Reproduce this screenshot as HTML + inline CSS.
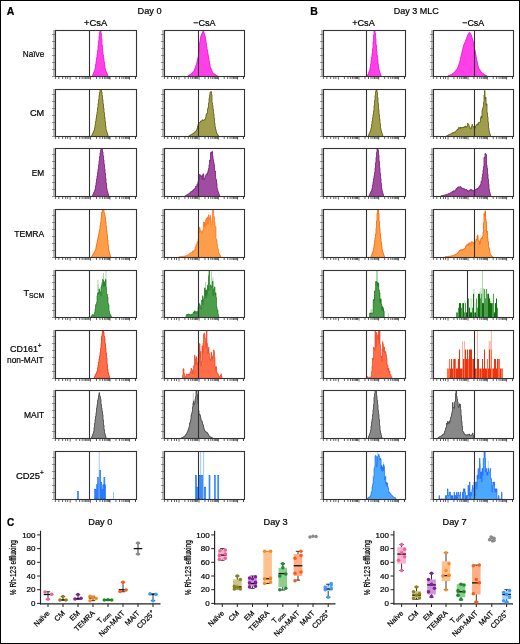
<!DOCTYPE html><html><head><meta charset="utf-8"><style>html,body{margin:0;padding:0;background:#fff;overflow:hidden;} svg{display:block;will-change:transform;} text{font-family:'Liberation Sans',sans-serif;stroke:#000;stroke-width:0.22px;}</style></head><body>
<svg width="520" height="644" viewBox="0 0 520 644">
<rect x="0" y="0" width="520" height="644" fill="#fff"/>
<rect x="53" y="30" width="2" height="46" fill="#b8b8b8"/>
<line x1="52" y1="76.5" x2="55" y2="76.5" stroke="#666" stroke-width="0.7"/>
<line x1="52" y1="69.5" x2="55" y2="69.5" stroke="#666" stroke-width="0.7"/>
<line x1="52" y1="62.5" x2="55" y2="62.5" stroke="#666" stroke-width="0.7"/>
<line x1="52" y1="55.5" x2="55" y2="55.5" stroke="#666" stroke-width="0.7"/>
<line x1="52" y1="48.5" x2="55" y2="48.5" stroke="#666" stroke-width="0.7"/>
<line x1="52" y1="41.5" x2="55" y2="41.5" stroke="#666" stroke-width="0.7"/>
<line x1="52" y1="34.5" x2="55" y2="34.5" stroke="#666" stroke-width="0.7"/>
<line x1="55.40" y1="76" x2="55.40" y2="79.0" stroke="#333" stroke-width="0.75"/>
<line x1="58.80" y1="76" x2="58.80" y2="79.0" stroke="#333" stroke-width="0.75"/>
<line x1="62.60" y1="76" x2="62.60" y2="79.0" stroke="#333" stroke-width="0.75"/>
<line x1="65.60" y1="76" x2="65.60" y2="79.0" stroke="#333" stroke-width="0.75"/>
<line x1="67.70" y1="76" x2="67.70" y2="79.0" stroke="#333" stroke-width="0.75"/>
<line x1="70.20" y1="76" x2="70.20" y2="79.6" stroke="#333" stroke-width="0.75"/>
<line x1="76.16" y1="76" x2="76.16" y2="79.0" stroke="#333" stroke-width="0.75"/>
<line x1="79.65" y1="76" x2="79.65" y2="79.0" stroke="#333" stroke-width="0.75"/>
<line x1="82.12" y1="76" x2="82.12" y2="79.0" stroke="#333" stroke-width="0.75"/>
<line x1="84.04" y1="76" x2="84.04" y2="79.0" stroke="#333" stroke-width="0.75"/>
<line x1="85.61" y1="76" x2="85.61" y2="79.0" stroke="#333" stroke-width="0.75"/>
<line x1="86.93" y1="76" x2="86.93" y2="79.0" stroke="#333" stroke-width="0.75"/>
<line x1="88.08" y1="76" x2="88.08" y2="79.0" stroke="#333" stroke-width="0.75"/>
<line x1="89.09" y1="76" x2="89.09" y2="79.0" stroke="#333" stroke-width="0.75"/>
<line x1="90.50" y1="76" x2="90.50" y2="79.6" stroke="#333" stroke-width="0.75"/>
<line x1="96.46" y1="76" x2="96.46" y2="79.0" stroke="#333" stroke-width="0.75"/>
<line x1="99.95" y1="76" x2="99.95" y2="79.0" stroke="#333" stroke-width="0.75"/>
<line x1="102.42" y1="76" x2="102.42" y2="79.0" stroke="#333" stroke-width="0.75"/>
<line x1="104.34" y1="76" x2="104.34" y2="79.0" stroke="#333" stroke-width="0.75"/>
<line x1="105.91" y1="76" x2="105.91" y2="79.0" stroke="#333" stroke-width="0.75"/>
<line x1="107.23" y1="76" x2="107.23" y2="79.0" stroke="#333" stroke-width="0.75"/>
<line x1="108.38" y1="76" x2="108.38" y2="79.0" stroke="#333" stroke-width="0.75"/>
<line x1="109.39" y1="76" x2="109.39" y2="79.0" stroke="#333" stroke-width="0.75"/>
<line x1="110.00" y1="76" x2="110.00" y2="79.6" stroke="#333" stroke-width="0.75"/>
<line x1="115.96" y1="76" x2="115.96" y2="79.0" stroke="#333" stroke-width="0.75"/>
<line x1="119.45" y1="76" x2="119.45" y2="79.0" stroke="#333" stroke-width="0.75"/>
<line x1="121.92" y1="76" x2="121.92" y2="79.0" stroke="#333" stroke-width="0.75"/>
<line x1="123.84" y1="76" x2="123.84" y2="79.0" stroke="#333" stroke-width="0.75"/>
<line x1="125.41" y1="76" x2="125.41" y2="79.0" stroke="#333" stroke-width="0.75"/>
<line x1="126.73" y1="76" x2="126.73" y2="79.0" stroke="#333" stroke-width="0.75"/>
<line x1="127.88" y1="76" x2="127.88" y2="79.0" stroke="#333" stroke-width="0.75"/>
<line x1="128.89" y1="76" x2="128.89" y2="79.0" stroke="#333" stroke-width="0.75"/>
<line x1="129.50" y1="76" x2="129.50" y2="79.6" stroke="#333" stroke-width="0.75"/>
<line x1="135.46" y1="76" x2="135.46" y2="79.0" stroke="#333" stroke-width="0.75"/>
<line x1="135.50" y1="76" x2="135.50" y2="79.0" stroke="#333" stroke-width="0.75"/>
<svg x="0" y="0" width="520" height="644"><defs><clipPath id="cp00"><rect x="55" y="30" width="82" height="47"/></clipPath></defs><g clip-path="url(#cp00)">
<path d="M92.5,77.0L92.5,75.2L93.0,75.2L93.0,74.0L93.5,74.0L93.5,72.7L94.0,72.7L94.0,71.5L94.5,71.5L94.5,70.3L95.0,70.3L95.0,68.0L95.5,68.0L95.5,64.6L96.0,64.6L96.0,61.2L96.5,61.2L96.5,57.7L97.0,57.7L97.0,54.3L97.5,54.3L97.5,50.4L98.0,50.4L98.0,45.6L98.5,45.6L98.5,40.7L99.0,40.7L99.0,35.9L99.5,35.9L99.5,32.4L100.0,32.4L100.0,30.5L101.0,30.5L101.0,33.7L101.5,33.7L101.5,39.0L102.0,39.0L102.0,45.2L102.5,45.2L102.5,51.3L103.0,51.3L103.0,55.0L103.5,55.0L103.5,58.4L104.0,58.4L104.0,61.8L104.5,61.8L104.5,65.3L105.0,65.3L105.0,68.7L105.5,68.7L105.5,70.6L106.0,70.6L106.0,71.8L106.5,71.8L106.5,73.0L107.0,73.0L107.0,74.2L107.5,74.2L107.5,75.4L108.0,75.4L108.0,77.0Z" fill="#ff40e8" stroke="#e818d8" stroke-width="0.8" stroke-linejoin="miter"/>
</g></svg>
<line x1="89.5" y1="30" x2="89.5" y2="77" stroke="#333" stroke-width="1.1"/>
<rect x="55.5" y="30.5" width="81" height="46" fill="none" stroke="#333" stroke-width="1.1"/>
<rect x="162" y="30" width="2" height="46" fill="#b8b8b8"/>
<line x1="161" y1="76.5" x2="164" y2="76.5" stroke="#666" stroke-width="0.7"/>
<line x1="161" y1="69.5" x2="164" y2="69.5" stroke="#666" stroke-width="0.7"/>
<line x1="161" y1="62.5" x2="164" y2="62.5" stroke="#666" stroke-width="0.7"/>
<line x1="161" y1="55.5" x2="164" y2="55.5" stroke="#666" stroke-width="0.7"/>
<line x1="161" y1="48.5" x2="164" y2="48.5" stroke="#666" stroke-width="0.7"/>
<line x1="161" y1="41.5" x2="164" y2="41.5" stroke="#666" stroke-width="0.7"/>
<line x1="161" y1="34.5" x2="164" y2="34.5" stroke="#666" stroke-width="0.7"/>
<line x1="164.40" y1="76" x2="164.40" y2="79.0" stroke="#333" stroke-width="0.75"/>
<line x1="167.75" y1="76" x2="167.75" y2="79.0" stroke="#333" stroke-width="0.75"/>
<line x1="171.51" y1="76" x2="171.51" y2="79.0" stroke="#333" stroke-width="0.75"/>
<line x1="174.47" y1="76" x2="174.47" y2="79.0" stroke="#333" stroke-width="0.75"/>
<line x1="176.54" y1="76" x2="176.54" y2="79.0" stroke="#333" stroke-width="0.75"/>
<line x1="179.01" y1="76" x2="179.01" y2="79.6" stroke="#333" stroke-width="0.75"/>
<line x1="184.90" y1="76" x2="184.90" y2="79.0" stroke="#333" stroke-width="0.75"/>
<line x1="188.34" y1="76" x2="188.34" y2="79.0" stroke="#333" stroke-width="0.75"/>
<line x1="190.79" y1="76" x2="190.79" y2="79.0" stroke="#333" stroke-width="0.75"/>
<line x1="192.68" y1="76" x2="192.68" y2="79.0" stroke="#333" stroke-width="0.75"/>
<line x1="194.23" y1="76" x2="194.23" y2="79.0" stroke="#333" stroke-width="0.75"/>
<line x1="195.54" y1="76" x2="195.54" y2="79.0" stroke="#333" stroke-width="0.75"/>
<line x1="196.67" y1="76" x2="196.67" y2="79.0" stroke="#333" stroke-width="0.75"/>
<line x1="197.67" y1="76" x2="197.67" y2="79.0" stroke="#333" stroke-width="0.75"/>
<line x1="199.06" y1="76" x2="199.06" y2="79.6" stroke="#333" stroke-width="0.75"/>
<line x1="204.95" y1="76" x2="204.95" y2="79.0" stroke="#333" stroke-width="0.75"/>
<line x1="208.39" y1="76" x2="208.39" y2="79.0" stroke="#333" stroke-width="0.75"/>
<line x1="210.84" y1="76" x2="210.84" y2="79.0" stroke="#333" stroke-width="0.75"/>
<line x1="212.73" y1="76" x2="212.73" y2="79.0" stroke="#333" stroke-width="0.75"/>
<line x1="214.28" y1="76" x2="214.28" y2="79.0" stroke="#333" stroke-width="0.75"/>
<line x1="215.59" y1="76" x2="215.59" y2="79.0" stroke="#333" stroke-width="0.75"/>
<line x1="216.72" y1="76" x2="216.72" y2="79.0" stroke="#333" stroke-width="0.75"/>
<line x1="217.72" y1="76" x2="217.72" y2="79.0" stroke="#333" stroke-width="0.75"/>
<line x1="218.32" y1="76" x2="218.32" y2="79.6" stroke="#333" stroke-width="0.75"/>
<line x1="224.21" y1="76" x2="224.21" y2="79.0" stroke="#333" stroke-width="0.75"/>
<line x1="227.65" y1="76" x2="227.65" y2="79.0" stroke="#333" stroke-width="0.75"/>
<line x1="230.09" y1="76" x2="230.09" y2="79.0" stroke="#333" stroke-width="0.75"/>
<line x1="231.99" y1="76" x2="231.99" y2="79.0" stroke="#333" stroke-width="0.75"/>
<line x1="233.54" y1="76" x2="233.54" y2="79.0" stroke="#333" stroke-width="0.75"/>
<line x1="234.85" y1="76" x2="234.85" y2="79.0" stroke="#333" stroke-width="0.75"/>
<line x1="235.98" y1="76" x2="235.98" y2="79.0" stroke="#333" stroke-width="0.75"/>
<line x1="236.98" y1="76" x2="236.98" y2="79.0" stroke="#333" stroke-width="0.75"/>
<line x1="237.58" y1="76" x2="237.58" y2="79.6" stroke="#333" stroke-width="0.75"/>
<line x1="243.47" y1="76" x2="243.47" y2="79.0" stroke="#333" stroke-width="0.75"/>
<line x1="243.51" y1="76" x2="243.51" y2="79.0" stroke="#333" stroke-width="0.75"/>
<svg x="0" y="0" width="520" height="644"><defs><clipPath id="cp01"><rect x="164" y="30" width="81" height="47"/></clipPath></defs><g clip-path="url(#cp01)">
<path d="M188.0,77.0L188.0,75.7L188.5,75.7L188.5,75.4L189.0,75.4L189.0,75.1L189.5,75.1L189.5,74.8L190.0,74.8L190.0,74.5L190.5,74.5L190.5,74.3L191.0,74.3L191.0,73.8L191.5,73.8L191.5,73.3L192.0,73.3L192.0,72.8L192.5,72.8L192.5,72.3L193.0,72.3L193.0,71.8L193.5,71.8L193.5,71.3L194.0,71.3L194.0,70.6L194.5,70.6L194.5,69.1L195.0,69.1L195.0,67.7L195.5,67.7L195.5,66.3L196.0,66.3L196.0,64.9L196.5,64.9L196.5,63.1L197.0,63.1L197.0,60.9L197.5,60.9L197.5,58.8L198.0,58.8L198.0,56.6L198.5,56.6L198.5,53.4L199.0,53.4L199.0,47.9L199.5,47.9L199.5,42.4L200.0,42.4L200.0,39.5L200.5,39.5L200.5,36.8L201.0,36.8L201.0,35.0L201.5,35.0L201.5,33.9L202.0,33.9L202.0,32.9L202.5,32.9L202.5,31.9L203.0,31.9L203.0,30.8L203.5,30.8L203.5,31.7L204.0,31.7L204.0,33.4L204.5,33.4L204.5,35.1L205.0,35.1L205.0,36.8L205.5,36.8L205.5,39.7L206.0,39.7L206.0,43.1L206.5,43.1L206.5,46.5L207.0,46.5L207.0,49.7L207.5,49.7L207.5,52.5L208.0,52.5L208.0,55.3L208.5,55.3L208.5,58.1L209.0,58.1L209.0,60.9L209.5,60.9L209.5,63.8L210.0,63.8L210.0,66.6L210.5,66.6L210.5,68.0L211.0,68.0L211.0,69.2L211.5,69.2L211.5,70.5L212.0,70.5L212.0,71.7L212.5,71.7L212.5,72.9L213.0,72.9L213.0,73.2L213.5,73.2L213.5,73.6L214.0,73.6L214.0,73.9L214.5,73.9L214.5,74.3L215.0,74.3L215.0,74.6L215.5,74.6L215.5,75.0L216.0,75.0L216.0,75.3L216.5,75.3L216.5,75.5L217.0,75.5L217.0,75.8L217.5,75.8L217.5,77.0Z" fill="#ff40e8" stroke="#e818d8" stroke-width="0.8" stroke-linejoin="miter"/>
</g></svg>
<line x1="198.5" y1="30" x2="198.5" y2="77" stroke="#333" stroke-width="1.1"/>
<rect x="164.5" y="30.5" width="80" height="46" fill="none" stroke="#333" stroke-width="1.1"/>
<rect x="321" y="30" width="2" height="46" fill="#b8b8b8"/>
<line x1="320" y1="76.5" x2="323" y2="76.5" stroke="#666" stroke-width="0.7"/>
<line x1="320" y1="69.5" x2="323" y2="69.5" stroke="#666" stroke-width="0.7"/>
<line x1="320" y1="62.5" x2="323" y2="62.5" stroke="#666" stroke-width="0.7"/>
<line x1="320" y1="55.5" x2="323" y2="55.5" stroke="#666" stroke-width="0.7"/>
<line x1="320" y1="48.5" x2="323" y2="48.5" stroke="#666" stroke-width="0.7"/>
<line x1="320" y1="41.5" x2="323" y2="41.5" stroke="#666" stroke-width="0.7"/>
<line x1="320" y1="34.5" x2="323" y2="34.5" stroke="#666" stroke-width="0.7"/>
<line x1="323.40" y1="76" x2="323.40" y2="79.0" stroke="#333" stroke-width="0.75"/>
<line x1="326.85" y1="76" x2="326.85" y2="79.0" stroke="#333" stroke-width="0.75"/>
<line x1="330.69" y1="76" x2="330.69" y2="79.0" stroke="#333" stroke-width="0.75"/>
<line x1="333.73" y1="76" x2="333.73" y2="79.0" stroke="#333" stroke-width="0.75"/>
<line x1="335.86" y1="76" x2="335.86" y2="79.0" stroke="#333" stroke-width="0.75"/>
<line x1="338.39" y1="76" x2="338.39" y2="79.6" stroke="#333" stroke-width="0.75"/>
<line x1="344.42" y1="76" x2="344.42" y2="79.0" stroke="#333" stroke-width="0.75"/>
<line x1="347.95" y1="76" x2="347.95" y2="79.0" stroke="#333" stroke-width="0.75"/>
<line x1="350.46" y1="76" x2="350.46" y2="79.0" stroke="#333" stroke-width="0.75"/>
<line x1="352.40" y1="76" x2="352.40" y2="79.0" stroke="#333" stroke-width="0.75"/>
<line x1="353.99" y1="76" x2="353.99" y2="79.0" stroke="#333" stroke-width="0.75"/>
<line x1="355.33" y1="76" x2="355.33" y2="79.0" stroke="#333" stroke-width="0.75"/>
<line x1="356.49" y1="76" x2="356.49" y2="79.0" stroke="#333" stroke-width="0.75"/>
<line x1="357.51" y1="76" x2="357.51" y2="79.0" stroke="#333" stroke-width="0.75"/>
<line x1="358.94" y1="76" x2="358.94" y2="79.6" stroke="#333" stroke-width="0.75"/>
<line x1="364.97" y1="76" x2="364.97" y2="79.0" stroke="#333" stroke-width="0.75"/>
<line x1="368.50" y1="76" x2="368.50" y2="79.0" stroke="#333" stroke-width="0.75"/>
<line x1="371.01" y1="76" x2="371.01" y2="79.0" stroke="#333" stroke-width="0.75"/>
<line x1="372.95" y1="76" x2="372.95" y2="79.0" stroke="#333" stroke-width="0.75"/>
<line x1="374.54" y1="76" x2="374.54" y2="79.0" stroke="#333" stroke-width="0.75"/>
<line x1="375.88" y1="76" x2="375.88" y2="79.0" stroke="#333" stroke-width="0.75"/>
<line x1="377.04" y1="76" x2="377.04" y2="79.0" stroke="#333" stroke-width="0.75"/>
<line x1="378.07" y1="76" x2="378.07" y2="79.0" stroke="#333" stroke-width="0.75"/>
<line x1="378.68" y1="76" x2="378.68" y2="79.6" stroke="#333" stroke-width="0.75"/>
<line x1="384.71" y1="76" x2="384.71" y2="79.0" stroke="#333" stroke-width="0.75"/>
<line x1="388.24" y1="76" x2="388.24" y2="79.0" stroke="#333" stroke-width="0.75"/>
<line x1="390.75" y1="76" x2="390.75" y2="79.0" stroke="#333" stroke-width="0.75"/>
<line x1="392.69" y1="76" x2="392.69" y2="79.0" stroke="#333" stroke-width="0.75"/>
<line x1="394.28" y1="76" x2="394.28" y2="79.0" stroke="#333" stroke-width="0.75"/>
<line x1="395.62" y1="76" x2="395.62" y2="79.0" stroke="#333" stroke-width="0.75"/>
<line x1="396.78" y1="76" x2="396.78" y2="79.0" stroke="#333" stroke-width="0.75"/>
<line x1="397.81" y1="76" x2="397.81" y2="79.0" stroke="#333" stroke-width="0.75"/>
<line x1="398.42" y1="76" x2="398.42" y2="79.6" stroke="#333" stroke-width="0.75"/>
<line x1="404.45" y1="76" x2="404.45" y2="79.0" stroke="#333" stroke-width="0.75"/>
<line x1="404.49" y1="76" x2="404.49" y2="79.0" stroke="#333" stroke-width="0.75"/>
<svg x="0" y="0" width="520" height="644"><defs><clipPath id="cp02"><rect x="323" y="30" width="83" height="47"/></clipPath></defs><g clip-path="url(#cp02)">
<path d="M367.5,77.0L367.5,74.9L368.0,74.9L368.0,73.7L368.5,73.7L368.5,72.5L369.0,72.5L369.0,71.3L369.5,71.3L369.5,70.1L370.0,70.1L370.0,67.3L370.5,67.3L370.5,63.9L371.0,63.9L371.0,60.5L371.5,60.5L371.5,57.0L372.0,57.0L372.0,53.6L372.5,53.6L372.5,48.5L373.0,48.5L373.0,41.8L373.5,41.8L373.5,35.1L374.0,35.1L374.0,30.8L374.5,30.8L374.5,30.5L375.0,30.5L375.0,33.1L375.5,33.1L375.5,38.5L376.0,38.5L376.0,44.9L376.5,44.9L376.5,51.2L377.0,51.2L377.0,55.6L377.5,55.6L377.5,59.8L378.0,59.8L378.0,63.9L378.5,63.9L378.5,68.1L379.0,68.1L379.0,70.6L379.5,70.6L379.5,72.1L380.0,72.1L380.0,73.5L380.5,73.5L380.5,75.0L381.0,75.0L381.0,77.0Z" fill="#ff40e8" stroke="#e818d8" stroke-width="0.8" stroke-linejoin="miter"/>
</g></svg>
<line x1="366.5" y1="30" x2="366.5" y2="77" stroke="#333" stroke-width="1.1"/>
<rect x="323.5" y="30.5" width="82" height="46" fill="none" stroke="#333" stroke-width="1.1"/>
<rect x="431" y="30" width="2" height="46" fill="#b8b8b8"/>
<line x1="430" y1="76.5" x2="433" y2="76.5" stroke="#666" stroke-width="0.7"/>
<line x1="430" y1="69.5" x2="433" y2="69.5" stroke="#666" stroke-width="0.7"/>
<line x1="430" y1="62.5" x2="433" y2="62.5" stroke="#666" stroke-width="0.7"/>
<line x1="430" y1="55.5" x2="433" y2="55.5" stroke="#666" stroke-width="0.7"/>
<line x1="430" y1="48.5" x2="433" y2="48.5" stroke="#666" stroke-width="0.7"/>
<line x1="430" y1="41.5" x2="433" y2="41.5" stroke="#666" stroke-width="0.7"/>
<line x1="430" y1="34.5" x2="433" y2="34.5" stroke="#666" stroke-width="0.7"/>
<line x1="433.40" y1="76" x2="433.40" y2="79.0" stroke="#333" stroke-width="0.75"/>
<line x1="436.75" y1="76" x2="436.75" y2="79.0" stroke="#333" stroke-width="0.75"/>
<line x1="440.51" y1="76" x2="440.51" y2="79.0" stroke="#333" stroke-width="0.75"/>
<line x1="443.47" y1="76" x2="443.47" y2="79.0" stroke="#333" stroke-width="0.75"/>
<line x1="445.54" y1="76" x2="445.54" y2="79.0" stroke="#333" stroke-width="0.75"/>
<line x1="448.01" y1="76" x2="448.01" y2="79.6" stroke="#333" stroke-width="0.75"/>
<line x1="453.90" y1="76" x2="453.90" y2="79.0" stroke="#333" stroke-width="0.75"/>
<line x1="457.34" y1="76" x2="457.34" y2="79.0" stroke="#333" stroke-width="0.75"/>
<line x1="459.79" y1="76" x2="459.79" y2="79.0" stroke="#333" stroke-width="0.75"/>
<line x1="461.68" y1="76" x2="461.68" y2="79.0" stroke="#333" stroke-width="0.75"/>
<line x1="463.23" y1="76" x2="463.23" y2="79.0" stroke="#333" stroke-width="0.75"/>
<line x1="464.54" y1="76" x2="464.54" y2="79.0" stroke="#333" stroke-width="0.75"/>
<line x1="465.67" y1="76" x2="465.67" y2="79.0" stroke="#333" stroke-width="0.75"/>
<line x1="466.67" y1="76" x2="466.67" y2="79.0" stroke="#333" stroke-width="0.75"/>
<line x1="468.06" y1="76" x2="468.06" y2="79.6" stroke="#333" stroke-width="0.75"/>
<line x1="473.95" y1="76" x2="473.95" y2="79.0" stroke="#333" stroke-width="0.75"/>
<line x1="477.39" y1="76" x2="477.39" y2="79.0" stroke="#333" stroke-width="0.75"/>
<line x1="479.84" y1="76" x2="479.84" y2="79.0" stroke="#333" stroke-width="0.75"/>
<line x1="481.73" y1="76" x2="481.73" y2="79.0" stroke="#333" stroke-width="0.75"/>
<line x1="483.28" y1="76" x2="483.28" y2="79.0" stroke="#333" stroke-width="0.75"/>
<line x1="484.59" y1="76" x2="484.59" y2="79.0" stroke="#333" stroke-width="0.75"/>
<line x1="485.72" y1="76" x2="485.72" y2="79.0" stroke="#333" stroke-width="0.75"/>
<line x1="486.72" y1="76" x2="486.72" y2="79.0" stroke="#333" stroke-width="0.75"/>
<line x1="487.32" y1="76" x2="487.32" y2="79.6" stroke="#333" stroke-width="0.75"/>
<line x1="493.21" y1="76" x2="493.21" y2="79.0" stroke="#333" stroke-width="0.75"/>
<line x1="496.65" y1="76" x2="496.65" y2="79.0" stroke="#333" stroke-width="0.75"/>
<line x1="499.09" y1="76" x2="499.09" y2="79.0" stroke="#333" stroke-width="0.75"/>
<line x1="500.99" y1="76" x2="500.99" y2="79.0" stroke="#333" stroke-width="0.75"/>
<line x1="502.54" y1="76" x2="502.54" y2="79.0" stroke="#333" stroke-width="0.75"/>
<line x1="503.85" y1="76" x2="503.85" y2="79.0" stroke="#333" stroke-width="0.75"/>
<line x1="504.98" y1="76" x2="504.98" y2="79.0" stroke="#333" stroke-width="0.75"/>
<line x1="505.98" y1="76" x2="505.98" y2="79.0" stroke="#333" stroke-width="0.75"/>
<line x1="506.58" y1="76" x2="506.58" y2="79.6" stroke="#333" stroke-width="0.75"/>
<line x1="512.47" y1="76" x2="512.47" y2="79.0" stroke="#333" stroke-width="0.75"/>
<line x1="512.51" y1="76" x2="512.51" y2="79.0" stroke="#333" stroke-width="0.75"/>
<svg x="0" y="0" width="520" height="644"><defs><clipPath id="cp03"><rect x="433" y="30" width="81" height="47"/></clipPath></defs><g clip-path="url(#cp03)">
<path d="M448.0,77.0L448.0,75.8L448.5,75.8L448.5,75.7L449.0,75.7L449.0,75.5L449.5,75.5L449.5,75.3L450.0,75.3L450.0,75.1L450.5,75.1L450.5,74.9L451.0,74.9L451.0,74.8L451.5,74.8L451.5,74.5L452.0,74.5L452.0,74.1L452.5,74.1L452.5,73.7L453.0,73.7L453.0,73.3L453.5,73.3L453.5,72.9L454.0,72.9L454.0,72.6L454.5,72.6L454.5,72.0L455.0,72.0L455.0,71.4L455.5,71.4L455.5,70.8L456.0,70.8L456.0,70.2L456.5,70.2L456.5,69.5L457.0,69.5L457.0,68.9L457.5,68.9L457.5,67.7L458.0,67.7L458.0,66.3L458.5,66.3L458.5,64.9L459.0,64.9L459.0,63.5L459.5,63.5L459.5,62.0L460.0,62.0L460.0,59.8L460.5,59.8L460.5,57.6L461.0,57.6L461.0,55.3L461.5,55.3L461.5,53.0L462.0,53.0L462.0,51.0L462.5,51.0L462.5,49.0L463.0,49.0L463.0,46.9L463.5,46.9L463.5,45.2L464.0,45.2L464.0,44.0L464.5,44.0L464.5,42.9L465.0,42.9L465.0,41.8L465.5,41.8L465.5,40.5L466.0,40.5L466.0,39.1L466.5,39.1L466.5,37.7L467.0,37.7L467.0,36.2L467.5,36.2L467.5,35.1L468.0,35.1L468.0,34.2L468.5,34.2L468.5,33.4L469.0,33.4L469.0,32.6L469.5,32.6L469.5,32.8L470.0,32.8L470.0,33.5L470.5,33.5L470.5,34.3L471.0,34.3L471.0,35.0L471.5,35.0L471.5,36.6L472.0,36.6L472.0,38.3L472.5,38.3L472.5,40.0L473.0,40.0L473.0,41.7L473.5,41.7L473.5,44.1L474.0,44.1L474.0,46.7L474.5,46.7L474.5,49.2L475.0,49.2L475.0,51.7L475.5,51.7L475.5,54.5L476.0,54.5L476.0,57.2L476.5,57.2L476.5,59.8L477.0,59.8L477.0,62.1L477.5,62.1L477.5,64.4L478.0,64.4L478.0,66.7L478.5,66.7L478.5,68.2L479.0,68.2L479.0,69.0L479.5,69.0L479.5,69.8L480.0,69.8L480.0,70.6L480.5,70.6L480.5,71.3L481.0,71.3L481.0,72.1L481.5,72.1L481.5,72.6L482.0,72.6L482.0,73.0L482.5,73.0L482.5,73.4L483.0,73.4L483.0,73.8L483.5,73.8L483.5,74.2L484.0,74.2L484.0,74.6L484.5,74.6L484.5,74.8L485.0,74.8L485.0,75.1L485.5,75.1L485.5,75.3L486.0,75.3L486.0,75.6L486.5,75.6L486.5,75.8L487.0,75.8L487.0,77.0Z" fill="#ff40e8" stroke="#e818d8" stroke-width="0.8" stroke-linejoin="miter"/>
</g></svg>
<line x1="474.5" y1="30" x2="474.5" y2="77" stroke="#333" stroke-width="1.1"/>
<rect x="433.5" y="30.5" width="80" height="46" fill="none" stroke="#333" stroke-width="1.1"/>
<rect x="53" y="89" width="2" height="47" fill="#b8b8b8"/>
<line x1="52" y1="136.5" x2="55" y2="136.5" stroke="#666" stroke-width="0.7"/>
<line x1="52" y1="129.5" x2="55" y2="129.5" stroke="#666" stroke-width="0.7"/>
<line x1="52" y1="122.5" x2="55" y2="122.5" stroke="#666" stroke-width="0.7"/>
<line x1="52" y1="115.5" x2="55" y2="115.5" stroke="#666" stroke-width="0.7"/>
<line x1="52" y1="108.5" x2="55" y2="108.5" stroke="#666" stroke-width="0.7"/>
<line x1="52" y1="101.5" x2="55" y2="101.5" stroke="#666" stroke-width="0.7"/>
<line x1="52" y1="94.5" x2="55" y2="94.5" stroke="#666" stroke-width="0.7"/>
<line x1="55.40" y1="136" x2="55.40" y2="139.0" stroke="#333" stroke-width="0.75"/>
<line x1="58.80" y1="136" x2="58.80" y2="139.0" stroke="#333" stroke-width="0.75"/>
<line x1="62.60" y1="136" x2="62.60" y2="139.0" stroke="#333" stroke-width="0.75"/>
<line x1="65.60" y1="136" x2="65.60" y2="139.0" stroke="#333" stroke-width="0.75"/>
<line x1="67.70" y1="136" x2="67.70" y2="139.0" stroke="#333" stroke-width="0.75"/>
<line x1="70.20" y1="136" x2="70.20" y2="139.6" stroke="#333" stroke-width="0.75"/>
<line x1="76.16" y1="136" x2="76.16" y2="139.0" stroke="#333" stroke-width="0.75"/>
<line x1="79.65" y1="136" x2="79.65" y2="139.0" stroke="#333" stroke-width="0.75"/>
<line x1="82.12" y1="136" x2="82.12" y2="139.0" stroke="#333" stroke-width="0.75"/>
<line x1="84.04" y1="136" x2="84.04" y2="139.0" stroke="#333" stroke-width="0.75"/>
<line x1="85.61" y1="136" x2="85.61" y2="139.0" stroke="#333" stroke-width="0.75"/>
<line x1="86.93" y1="136" x2="86.93" y2="139.0" stroke="#333" stroke-width="0.75"/>
<line x1="88.08" y1="136" x2="88.08" y2="139.0" stroke="#333" stroke-width="0.75"/>
<line x1="89.09" y1="136" x2="89.09" y2="139.0" stroke="#333" stroke-width="0.75"/>
<line x1="90.50" y1="136" x2="90.50" y2="139.6" stroke="#333" stroke-width="0.75"/>
<line x1="96.46" y1="136" x2="96.46" y2="139.0" stroke="#333" stroke-width="0.75"/>
<line x1="99.95" y1="136" x2="99.95" y2="139.0" stroke="#333" stroke-width="0.75"/>
<line x1="102.42" y1="136" x2="102.42" y2="139.0" stroke="#333" stroke-width="0.75"/>
<line x1="104.34" y1="136" x2="104.34" y2="139.0" stroke="#333" stroke-width="0.75"/>
<line x1="105.91" y1="136" x2="105.91" y2="139.0" stroke="#333" stroke-width="0.75"/>
<line x1="107.23" y1="136" x2="107.23" y2="139.0" stroke="#333" stroke-width="0.75"/>
<line x1="108.38" y1="136" x2="108.38" y2="139.0" stroke="#333" stroke-width="0.75"/>
<line x1="109.39" y1="136" x2="109.39" y2="139.0" stroke="#333" stroke-width="0.75"/>
<line x1="110.00" y1="136" x2="110.00" y2="139.6" stroke="#333" stroke-width="0.75"/>
<line x1="115.96" y1="136" x2="115.96" y2="139.0" stroke="#333" stroke-width="0.75"/>
<line x1="119.45" y1="136" x2="119.45" y2="139.0" stroke="#333" stroke-width="0.75"/>
<line x1="121.92" y1="136" x2="121.92" y2="139.0" stroke="#333" stroke-width="0.75"/>
<line x1="123.84" y1="136" x2="123.84" y2="139.0" stroke="#333" stroke-width="0.75"/>
<line x1="125.41" y1="136" x2="125.41" y2="139.0" stroke="#333" stroke-width="0.75"/>
<line x1="126.73" y1="136" x2="126.73" y2="139.0" stroke="#333" stroke-width="0.75"/>
<line x1="127.88" y1="136" x2="127.88" y2="139.0" stroke="#333" stroke-width="0.75"/>
<line x1="128.89" y1="136" x2="128.89" y2="139.0" stroke="#333" stroke-width="0.75"/>
<line x1="129.50" y1="136" x2="129.50" y2="139.6" stroke="#333" stroke-width="0.75"/>
<line x1="135.46" y1="136" x2="135.46" y2="139.0" stroke="#333" stroke-width="0.75"/>
<line x1="135.50" y1="136" x2="135.50" y2="139.0" stroke="#333" stroke-width="0.75"/>
<svg x="0" y="0" width="520" height="644"><defs><clipPath id="cp10"><rect x="55" y="89" width="82" height="48"/></clipPath></defs><g clip-path="url(#cp10)">
<path d="M91.5,137.0L91.5,135.7L92.0,135.7L92.0,134.5L92.5,134.5L92.5,133.4L93.0,133.4L93.0,132.3L93.5,132.3L93.5,131.2L94.0,131.2L94.0,130.0L94.5,130.0L94.5,127.7L95.0,127.7L95.0,124.5L95.5,124.5L95.5,121.3L96.0,121.3L96.0,118.1L96.5,118.1L96.5,114.9L97.0,114.9L97.0,111.7L97.5,111.7L97.5,107.7L98.0,107.7L98.0,103.6L98.5,103.6L98.5,99.4L99.0,99.4L99.0,95.3L99.5,95.3L99.5,92.3L100.0,92.3L100.0,89.6L100.5,89.6L100.5,89.5L101.5,89.5L101.5,92.0L102.0,92.0L102.0,95.2L102.5,95.2L102.5,99.6L103.0,99.6L103.0,103.9L103.5,103.9L103.5,108.3L104.0,108.3L104.0,112.7L104.5,112.7L104.5,117.1L105.0,117.1L105.0,121.6L105.5,121.6L105.5,126.0L106.0,126.0L106.0,129.9L106.5,129.9L106.5,131.5L107.0,131.5L107.0,133.0L107.5,133.0L107.5,134.6L108.0,134.6L108.0,137.0Z" fill="#a09e4c" stroke="#5e5c10" stroke-width="0.8" stroke-linejoin="miter"/>
</g></svg>
<line x1="89.5" y1="89" x2="89.5" y2="137" stroke="#333" stroke-width="1.1"/>
<rect x="55.5" y="89.5" width="81" height="47" fill="none" stroke="#333" stroke-width="1.1"/>
<rect x="162" y="89" width="2" height="47" fill="#b8b8b8"/>
<line x1="161" y1="136.5" x2="164" y2="136.5" stroke="#666" stroke-width="0.7"/>
<line x1="161" y1="129.5" x2="164" y2="129.5" stroke="#666" stroke-width="0.7"/>
<line x1="161" y1="122.5" x2="164" y2="122.5" stroke="#666" stroke-width="0.7"/>
<line x1="161" y1="115.5" x2="164" y2="115.5" stroke="#666" stroke-width="0.7"/>
<line x1="161" y1="108.5" x2="164" y2="108.5" stroke="#666" stroke-width="0.7"/>
<line x1="161" y1="101.5" x2="164" y2="101.5" stroke="#666" stroke-width="0.7"/>
<line x1="161" y1="94.5" x2="164" y2="94.5" stroke="#666" stroke-width="0.7"/>
<line x1="164.40" y1="136" x2="164.40" y2="139.0" stroke="#333" stroke-width="0.75"/>
<line x1="167.75" y1="136" x2="167.75" y2="139.0" stroke="#333" stroke-width="0.75"/>
<line x1="171.51" y1="136" x2="171.51" y2="139.0" stroke="#333" stroke-width="0.75"/>
<line x1="174.47" y1="136" x2="174.47" y2="139.0" stroke="#333" stroke-width="0.75"/>
<line x1="176.54" y1="136" x2="176.54" y2="139.0" stroke="#333" stroke-width="0.75"/>
<line x1="179.01" y1="136" x2="179.01" y2="139.6" stroke="#333" stroke-width="0.75"/>
<line x1="184.90" y1="136" x2="184.90" y2="139.0" stroke="#333" stroke-width="0.75"/>
<line x1="188.34" y1="136" x2="188.34" y2="139.0" stroke="#333" stroke-width="0.75"/>
<line x1="190.79" y1="136" x2="190.79" y2="139.0" stroke="#333" stroke-width="0.75"/>
<line x1="192.68" y1="136" x2="192.68" y2="139.0" stroke="#333" stroke-width="0.75"/>
<line x1="194.23" y1="136" x2="194.23" y2="139.0" stroke="#333" stroke-width="0.75"/>
<line x1="195.54" y1="136" x2="195.54" y2="139.0" stroke="#333" stroke-width="0.75"/>
<line x1="196.67" y1="136" x2="196.67" y2="139.0" stroke="#333" stroke-width="0.75"/>
<line x1="197.67" y1="136" x2="197.67" y2="139.0" stroke="#333" stroke-width="0.75"/>
<line x1="199.06" y1="136" x2="199.06" y2="139.6" stroke="#333" stroke-width="0.75"/>
<line x1="204.95" y1="136" x2="204.95" y2="139.0" stroke="#333" stroke-width="0.75"/>
<line x1="208.39" y1="136" x2="208.39" y2="139.0" stroke="#333" stroke-width="0.75"/>
<line x1="210.84" y1="136" x2="210.84" y2="139.0" stroke="#333" stroke-width="0.75"/>
<line x1="212.73" y1="136" x2="212.73" y2="139.0" stroke="#333" stroke-width="0.75"/>
<line x1="214.28" y1="136" x2="214.28" y2="139.0" stroke="#333" stroke-width="0.75"/>
<line x1="215.59" y1="136" x2="215.59" y2="139.0" stroke="#333" stroke-width="0.75"/>
<line x1="216.72" y1="136" x2="216.72" y2="139.0" stroke="#333" stroke-width="0.75"/>
<line x1="217.72" y1="136" x2="217.72" y2="139.0" stroke="#333" stroke-width="0.75"/>
<line x1="218.32" y1="136" x2="218.32" y2="139.6" stroke="#333" stroke-width="0.75"/>
<line x1="224.21" y1="136" x2="224.21" y2="139.0" stroke="#333" stroke-width="0.75"/>
<line x1="227.65" y1="136" x2="227.65" y2="139.0" stroke="#333" stroke-width="0.75"/>
<line x1="230.09" y1="136" x2="230.09" y2="139.0" stroke="#333" stroke-width="0.75"/>
<line x1="231.99" y1="136" x2="231.99" y2="139.0" stroke="#333" stroke-width="0.75"/>
<line x1="233.54" y1="136" x2="233.54" y2="139.0" stroke="#333" stroke-width="0.75"/>
<line x1="234.85" y1="136" x2="234.85" y2="139.0" stroke="#333" stroke-width="0.75"/>
<line x1="235.98" y1="136" x2="235.98" y2="139.0" stroke="#333" stroke-width="0.75"/>
<line x1="236.98" y1="136" x2="236.98" y2="139.0" stroke="#333" stroke-width="0.75"/>
<line x1="237.58" y1="136" x2="237.58" y2="139.6" stroke="#333" stroke-width="0.75"/>
<line x1="243.47" y1="136" x2="243.47" y2="139.0" stroke="#333" stroke-width="0.75"/>
<line x1="243.51" y1="136" x2="243.51" y2="139.0" stroke="#333" stroke-width="0.75"/>
<svg x="0" y="0" width="520" height="644"><defs><clipPath id="cp11"><rect x="164" y="89" width="81" height="48"/></clipPath></defs><g clip-path="url(#cp11)">
<path d="M189.0,137.0L189.0,135.7L189.5,135.7L189.5,135.4L190.0,135.4L190.0,135.1L190.5,135.1L190.5,134.9L191.0,134.9L191.0,134.7L191.5,134.7L191.5,134.3L192.0,134.3L192.0,134.0L192.5,134.0L192.5,133.7L193.0,133.7L193.0,133.5L193.5,133.5L193.5,133.1L194.0,133.1L194.0,132.6L194.5,132.6L194.5,132.1L195.0,132.1L195.0,131.8L195.5,131.8L195.5,131.2L196.0,131.2L196.0,130.7L196.5,130.7L196.5,129.9L197.0,129.9L197.0,128.1L197.5,128.1L197.5,126.0L198.0,126.0L198.0,124.4L198.5,124.4L198.5,123.2L199.0,123.2L199.0,122.8L199.5,122.8L199.5,122.5L200.0,122.5L200.0,122.0L200.5,122.0L200.5,121.0L201.0,121.0L201.0,121.1L201.5,121.1L201.5,120.9L202.0,120.9L202.0,119.8L202.5,119.8L202.5,120.3L203.0,120.3L203.0,120.1L203.5,120.1L203.5,120.4L204.0,120.4L204.0,120.3L204.5,120.3L204.5,119.3L205.0,119.3L205.0,119.2L205.5,119.2L205.5,117.2L206.0,117.2L206.0,114.5L206.5,114.5L206.5,113.6L207.0,113.6L207.0,113.1L207.5,113.1L207.5,109.0L208.0,109.0L208.0,107.2L208.5,107.2L208.5,103.1L209.0,103.1L209.0,98.2L209.5,98.2L209.5,95.2L210.0,95.2L210.0,92.0L211.0,92.0L211.0,91.7L211.5,91.7L211.5,94.8L212.0,94.8L212.0,102.9L212.5,102.9L212.5,105.7L213.0,105.7L213.0,109.4L213.5,109.4L213.5,113.7L214.0,113.7L214.0,118.1L214.5,118.1L214.5,123.2L215.0,123.2L215.0,126.9L215.5,126.9L215.5,129.3L216.0,129.3L216.0,131.2L216.5,131.2L216.5,133.3L217.0,133.3L217.0,133.9L217.5,133.9L217.5,134.6L218.0,134.6L218.0,135.4L218.5,135.4L218.5,137.0Z" fill="#a09e4c" stroke="#5e5c10" stroke-width="0.8" stroke-linejoin="miter"/>
</g></svg>
<line x1="198.5" y1="89" x2="198.5" y2="137" stroke="#333" stroke-width="1.1"/>
<rect x="164.5" y="89.5" width="80" height="47" fill="none" stroke="#333" stroke-width="1.1"/>
<rect x="321" y="89" width="2" height="47" fill="#b8b8b8"/>
<line x1="320" y1="136.5" x2="323" y2="136.5" stroke="#666" stroke-width="0.7"/>
<line x1="320" y1="129.5" x2="323" y2="129.5" stroke="#666" stroke-width="0.7"/>
<line x1="320" y1="122.5" x2="323" y2="122.5" stroke="#666" stroke-width="0.7"/>
<line x1="320" y1="115.5" x2="323" y2="115.5" stroke="#666" stroke-width="0.7"/>
<line x1="320" y1="108.5" x2="323" y2="108.5" stroke="#666" stroke-width="0.7"/>
<line x1="320" y1="101.5" x2="323" y2="101.5" stroke="#666" stroke-width="0.7"/>
<line x1="320" y1="94.5" x2="323" y2="94.5" stroke="#666" stroke-width="0.7"/>
<line x1="323.40" y1="136" x2="323.40" y2="139.0" stroke="#333" stroke-width="0.75"/>
<line x1="326.85" y1="136" x2="326.85" y2="139.0" stroke="#333" stroke-width="0.75"/>
<line x1="330.69" y1="136" x2="330.69" y2="139.0" stroke="#333" stroke-width="0.75"/>
<line x1="333.73" y1="136" x2="333.73" y2="139.0" stroke="#333" stroke-width="0.75"/>
<line x1="335.86" y1="136" x2="335.86" y2="139.0" stroke="#333" stroke-width="0.75"/>
<line x1="338.39" y1="136" x2="338.39" y2="139.6" stroke="#333" stroke-width="0.75"/>
<line x1="344.42" y1="136" x2="344.42" y2="139.0" stroke="#333" stroke-width="0.75"/>
<line x1="347.95" y1="136" x2="347.95" y2="139.0" stroke="#333" stroke-width="0.75"/>
<line x1="350.46" y1="136" x2="350.46" y2="139.0" stroke="#333" stroke-width="0.75"/>
<line x1="352.40" y1="136" x2="352.40" y2="139.0" stroke="#333" stroke-width="0.75"/>
<line x1="353.99" y1="136" x2="353.99" y2="139.0" stroke="#333" stroke-width="0.75"/>
<line x1="355.33" y1="136" x2="355.33" y2="139.0" stroke="#333" stroke-width="0.75"/>
<line x1="356.49" y1="136" x2="356.49" y2="139.0" stroke="#333" stroke-width="0.75"/>
<line x1="357.51" y1="136" x2="357.51" y2="139.0" stroke="#333" stroke-width="0.75"/>
<line x1="358.94" y1="136" x2="358.94" y2="139.6" stroke="#333" stroke-width="0.75"/>
<line x1="364.97" y1="136" x2="364.97" y2="139.0" stroke="#333" stroke-width="0.75"/>
<line x1="368.50" y1="136" x2="368.50" y2="139.0" stroke="#333" stroke-width="0.75"/>
<line x1="371.01" y1="136" x2="371.01" y2="139.0" stroke="#333" stroke-width="0.75"/>
<line x1="372.95" y1="136" x2="372.95" y2="139.0" stroke="#333" stroke-width="0.75"/>
<line x1="374.54" y1="136" x2="374.54" y2="139.0" stroke="#333" stroke-width="0.75"/>
<line x1="375.88" y1="136" x2="375.88" y2="139.0" stroke="#333" stroke-width="0.75"/>
<line x1="377.04" y1="136" x2="377.04" y2="139.0" stroke="#333" stroke-width="0.75"/>
<line x1="378.07" y1="136" x2="378.07" y2="139.0" stroke="#333" stroke-width="0.75"/>
<line x1="378.68" y1="136" x2="378.68" y2="139.6" stroke="#333" stroke-width="0.75"/>
<line x1="384.71" y1="136" x2="384.71" y2="139.0" stroke="#333" stroke-width="0.75"/>
<line x1="388.24" y1="136" x2="388.24" y2="139.0" stroke="#333" stroke-width="0.75"/>
<line x1="390.75" y1="136" x2="390.75" y2="139.0" stroke="#333" stroke-width="0.75"/>
<line x1="392.69" y1="136" x2="392.69" y2="139.0" stroke="#333" stroke-width="0.75"/>
<line x1="394.28" y1="136" x2="394.28" y2="139.0" stroke="#333" stroke-width="0.75"/>
<line x1="395.62" y1="136" x2="395.62" y2="139.0" stroke="#333" stroke-width="0.75"/>
<line x1="396.78" y1="136" x2="396.78" y2="139.0" stroke="#333" stroke-width="0.75"/>
<line x1="397.81" y1="136" x2="397.81" y2="139.0" stroke="#333" stroke-width="0.75"/>
<line x1="398.42" y1="136" x2="398.42" y2="139.6" stroke="#333" stroke-width="0.75"/>
<line x1="404.45" y1="136" x2="404.45" y2="139.0" stroke="#333" stroke-width="0.75"/>
<line x1="404.49" y1="136" x2="404.49" y2="139.0" stroke="#333" stroke-width="0.75"/>
<svg x="0" y="0" width="520" height="644"><defs><clipPath id="cp12"><rect x="323" y="89" width="83" height="48"/></clipPath></defs><g clip-path="url(#cp12)">
<path d="M368.5,137.0L368.5,134.7L369.0,134.7L369.0,133.6L369.5,133.6L369.5,132.4L370.0,132.4L370.0,131.2L370.5,131.2L370.5,130.1L371.0,130.1L371.0,127.6L371.5,127.6L371.5,124.3L372.0,124.3L372.0,121.0L372.5,121.0L372.5,117.7L373.0,117.7L373.0,114.3L373.5,114.3L373.5,110.8L374.0,110.8L374.0,105.7L374.5,105.7L374.5,100.6L375.0,100.6L375.0,95.4L375.5,95.4L375.5,91.7L376.0,91.7L376.0,89.5L377.0,89.5L377.0,92.5L377.5,92.5L377.5,97.6L378.0,97.6L378.0,103.6L378.5,103.6L378.5,109.6L379.0,109.6L379.0,114.5L379.5,114.5L379.5,119.1L380.0,119.1L380.0,123.7L380.5,123.7L380.5,128.2L381.0,128.2L381.0,130.7L381.5,130.7L381.5,132.3L382.0,132.3L382.0,133.9L382.5,133.9L382.5,135.5L383.0,135.5L383.0,137.0Z" fill="#a09e4c" stroke="#5e5c10" stroke-width="0.8" stroke-linejoin="miter"/>
</g></svg>
<line x1="366.5" y1="89" x2="366.5" y2="137" stroke="#333" stroke-width="1.1"/>
<rect x="323.5" y="89.5" width="82" height="47" fill="none" stroke="#333" stroke-width="1.1"/>
<rect x="431" y="89" width="2" height="47" fill="#b8b8b8"/>
<line x1="430" y1="136.5" x2="433" y2="136.5" stroke="#666" stroke-width="0.7"/>
<line x1="430" y1="129.5" x2="433" y2="129.5" stroke="#666" stroke-width="0.7"/>
<line x1="430" y1="122.5" x2="433" y2="122.5" stroke="#666" stroke-width="0.7"/>
<line x1="430" y1="115.5" x2="433" y2="115.5" stroke="#666" stroke-width="0.7"/>
<line x1="430" y1="108.5" x2="433" y2="108.5" stroke="#666" stroke-width="0.7"/>
<line x1="430" y1="101.5" x2="433" y2="101.5" stroke="#666" stroke-width="0.7"/>
<line x1="430" y1="94.5" x2="433" y2="94.5" stroke="#666" stroke-width="0.7"/>
<line x1="433.40" y1="136" x2="433.40" y2="139.0" stroke="#333" stroke-width="0.75"/>
<line x1="436.75" y1="136" x2="436.75" y2="139.0" stroke="#333" stroke-width="0.75"/>
<line x1="440.51" y1="136" x2="440.51" y2="139.0" stroke="#333" stroke-width="0.75"/>
<line x1="443.47" y1="136" x2="443.47" y2="139.0" stroke="#333" stroke-width="0.75"/>
<line x1="445.54" y1="136" x2="445.54" y2="139.0" stroke="#333" stroke-width="0.75"/>
<line x1="448.01" y1="136" x2="448.01" y2="139.6" stroke="#333" stroke-width="0.75"/>
<line x1="453.90" y1="136" x2="453.90" y2="139.0" stroke="#333" stroke-width="0.75"/>
<line x1="457.34" y1="136" x2="457.34" y2="139.0" stroke="#333" stroke-width="0.75"/>
<line x1="459.79" y1="136" x2="459.79" y2="139.0" stroke="#333" stroke-width="0.75"/>
<line x1="461.68" y1="136" x2="461.68" y2="139.0" stroke="#333" stroke-width="0.75"/>
<line x1="463.23" y1="136" x2="463.23" y2="139.0" stroke="#333" stroke-width="0.75"/>
<line x1="464.54" y1="136" x2="464.54" y2="139.0" stroke="#333" stroke-width="0.75"/>
<line x1="465.67" y1="136" x2="465.67" y2="139.0" stroke="#333" stroke-width="0.75"/>
<line x1="466.67" y1="136" x2="466.67" y2="139.0" stroke="#333" stroke-width="0.75"/>
<line x1="468.06" y1="136" x2="468.06" y2="139.6" stroke="#333" stroke-width="0.75"/>
<line x1="473.95" y1="136" x2="473.95" y2="139.0" stroke="#333" stroke-width="0.75"/>
<line x1="477.39" y1="136" x2="477.39" y2="139.0" stroke="#333" stroke-width="0.75"/>
<line x1="479.84" y1="136" x2="479.84" y2="139.0" stroke="#333" stroke-width="0.75"/>
<line x1="481.73" y1="136" x2="481.73" y2="139.0" stroke="#333" stroke-width="0.75"/>
<line x1="483.28" y1="136" x2="483.28" y2="139.0" stroke="#333" stroke-width="0.75"/>
<line x1="484.59" y1="136" x2="484.59" y2="139.0" stroke="#333" stroke-width="0.75"/>
<line x1="485.72" y1="136" x2="485.72" y2="139.0" stroke="#333" stroke-width="0.75"/>
<line x1="486.72" y1="136" x2="486.72" y2="139.0" stroke="#333" stroke-width="0.75"/>
<line x1="487.32" y1="136" x2="487.32" y2="139.6" stroke="#333" stroke-width="0.75"/>
<line x1="493.21" y1="136" x2="493.21" y2="139.0" stroke="#333" stroke-width="0.75"/>
<line x1="496.65" y1="136" x2="496.65" y2="139.0" stroke="#333" stroke-width="0.75"/>
<line x1="499.09" y1="136" x2="499.09" y2="139.0" stroke="#333" stroke-width="0.75"/>
<line x1="500.99" y1="136" x2="500.99" y2="139.0" stroke="#333" stroke-width="0.75"/>
<line x1="502.54" y1="136" x2="502.54" y2="139.0" stroke="#333" stroke-width="0.75"/>
<line x1="503.85" y1="136" x2="503.85" y2="139.0" stroke="#333" stroke-width="0.75"/>
<line x1="504.98" y1="136" x2="504.98" y2="139.0" stroke="#333" stroke-width="0.75"/>
<line x1="505.98" y1="136" x2="505.98" y2="139.0" stroke="#333" stroke-width="0.75"/>
<line x1="506.58" y1="136" x2="506.58" y2="139.6" stroke="#333" stroke-width="0.75"/>
<line x1="512.47" y1="136" x2="512.47" y2="139.0" stroke="#333" stroke-width="0.75"/>
<line x1="512.51" y1="136" x2="512.51" y2="139.0" stroke="#333" stroke-width="0.75"/>
<svg x="0" y="0" width="520" height="644"><defs><clipPath id="cp13"><rect x="433" y="89" width="81" height="48"/></clipPath></defs><g clip-path="url(#cp13)">
<path d="M446.5,137.0L446.5,135.8L447.0,135.8L447.0,135.6L447.5,135.6L447.5,135.4L448.0,135.4L448.0,135.1L448.5,135.1L448.5,134.8L449.0,134.8L449.0,134.5L449.5,134.5L449.5,134.3L450.5,134.3L450.5,134.1L451.0,134.1L451.0,133.4L451.5,133.4L451.5,133.5L452.0,133.5L452.0,133.4L452.5,133.4L452.5,132.6L453.0,132.6L453.0,132.8L453.5,132.8L453.5,132.3L454.0,132.3L454.0,132.4L454.5,132.4L454.5,132.0L455.0,132.0L455.0,132.3L455.5,132.3L455.5,131.5L456.0,131.5L456.0,130.6L456.5,130.6L456.5,130.4L457.0,130.4L457.0,129.5L457.5,129.5L457.5,129.0L458.0,129.0L458.0,129.4L458.5,129.4L458.5,127.6L459.0,127.6L459.0,127.5L459.5,127.5L459.5,128.1L460.0,128.1L460.0,128.7L460.5,128.7L460.5,127.1L461.0,127.1L461.0,128.0L461.5,128.0L461.5,127.6L462.0,127.6L462.0,127.3L462.5,127.3L462.5,127.6L463.0,127.6L463.0,127.0L463.5,127.0L463.5,127.8L464.0,127.8L464.0,126.8L464.5,126.8L464.5,127.3L465.0,127.3L465.0,126.1L465.5,126.1L465.5,126.0L466.0,126.0L466.0,127.3L466.5,127.3L466.5,126.7L467.0,126.7L467.0,125.9L467.5,125.9L467.5,123.3L468.0,123.3L468.0,124.2L468.5,124.2L468.5,124.6L469.0,124.6L469.0,126.5L469.5,126.5L469.5,127.1L470.0,127.1L470.0,128.5L470.5,128.5L470.5,129.0L471.0,129.0L471.0,127.4L471.5,127.4L471.5,126.3L472.0,126.3L472.0,124.4L472.5,124.4L472.5,125.9L473.0,125.9L473.0,126.5L473.5,126.5L473.5,127.8L474.5,127.8L474.5,127.7L475.0,127.7L475.0,128.1L475.5,128.1L475.5,126.0L476.0,126.0L476.0,125.1L476.5,125.1L476.5,124.6L477.0,124.6L477.0,124.8L477.5,124.8L477.5,123.8L478.0,123.8L478.0,124.6L478.5,124.6L478.5,122.2L479.0,122.2L479.0,122.3L480.0,122.3L480.0,122.0L480.5,122.0L480.5,117.9L481.0,117.9L481.0,116.1L481.5,116.1L481.5,118.1L482.0,118.1L482.0,110.3L482.5,110.3L482.5,108.6L483.0,108.6L483.0,106.6L483.5,106.6L483.5,102.4L484.0,102.4L484.0,95.0L484.5,95.0L484.5,90.6L485.0,90.6L485.0,99.1L485.5,99.1L485.5,97.1L486.0,97.1L486.0,105.5L486.5,105.5L486.5,103.8L487.0,103.8L487.0,112.8L487.5,112.8L487.5,117.0L488.0,117.0L488.0,122.4L488.5,122.4L488.5,128.2L489.0,128.2L489.0,131.3L489.5,131.3L489.5,133.3L490.0,133.3L490.0,134.6L490.5,134.6L490.5,137.0Z" fill="#a09e4c" stroke="#5e5c10" stroke-width="0.8" stroke-linejoin="miter"/>
</g></svg>
<line x1="474.5" y1="89" x2="474.5" y2="137" stroke="#333" stroke-width="1.1"/>
<rect x="433.5" y="89.5" width="80" height="47" fill="none" stroke="#333" stroke-width="1.1"/>
<rect x="53" y="148" width="2" height="48" fill="#b8b8b8"/>
<line x1="52" y1="196.5" x2="55" y2="196.5" stroke="#666" stroke-width="0.7"/>
<line x1="52" y1="189.5" x2="55" y2="189.5" stroke="#666" stroke-width="0.7"/>
<line x1="52" y1="182.5" x2="55" y2="182.5" stroke="#666" stroke-width="0.7"/>
<line x1="52" y1="175.5" x2="55" y2="175.5" stroke="#666" stroke-width="0.7"/>
<line x1="52" y1="168.5" x2="55" y2="168.5" stroke="#666" stroke-width="0.7"/>
<line x1="52" y1="161.5" x2="55" y2="161.5" stroke="#666" stroke-width="0.7"/>
<line x1="52" y1="154.5" x2="55" y2="154.5" stroke="#666" stroke-width="0.7"/>
<line x1="55.40" y1="196" x2="55.40" y2="199.0" stroke="#333" stroke-width="0.75"/>
<line x1="58.80" y1="196" x2="58.80" y2="199.0" stroke="#333" stroke-width="0.75"/>
<line x1="62.60" y1="196" x2="62.60" y2="199.0" stroke="#333" stroke-width="0.75"/>
<line x1="65.60" y1="196" x2="65.60" y2="199.0" stroke="#333" stroke-width="0.75"/>
<line x1="67.70" y1="196" x2="67.70" y2="199.0" stroke="#333" stroke-width="0.75"/>
<line x1="70.20" y1="196" x2="70.20" y2="199.6" stroke="#333" stroke-width="0.75"/>
<line x1="76.16" y1="196" x2="76.16" y2="199.0" stroke="#333" stroke-width="0.75"/>
<line x1="79.65" y1="196" x2="79.65" y2="199.0" stroke="#333" stroke-width="0.75"/>
<line x1="82.12" y1="196" x2="82.12" y2="199.0" stroke="#333" stroke-width="0.75"/>
<line x1="84.04" y1="196" x2="84.04" y2="199.0" stroke="#333" stroke-width="0.75"/>
<line x1="85.61" y1="196" x2="85.61" y2="199.0" stroke="#333" stroke-width="0.75"/>
<line x1="86.93" y1="196" x2="86.93" y2="199.0" stroke="#333" stroke-width="0.75"/>
<line x1="88.08" y1="196" x2="88.08" y2="199.0" stroke="#333" stroke-width="0.75"/>
<line x1="89.09" y1="196" x2="89.09" y2="199.0" stroke="#333" stroke-width="0.75"/>
<line x1="90.50" y1="196" x2="90.50" y2="199.6" stroke="#333" stroke-width="0.75"/>
<line x1="96.46" y1="196" x2="96.46" y2="199.0" stroke="#333" stroke-width="0.75"/>
<line x1="99.95" y1="196" x2="99.95" y2="199.0" stroke="#333" stroke-width="0.75"/>
<line x1="102.42" y1="196" x2="102.42" y2="199.0" stroke="#333" stroke-width="0.75"/>
<line x1="104.34" y1="196" x2="104.34" y2="199.0" stroke="#333" stroke-width="0.75"/>
<line x1="105.91" y1="196" x2="105.91" y2="199.0" stroke="#333" stroke-width="0.75"/>
<line x1="107.23" y1="196" x2="107.23" y2="199.0" stroke="#333" stroke-width="0.75"/>
<line x1="108.38" y1="196" x2="108.38" y2="199.0" stroke="#333" stroke-width="0.75"/>
<line x1="109.39" y1="196" x2="109.39" y2="199.0" stroke="#333" stroke-width="0.75"/>
<line x1="110.00" y1="196" x2="110.00" y2="199.6" stroke="#333" stroke-width="0.75"/>
<line x1="115.96" y1="196" x2="115.96" y2="199.0" stroke="#333" stroke-width="0.75"/>
<line x1="119.45" y1="196" x2="119.45" y2="199.0" stroke="#333" stroke-width="0.75"/>
<line x1="121.92" y1="196" x2="121.92" y2="199.0" stroke="#333" stroke-width="0.75"/>
<line x1="123.84" y1="196" x2="123.84" y2="199.0" stroke="#333" stroke-width="0.75"/>
<line x1="125.41" y1="196" x2="125.41" y2="199.0" stroke="#333" stroke-width="0.75"/>
<line x1="126.73" y1="196" x2="126.73" y2="199.0" stroke="#333" stroke-width="0.75"/>
<line x1="127.88" y1="196" x2="127.88" y2="199.0" stroke="#333" stroke-width="0.75"/>
<line x1="128.89" y1="196" x2="128.89" y2="199.0" stroke="#333" stroke-width="0.75"/>
<line x1="129.50" y1="196" x2="129.50" y2="199.6" stroke="#333" stroke-width="0.75"/>
<line x1="135.46" y1="196" x2="135.46" y2="199.0" stroke="#333" stroke-width="0.75"/>
<line x1="135.50" y1="196" x2="135.50" y2="199.0" stroke="#333" stroke-width="0.75"/>
<svg x="0" y="0" width="520" height="644"><defs><clipPath id="cp20"><rect x="55" y="148" width="82" height="49"/></clipPath></defs><g clip-path="url(#cp20)">
<path d="M92.5,197.0L92.5,195.2L93.0,195.2L93.0,194.0L93.5,194.0L93.5,192.8L94.0,192.8L94.0,191.7L94.5,191.7L94.5,190.5L95.0,190.5L95.0,189.1L95.5,189.1L95.5,185.8L96.0,185.8L96.0,182.5L96.5,182.5L96.5,179.1L97.0,179.1L97.0,175.8L97.5,175.8L97.5,172.5L98.0,172.5L98.0,168.8L98.5,168.8L98.5,164.7L99.0,164.7L99.0,160.6L99.5,160.6L99.5,156.5L100.0,156.5L100.0,152.7L100.5,152.7L100.5,150.1L101.0,150.1L101.0,148.5L102.0,148.5L102.0,149.3L102.5,149.3L102.5,152.0L103.0,152.0L103.0,155.7L103.5,155.7L103.5,160.0L104.0,160.0L104.0,164.3L104.5,164.3L104.5,168.7L105.0,168.7L105.0,173.3L105.5,173.3L105.5,178.2L106.0,178.2L106.0,183.1L106.5,183.1L106.5,188.0L107.0,188.0L107.0,190.7L107.5,190.7L107.5,192.4L108.0,192.4L108.0,194.1L108.5,194.1L108.5,195.8L109.0,195.8L109.0,197.0Z" fill="#a04ca0" stroke="#7a1a7a" stroke-width="0.8" stroke-linejoin="miter"/>
</g></svg>
<line x1="89.5" y1="148" x2="89.5" y2="197" stroke="#333" stroke-width="1.1"/>
<rect x="55.5" y="148.5" width="81" height="48" fill="none" stroke="#333" stroke-width="1.1"/>
<rect x="162" y="148" width="2" height="48" fill="#b8b8b8"/>
<line x1="161" y1="196.5" x2="164" y2="196.5" stroke="#666" stroke-width="0.7"/>
<line x1="161" y1="189.5" x2="164" y2="189.5" stroke="#666" stroke-width="0.7"/>
<line x1="161" y1="182.5" x2="164" y2="182.5" stroke="#666" stroke-width="0.7"/>
<line x1="161" y1="175.5" x2="164" y2="175.5" stroke="#666" stroke-width="0.7"/>
<line x1="161" y1="168.5" x2="164" y2="168.5" stroke="#666" stroke-width="0.7"/>
<line x1="161" y1="161.5" x2="164" y2="161.5" stroke="#666" stroke-width="0.7"/>
<line x1="161" y1="154.5" x2="164" y2="154.5" stroke="#666" stroke-width="0.7"/>
<line x1="164.40" y1="196" x2="164.40" y2="199.0" stroke="#333" stroke-width="0.75"/>
<line x1="167.75" y1="196" x2="167.75" y2="199.0" stroke="#333" stroke-width="0.75"/>
<line x1="171.51" y1="196" x2="171.51" y2="199.0" stroke="#333" stroke-width="0.75"/>
<line x1="174.47" y1="196" x2="174.47" y2="199.0" stroke="#333" stroke-width="0.75"/>
<line x1="176.54" y1="196" x2="176.54" y2="199.0" stroke="#333" stroke-width="0.75"/>
<line x1="179.01" y1="196" x2="179.01" y2="199.6" stroke="#333" stroke-width="0.75"/>
<line x1="184.90" y1="196" x2="184.90" y2="199.0" stroke="#333" stroke-width="0.75"/>
<line x1="188.34" y1="196" x2="188.34" y2="199.0" stroke="#333" stroke-width="0.75"/>
<line x1="190.79" y1="196" x2="190.79" y2="199.0" stroke="#333" stroke-width="0.75"/>
<line x1="192.68" y1="196" x2="192.68" y2="199.0" stroke="#333" stroke-width="0.75"/>
<line x1="194.23" y1="196" x2="194.23" y2="199.0" stroke="#333" stroke-width="0.75"/>
<line x1="195.54" y1="196" x2="195.54" y2="199.0" stroke="#333" stroke-width="0.75"/>
<line x1="196.67" y1="196" x2="196.67" y2="199.0" stroke="#333" stroke-width="0.75"/>
<line x1="197.67" y1="196" x2="197.67" y2="199.0" stroke="#333" stroke-width="0.75"/>
<line x1="199.06" y1="196" x2="199.06" y2="199.6" stroke="#333" stroke-width="0.75"/>
<line x1="204.95" y1="196" x2="204.95" y2="199.0" stroke="#333" stroke-width="0.75"/>
<line x1="208.39" y1="196" x2="208.39" y2="199.0" stroke="#333" stroke-width="0.75"/>
<line x1="210.84" y1="196" x2="210.84" y2="199.0" stroke="#333" stroke-width="0.75"/>
<line x1="212.73" y1="196" x2="212.73" y2="199.0" stroke="#333" stroke-width="0.75"/>
<line x1="214.28" y1="196" x2="214.28" y2="199.0" stroke="#333" stroke-width="0.75"/>
<line x1="215.59" y1="196" x2="215.59" y2="199.0" stroke="#333" stroke-width="0.75"/>
<line x1="216.72" y1="196" x2="216.72" y2="199.0" stroke="#333" stroke-width="0.75"/>
<line x1="217.72" y1="196" x2="217.72" y2="199.0" stroke="#333" stroke-width="0.75"/>
<line x1="218.32" y1="196" x2="218.32" y2="199.6" stroke="#333" stroke-width="0.75"/>
<line x1="224.21" y1="196" x2="224.21" y2="199.0" stroke="#333" stroke-width="0.75"/>
<line x1="227.65" y1="196" x2="227.65" y2="199.0" stroke="#333" stroke-width="0.75"/>
<line x1="230.09" y1="196" x2="230.09" y2="199.0" stroke="#333" stroke-width="0.75"/>
<line x1="231.99" y1="196" x2="231.99" y2="199.0" stroke="#333" stroke-width="0.75"/>
<line x1="233.54" y1="196" x2="233.54" y2="199.0" stroke="#333" stroke-width="0.75"/>
<line x1="234.85" y1="196" x2="234.85" y2="199.0" stroke="#333" stroke-width="0.75"/>
<line x1="235.98" y1="196" x2="235.98" y2="199.0" stroke="#333" stroke-width="0.75"/>
<line x1="236.98" y1="196" x2="236.98" y2="199.0" stroke="#333" stroke-width="0.75"/>
<line x1="237.58" y1="196" x2="237.58" y2="199.6" stroke="#333" stroke-width="0.75"/>
<line x1="243.47" y1="196" x2="243.47" y2="199.0" stroke="#333" stroke-width="0.75"/>
<line x1="243.51" y1="196" x2="243.51" y2="199.0" stroke="#333" stroke-width="0.75"/>
<svg x="0" y="0" width="520" height="644"><defs><clipPath id="cp21"><rect x="164" y="148" width="81" height="49"/></clipPath></defs><g clip-path="url(#cp21)">
<path d="M185.5,197.0L185.5,195.6L186.0,195.6L186.0,195.3L186.5,195.3L186.5,195.0L187.0,195.0L187.0,194.7L187.5,194.7L187.5,194.4L188.0,194.4L188.0,194.2L188.5,194.2L188.5,193.7L189.5,193.7L189.5,193.0L190.0,193.0L190.0,192.3L190.5,192.3L190.5,192.1L191.0,192.1L191.0,191.4L191.5,191.4L191.5,191.6L192.0,191.6L192.0,190.9L192.5,190.9L192.5,190.6L193.0,190.6L193.0,189.9L193.5,189.9L193.5,189.4L194.0,189.4L194.0,189.6L194.5,189.6L194.5,188.8L195.0,188.8L195.0,188.1L195.5,188.1L195.5,186.4L196.0,186.4L196.0,186.0L196.5,186.0L196.5,186.4L197.0,186.4L197.0,183.9L197.5,183.9L197.5,183.8L198.0,183.8L198.0,181.1L198.5,181.1L198.5,180.8L199.0,180.8L199.0,179.4L199.5,179.4L199.5,174.5L200.0,174.5L200.0,175.0L200.5,175.0L200.5,176.5L201.0,176.5L201.0,175.8L201.5,175.8L201.5,178.2L202.0,178.2L202.0,179.7L202.5,179.7L202.5,174.9L203.0,174.9L203.0,173.8L203.5,173.8L203.5,175.5L204.0,175.5L204.0,179.8L204.5,179.8L204.5,178.4L205.0,178.4L205.0,177.8L205.5,177.8L205.5,175.6L206.0,175.6L206.0,174.5L206.5,174.5L206.5,175.0L207.0,175.0L207.0,173.1L207.5,173.1L207.5,172.4L208.0,172.4L208.0,170.3L208.5,170.3L208.5,168.4L209.0,168.4L209.0,164.7L209.5,164.7L209.5,160.1L210.0,160.1L210.0,160.9L210.5,160.9L210.5,152.7L211.0,152.7L211.0,152.1L211.5,152.1L211.5,153.5L212.0,153.5L212.0,151.4L212.5,151.4L212.5,155.8L213.0,155.8L213.0,159.6L213.5,159.6L213.5,162.2L214.0,162.2L214.0,164.6L214.5,164.6L214.5,171.5L215.0,171.5L215.0,171.0L215.5,171.0L215.5,178.3L216.0,178.3L216.0,179.6L216.5,179.6L216.5,183.2L217.0,183.2L217.0,188.4L217.5,188.4L217.5,190.4L218.0,190.4L218.0,192.1L218.5,192.1L218.5,193.2L219.0,193.2L219.0,194.7L219.5,194.7L219.5,197.0Z" fill="#a04ca0" stroke="#7a1a7a" stroke-width="0.8" stroke-linejoin="miter"/>
</g></svg>
<line x1="198.5" y1="148" x2="198.5" y2="197" stroke="#333" stroke-width="1.1"/>
<rect x="164.5" y="148.5" width="80" height="48" fill="none" stroke="#333" stroke-width="1.1"/>
<rect x="321" y="148" width="2" height="48" fill="#b8b8b8"/>
<line x1="320" y1="196.5" x2="323" y2="196.5" stroke="#666" stroke-width="0.7"/>
<line x1="320" y1="189.5" x2="323" y2="189.5" stroke="#666" stroke-width="0.7"/>
<line x1="320" y1="182.5" x2="323" y2="182.5" stroke="#666" stroke-width="0.7"/>
<line x1="320" y1="175.5" x2="323" y2="175.5" stroke="#666" stroke-width="0.7"/>
<line x1="320" y1="168.5" x2="323" y2="168.5" stroke="#666" stroke-width="0.7"/>
<line x1="320" y1="161.5" x2="323" y2="161.5" stroke="#666" stroke-width="0.7"/>
<line x1="320" y1="154.5" x2="323" y2="154.5" stroke="#666" stroke-width="0.7"/>
<line x1="323.40" y1="196" x2="323.40" y2="199.0" stroke="#333" stroke-width="0.75"/>
<line x1="326.85" y1="196" x2="326.85" y2="199.0" stroke="#333" stroke-width="0.75"/>
<line x1="330.69" y1="196" x2="330.69" y2="199.0" stroke="#333" stroke-width="0.75"/>
<line x1="333.73" y1="196" x2="333.73" y2="199.0" stroke="#333" stroke-width="0.75"/>
<line x1="335.86" y1="196" x2="335.86" y2="199.0" stroke="#333" stroke-width="0.75"/>
<line x1="338.39" y1="196" x2="338.39" y2="199.6" stroke="#333" stroke-width="0.75"/>
<line x1="344.42" y1="196" x2="344.42" y2="199.0" stroke="#333" stroke-width="0.75"/>
<line x1="347.95" y1="196" x2="347.95" y2="199.0" stroke="#333" stroke-width="0.75"/>
<line x1="350.46" y1="196" x2="350.46" y2="199.0" stroke="#333" stroke-width="0.75"/>
<line x1="352.40" y1="196" x2="352.40" y2="199.0" stroke="#333" stroke-width="0.75"/>
<line x1="353.99" y1="196" x2="353.99" y2="199.0" stroke="#333" stroke-width="0.75"/>
<line x1="355.33" y1="196" x2="355.33" y2="199.0" stroke="#333" stroke-width="0.75"/>
<line x1="356.49" y1="196" x2="356.49" y2="199.0" stroke="#333" stroke-width="0.75"/>
<line x1="357.51" y1="196" x2="357.51" y2="199.0" stroke="#333" stroke-width="0.75"/>
<line x1="358.94" y1="196" x2="358.94" y2="199.6" stroke="#333" stroke-width="0.75"/>
<line x1="364.97" y1="196" x2="364.97" y2="199.0" stroke="#333" stroke-width="0.75"/>
<line x1="368.50" y1="196" x2="368.50" y2="199.0" stroke="#333" stroke-width="0.75"/>
<line x1="371.01" y1="196" x2="371.01" y2="199.0" stroke="#333" stroke-width="0.75"/>
<line x1="372.95" y1="196" x2="372.95" y2="199.0" stroke="#333" stroke-width="0.75"/>
<line x1="374.54" y1="196" x2="374.54" y2="199.0" stroke="#333" stroke-width="0.75"/>
<line x1="375.88" y1="196" x2="375.88" y2="199.0" stroke="#333" stroke-width="0.75"/>
<line x1="377.04" y1="196" x2="377.04" y2="199.0" stroke="#333" stroke-width="0.75"/>
<line x1="378.07" y1="196" x2="378.07" y2="199.0" stroke="#333" stroke-width="0.75"/>
<line x1="378.68" y1="196" x2="378.68" y2="199.6" stroke="#333" stroke-width="0.75"/>
<line x1="384.71" y1="196" x2="384.71" y2="199.0" stroke="#333" stroke-width="0.75"/>
<line x1="388.24" y1="196" x2="388.24" y2="199.0" stroke="#333" stroke-width="0.75"/>
<line x1="390.75" y1="196" x2="390.75" y2="199.0" stroke="#333" stroke-width="0.75"/>
<line x1="392.69" y1="196" x2="392.69" y2="199.0" stroke="#333" stroke-width="0.75"/>
<line x1="394.28" y1="196" x2="394.28" y2="199.0" stroke="#333" stroke-width="0.75"/>
<line x1="395.62" y1="196" x2="395.62" y2="199.0" stroke="#333" stroke-width="0.75"/>
<line x1="396.78" y1="196" x2="396.78" y2="199.0" stroke="#333" stroke-width="0.75"/>
<line x1="397.81" y1="196" x2="397.81" y2="199.0" stroke="#333" stroke-width="0.75"/>
<line x1="398.42" y1="196" x2="398.42" y2="199.6" stroke="#333" stroke-width="0.75"/>
<line x1="404.45" y1="196" x2="404.45" y2="199.0" stroke="#333" stroke-width="0.75"/>
<line x1="404.49" y1="196" x2="404.49" y2="199.0" stroke="#333" stroke-width="0.75"/>
<svg x="0" y="0" width="520" height="644"><defs><clipPath id="cp22"><rect x="323" y="148" width="83" height="49"/></clipPath></defs><g clip-path="url(#cp22)">
<path d="M369.0,197.0L369.0,195.5L369.5,195.5L369.5,194.4L370.0,194.4L370.0,193.3L370.5,193.3L370.5,192.2L371.0,192.2L371.0,191.1L371.5,191.1L371.5,190.0L372.0,190.0L372.0,187.9L372.5,187.9L372.5,184.8L373.0,184.8L373.0,181.7L373.5,181.7L373.5,178.6L374.0,178.6L374.0,175.5L374.5,175.5L374.5,172.4L375.0,172.4L375.0,168.1L375.5,168.1L375.5,162.7L376.0,162.7L376.0,157.2L376.5,157.2L376.5,152.3L377.0,152.3L377.0,148.8L377.5,148.8L377.5,148.5L378.0,148.5L378.0,150.2L378.5,150.2L378.5,154.9L379.0,154.9L379.0,161.2L379.5,161.2L379.5,167.6L380.0,167.6L380.0,173.3L380.5,173.3L380.5,178.4L381.0,178.4L381.0,183.4L381.5,183.4L381.5,188.4L382.0,188.4L382.0,190.9L382.5,190.9L382.5,192.6L383.0,192.6L383.0,194.4L383.5,194.4L383.5,197.0Z" fill="#a04ca0" stroke="#7a1a7a" stroke-width="0.8" stroke-linejoin="miter"/>
</g></svg>
<line x1="366.5" y1="148" x2="366.5" y2="197" stroke="#333" stroke-width="1.1"/>
<rect x="323.5" y="148.5" width="82" height="48" fill="none" stroke="#333" stroke-width="1.1"/>
<rect x="431" y="148" width="2" height="48" fill="#b8b8b8"/>
<line x1="430" y1="196.5" x2="433" y2="196.5" stroke="#666" stroke-width="0.7"/>
<line x1="430" y1="189.5" x2="433" y2="189.5" stroke="#666" stroke-width="0.7"/>
<line x1="430" y1="182.5" x2="433" y2="182.5" stroke="#666" stroke-width="0.7"/>
<line x1="430" y1="175.5" x2="433" y2="175.5" stroke="#666" stroke-width="0.7"/>
<line x1="430" y1="168.5" x2="433" y2="168.5" stroke="#666" stroke-width="0.7"/>
<line x1="430" y1="161.5" x2="433" y2="161.5" stroke="#666" stroke-width="0.7"/>
<line x1="430" y1="154.5" x2="433" y2="154.5" stroke="#666" stroke-width="0.7"/>
<line x1="433.40" y1="196" x2="433.40" y2="199.0" stroke="#333" stroke-width="0.75"/>
<line x1="436.75" y1="196" x2="436.75" y2="199.0" stroke="#333" stroke-width="0.75"/>
<line x1="440.51" y1="196" x2="440.51" y2="199.0" stroke="#333" stroke-width="0.75"/>
<line x1="443.47" y1="196" x2="443.47" y2="199.0" stroke="#333" stroke-width="0.75"/>
<line x1="445.54" y1="196" x2="445.54" y2="199.0" stroke="#333" stroke-width="0.75"/>
<line x1="448.01" y1="196" x2="448.01" y2="199.6" stroke="#333" stroke-width="0.75"/>
<line x1="453.90" y1="196" x2="453.90" y2="199.0" stroke="#333" stroke-width="0.75"/>
<line x1="457.34" y1="196" x2="457.34" y2="199.0" stroke="#333" stroke-width="0.75"/>
<line x1="459.79" y1="196" x2="459.79" y2="199.0" stroke="#333" stroke-width="0.75"/>
<line x1="461.68" y1="196" x2="461.68" y2="199.0" stroke="#333" stroke-width="0.75"/>
<line x1="463.23" y1="196" x2="463.23" y2="199.0" stroke="#333" stroke-width="0.75"/>
<line x1="464.54" y1="196" x2="464.54" y2="199.0" stroke="#333" stroke-width="0.75"/>
<line x1="465.67" y1="196" x2="465.67" y2="199.0" stroke="#333" stroke-width="0.75"/>
<line x1="466.67" y1="196" x2="466.67" y2="199.0" stroke="#333" stroke-width="0.75"/>
<line x1="468.06" y1="196" x2="468.06" y2="199.6" stroke="#333" stroke-width="0.75"/>
<line x1="473.95" y1="196" x2="473.95" y2="199.0" stroke="#333" stroke-width="0.75"/>
<line x1="477.39" y1="196" x2="477.39" y2="199.0" stroke="#333" stroke-width="0.75"/>
<line x1="479.84" y1="196" x2="479.84" y2="199.0" stroke="#333" stroke-width="0.75"/>
<line x1="481.73" y1="196" x2="481.73" y2="199.0" stroke="#333" stroke-width="0.75"/>
<line x1="483.28" y1="196" x2="483.28" y2="199.0" stroke="#333" stroke-width="0.75"/>
<line x1="484.59" y1="196" x2="484.59" y2="199.0" stroke="#333" stroke-width="0.75"/>
<line x1="485.72" y1="196" x2="485.72" y2="199.0" stroke="#333" stroke-width="0.75"/>
<line x1="486.72" y1="196" x2="486.72" y2="199.0" stroke="#333" stroke-width="0.75"/>
<line x1="487.32" y1="196" x2="487.32" y2="199.6" stroke="#333" stroke-width="0.75"/>
<line x1="493.21" y1="196" x2="493.21" y2="199.0" stroke="#333" stroke-width="0.75"/>
<line x1="496.65" y1="196" x2="496.65" y2="199.0" stroke="#333" stroke-width="0.75"/>
<line x1="499.09" y1="196" x2="499.09" y2="199.0" stroke="#333" stroke-width="0.75"/>
<line x1="500.99" y1="196" x2="500.99" y2="199.0" stroke="#333" stroke-width="0.75"/>
<line x1="502.54" y1="196" x2="502.54" y2="199.0" stroke="#333" stroke-width="0.75"/>
<line x1="503.85" y1="196" x2="503.85" y2="199.0" stroke="#333" stroke-width="0.75"/>
<line x1="504.98" y1="196" x2="504.98" y2="199.0" stroke="#333" stroke-width="0.75"/>
<line x1="505.98" y1="196" x2="505.98" y2="199.0" stroke="#333" stroke-width="0.75"/>
<line x1="506.58" y1="196" x2="506.58" y2="199.6" stroke="#333" stroke-width="0.75"/>
<line x1="512.47" y1="196" x2="512.47" y2="199.0" stroke="#333" stroke-width="0.75"/>
<line x1="512.51" y1="196" x2="512.51" y2="199.0" stroke="#333" stroke-width="0.75"/>
<svg x="0" y="0" width="520" height="644"><defs><clipPath id="cp23"><rect x="433" y="148" width="81" height="49"/></clipPath></defs><g clip-path="url(#cp23)">
<path d="M441.0,197.0L441.0,195.8L441.5,195.8L441.5,195.7L442.0,195.7L442.0,195.6L442.5,195.6L442.5,195.5L443.0,195.5L443.0,195.4L443.5,195.4L443.5,195.2L444.5,195.2L444.5,195.0L445.0,195.0L445.0,194.9L445.5,194.9L445.5,194.8L446.0,194.8L446.0,194.6L447.0,194.6L447.0,194.2L448.0,194.2L448.0,194.0L448.5,194.0L448.5,193.6L449.0,193.6L449.0,193.2L449.5,193.2L449.5,193.4L450.0,193.4L450.0,193.2L450.5,193.2L450.5,192.7L451.0,192.7L451.0,192.2L452.0,192.2L452.0,192.1L452.5,192.1L452.5,191.3L453.0,191.3L453.0,191.9L453.5,191.9L453.5,190.8L454.0,190.8L454.0,191.1L454.5,191.1L454.5,190.9L455.0,190.9L455.0,190.5L455.5,190.5L455.5,189.8L456.0,189.8L456.0,188.6L456.5,188.6L456.5,189.0L457.0,189.0L457.0,187.8L457.5,187.8L457.5,187.3L458.0,187.3L458.0,187.4L458.5,187.4L458.5,186.7L459.0,186.7L459.0,187.2L459.5,187.2L459.5,186.9L460.0,186.9L460.0,187.1L460.5,187.1L460.5,186.6L461.0,186.6L461.0,187.5L461.5,187.5L461.5,188.1L462.5,188.1L462.5,188.6L463.0,188.6L463.0,189.0L463.5,189.0L463.5,188.5L464.0,188.5L464.0,188.8L464.5,188.8L464.5,189.7L465.0,189.7L465.0,189.4L465.5,189.4L465.5,189.7L466.0,189.7L466.0,189.5L466.5,189.5L466.5,190.0L467.0,190.0L467.0,190.8L467.5,190.8L467.5,190.4L468.0,190.4L468.0,191.6L468.5,191.6L468.5,191.0L469.0,191.0L469.0,190.2L469.5,190.2L469.5,190.5L470.0,190.5L470.0,189.7L470.5,189.7L470.5,190.0L471.0,190.0L471.0,189.5L471.5,189.5L471.5,189.7L472.0,189.7L472.0,190.3L473.0,190.3L473.0,190.9L473.5,190.9L473.5,190.3L474.0,190.3L474.0,190.2L474.5,190.2L474.5,190.1L475.5,190.1L475.5,189.4L476.0,189.4L476.0,189.0L476.5,189.0L476.5,189.2L477.0,189.2L477.0,188.6L477.5,188.6L477.5,189.2L478.0,189.2L478.0,187.9L478.5,187.9L478.5,187.6L479.0,187.6L479.0,186.3L479.5,186.3L479.5,185.8L480.0,185.8L480.0,186.2L480.5,186.2L480.5,184.3L481.0,184.3L481.0,181.3L481.5,181.3L481.5,181.1L482.0,181.1L482.0,177.2L482.5,177.2L482.5,174.1L483.0,174.1L483.0,170.2L483.5,170.2L483.5,166.5L484.0,166.5L484.0,157.4L484.5,157.4L484.5,158.3L485.0,158.3L485.0,153.4L485.5,153.4L485.5,154.0L486.0,154.0L486.0,154.6L486.5,154.6L486.5,164.7L487.0,164.7L487.0,168.2L487.5,168.2L487.5,174.0L488.0,174.0L488.0,179.1L488.5,179.1L488.5,184.4L489.0,184.4L489.0,189.4L489.5,189.4L489.5,192.2L490.0,192.2L490.0,193.9L490.5,193.9L490.5,195.8L491.0,195.8L491.0,197.0Z" fill="#a04ca0" stroke="#7a1a7a" stroke-width="0.8" stroke-linejoin="miter"/>
</g></svg>
<line x1="474.5" y1="148" x2="474.5" y2="197" stroke="#333" stroke-width="1.1"/>
<rect x="433.5" y="148.5" width="80" height="48" fill="none" stroke="#333" stroke-width="1.1"/>
<rect x="53" y="209" width="2" height="48" fill="#b8b8b8"/>
<line x1="52" y1="257.5" x2="55" y2="257.5" stroke="#666" stroke-width="0.7"/>
<line x1="52" y1="250.5" x2="55" y2="250.5" stroke="#666" stroke-width="0.7"/>
<line x1="52" y1="243.5" x2="55" y2="243.5" stroke="#666" stroke-width="0.7"/>
<line x1="52" y1="236.5" x2="55" y2="236.5" stroke="#666" stroke-width="0.7"/>
<line x1="52" y1="229.5" x2="55" y2="229.5" stroke="#666" stroke-width="0.7"/>
<line x1="52" y1="222.5" x2="55" y2="222.5" stroke="#666" stroke-width="0.7"/>
<line x1="52" y1="215.5" x2="55" y2="215.5" stroke="#666" stroke-width="0.7"/>
<line x1="55.40" y1="257" x2="55.40" y2="260.0" stroke="#333" stroke-width="0.75"/>
<line x1="58.80" y1="257" x2="58.80" y2="260.0" stroke="#333" stroke-width="0.75"/>
<line x1="62.60" y1="257" x2="62.60" y2="260.0" stroke="#333" stroke-width="0.75"/>
<line x1="65.60" y1="257" x2="65.60" y2="260.0" stroke="#333" stroke-width="0.75"/>
<line x1="67.70" y1="257" x2="67.70" y2="260.0" stroke="#333" stroke-width="0.75"/>
<line x1="70.20" y1="257" x2="70.20" y2="260.6" stroke="#333" stroke-width="0.75"/>
<line x1="76.16" y1="257" x2="76.16" y2="260.0" stroke="#333" stroke-width="0.75"/>
<line x1="79.65" y1="257" x2="79.65" y2="260.0" stroke="#333" stroke-width="0.75"/>
<line x1="82.12" y1="257" x2="82.12" y2="260.0" stroke="#333" stroke-width="0.75"/>
<line x1="84.04" y1="257" x2="84.04" y2="260.0" stroke="#333" stroke-width="0.75"/>
<line x1="85.61" y1="257" x2="85.61" y2="260.0" stroke="#333" stroke-width="0.75"/>
<line x1="86.93" y1="257" x2="86.93" y2="260.0" stroke="#333" stroke-width="0.75"/>
<line x1="88.08" y1="257" x2="88.08" y2="260.0" stroke="#333" stroke-width="0.75"/>
<line x1="89.09" y1="257" x2="89.09" y2="260.0" stroke="#333" stroke-width="0.75"/>
<line x1="90.50" y1="257" x2="90.50" y2="260.6" stroke="#333" stroke-width="0.75"/>
<line x1="96.46" y1="257" x2="96.46" y2="260.0" stroke="#333" stroke-width="0.75"/>
<line x1="99.95" y1="257" x2="99.95" y2="260.0" stroke="#333" stroke-width="0.75"/>
<line x1="102.42" y1="257" x2="102.42" y2="260.0" stroke="#333" stroke-width="0.75"/>
<line x1="104.34" y1="257" x2="104.34" y2="260.0" stroke="#333" stroke-width="0.75"/>
<line x1="105.91" y1="257" x2="105.91" y2="260.0" stroke="#333" stroke-width="0.75"/>
<line x1="107.23" y1="257" x2="107.23" y2="260.0" stroke="#333" stroke-width="0.75"/>
<line x1="108.38" y1="257" x2="108.38" y2="260.0" stroke="#333" stroke-width="0.75"/>
<line x1="109.39" y1="257" x2="109.39" y2="260.0" stroke="#333" stroke-width="0.75"/>
<line x1="110.00" y1="257" x2="110.00" y2="260.6" stroke="#333" stroke-width="0.75"/>
<line x1="115.96" y1="257" x2="115.96" y2="260.0" stroke="#333" stroke-width="0.75"/>
<line x1="119.45" y1="257" x2="119.45" y2="260.0" stroke="#333" stroke-width="0.75"/>
<line x1="121.92" y1="257" x2="121.92" y2="260.0" stroke="#333" stroke-width="0.75"/>
<line x1="123.84" y1="257" x2="123.84" y2="260.0" stroke="#333" stroke-width="0.75"/>
<line x1="125.41" y1="257" x2="125.41" y2="260.0" stroke="#333" stroke-width="0.75"/>
<line x1="126.73" y1="257" x2="126.73" y2="260.0" stroke="#333" stroke-width="0.75"/>
<line x1="127.88" y1="257" x2="127.88" y2="260.0" stroke="#333" stroke-width="0.75"/>
<line x1="128.89" y1="257" x2="128.89" y2="260.0" stroke="#333" stroke-width="0.75"/>
<line x1="129.50" y1="257" x2="129.50" y2="260.6" stroke="#333" stroke-width="0.75"/>
<line x1="135.46" y1="257" x2="135.46" y2="260.0" stroke="#333" stroke-width="0.75"/>
<line x1="135.50" y1="257" x2="135.50" y2="260.0" stroke="#333" stroke-width="0.75"/>
<svg x="0" y="0" width="520" height="644"><defs><clipPath id="cp30"><rect x="55" y="209" width="82" height="49"/></clipPath></defs><g clip-path="url(#cp30)">
<path d="M91.5,258.0L91.5,256.6L92.0,256.6L92.0,255.7L92.5,255.7L92.5,254.9L93.0,254.9L93.0,254.1L93.5,254.1L93.5,253.1L94.0,253.1L94.0,252.6L94.5,252.6L94.5,251.5L95.0,251.5L95.0,250.5L95.5,250.5L95.5,249.1L96.0,249.1L96.0,246.3L96.5,246.3L96.5,243.9L97.0,243.9L97.0,242.2L97.5,242.2L97.5,239.4L98.0,239.4L98.0,236.5L98.5,236.5L98.5,234.5L99.0,234.5L99.0,231.6L99.5,231.6L99.5,229.3L100.0,229.3L100.0,225.5L100.5,225.5L100.5,222.3L101.0,222.3L101.0,217.5L101.5,217.5L101.5,212.5L102.0,212.5L102.0,211.3L102.5,211.3L102.5,209.5L104.0,209.5L104.0,212.9L104.5,212.9L104.5,214.8L105.0,214.8L105.0,217.4L105.5,217.4L105.5,221.3L106.0,221.3L106.0,226.1L106.5,226.1L106.5,230.7L107.0,230.7L107.0,234.8L107.5,234.8L107.5,240.0L108.0,240.0L108.0,245.0L108.5,245.0L108.5,249.8L109.0,249.8L109.0,252.2L109.5,252.2L109.5,253.8L110.0,253.8L110.0,255.7L110.5,255.7L110.5,258.0Z" fill="#ff9e4a" stroke="#ff6200" stroke-width="0.8" stroke-linejoin="miter"/>
</g></svg>
<line x1="89.5" y1="209" x2="89.5" y2="258" stroke="#333" stroke-width="1.1"/>
<rect x="55.5" y="209.5" width="81" height="48" fill="none" stroke="#333" stroke-width="1.1"/>
<rect x="162" y="209" width="2" height="48" fill="#b8b8b8"/>
<line x1="161" y1="257.5" x2="164" y2="257.5" stroke="#666" stroke-width="0.7"/>
<line x1="161" y1="250.5" x2="164" y2="250.5" stroke="#666" stroke-width="0.7"/>
<line x1="161" y1="243.5" x2="164" y2="243.5" stroke="#666" stroke-width="0.7"/>
<line x1="161" y1="236.5" x2="164" y2="236.5" stroke="#666" stroke-width="0.7"/>
<line x1="161" y1="229.5" x2="164" y2="229.5" stroke="#666" stroke-width="0.7"/>
<line x1="161" y1="222.5" x2="164" y2="222.5" stroke="#666" stroke-width="0.7"/>
<line x1="161" y1="215.5" x2="164" y2="215.5" stroke="#666" stroke-width="0.7"/>
<line x1="164.40" y1="257" x2="164.40" y2="260.0" stroke="#333" stroke-width="0.75"/>
<line x1="167.75" y1="257" x2="167.75" y2="260.0" stroke="#333" stroke-width="0.75"/>
<line x1="171.51" y1="257" x2="171.51" y2="260.0" stroke="#333" stroke-width="0.75"/>
<line x1="174.47" y1="257" x2="174.47" y2="260.0" stroke="#333" stroke-width="0.75"/>
<line x1="176.54" y1="257" x2="176.54" y2="260.0" stroke="#333" stroke-width="0.75"/>
<line x1="179.01" y1="257" x2="179.01" y2="260.6" stroke="#333" stroke-width="0.75"/>
<line x1="184.90" y1="257" x2="184.90" y2="260.0" stroke="#333" stroke-width="0.75"/>
<line x1="188.34" y1="257" x2="188.34" y2="260.0" stroke="#333" stroke-width="0.75"/>
<line x1="190.79" y1="257" x2="190.79" y2="260.0" stroke="#333" stroke-width="0.75"/>
<line x1="192.68" y1="257" x2="192.68" y2="260.0" stroke="#333" stroke-width="0.75"/>
<line x1="194.23" y1="257" x2="194.23" y2="260.0" stroke="#333" stroke-width="0.75"/>
<line x1="195.54" y1="257" x2="195.54" y2="260.0" stroke="#333" stroke-width="0.75"/>
<line x1="196.67" y1="257" x2="196.67" y2="260.0" stroke="#333" stroke-width="0.75"/>
<line x1="197.67" y1="257" x2="197.67" y2="260.0" stroke="#333" stroke-width="0.75"/>
<line x1="199.06" y1="257" x2="199.06" y2="260.6" stroke="#333" stroke-width="0.75"/>
<line x1="204.95" y1="257" x2="204.95" y2="260.0" stroke="#333" stroke-width="0.75"/>
<line x1="208.39" y1="257" x2="208.39" y2="260.0" stroke="#333" stroke-width="0.75"/>
<line x1="210.84" y1="257" x2="210.84" y2="260.0" stroke="#333" stroke-width="0.75"/>
<line x1="212.73" y1="257" x2="212.73" y2="260.0" stroke="#333" stroke-width="0.75"/>
<line x1="214.28" y1="257" x2="214.28" y2="260.0" stroke="#333" stroke-width="0.75"/>
<line x1="215.59" y1="257" x2="215.59" y2="260.0" stroke="#333" stroke-width="0.75"/>
<line x1="216.72" y1="257" x2="216.72" y2="260.0" stroke="#333" stroke-width="0.75"/>
<line x1="217.72" y1="257" x2="217.72" y2="260.0" stroke="#333" stroke-width="0.75"/>
<line x1="218.32" y1="257" x2="218.32" y2="260.6" stroke="#333" stroke-width="0.75"/>
<line x1="224.21" y1="257" x2="224.21" y2="260.0" stroke="#333" stroke-width="0.75"/>
<line x1="227.65" y1="257" x2="227.65" y2="260.0" stroke="#333" stroke-width="0.75"/>
<line x1="230.09" y1="257" x2="230.09" y2="260.0" stroke="#333" stroke-width="0.75"/>
<line x1="231.99" y1="257" x2="231.99" y2="260.0" stroke="#333" stroke-width="0.75"/>
<line x1="233.54" y1="257" x2="233.54" y2="260.0" stroke="#333" stroke-width="0.75"/>
<line x1="234.85" y1="257" x2="234.85" y2="260.0" stroke="#333" stroke-width="0.75"/>
<line x1="235.98" y1="257" x2="235.98" y2="260.0" stroke="#333" stroke-width="0.75"/>
<line x1="236.98" y1="257" x2="236.98" y2="260.0" stroke="#333" stroke-width="0.75"/>
<line x1="237.58" y1="257" x2="237.58" y2="260.6" stroke="#333" stroke-width="0.75"/>
<line x1="243.47" y1="257" x2="243.47" y2="260.0" stroke="#333" stroke-width="0.75"/>
<line x1="243.51" y1="257" x2="243.51" y2="260.0" stroke="#333" stroke-width="0.75"/>
<svg x="0" y="0" width="520" height="644"><defs><clipPath id="cp31"><rect x="164" y="209" width="81" height="49"/></clipPath></defs><g clip-path="url(#cp31)">
<path d="M179.0,258.0L179.0,256.8L179.5,256.8L179.5,256.7L180.5,256.7L180.5,256.6L181.5,256.6L181.5,256.5L182.0,256.5L182.0,256.4L182.5,256.4L182.5,256.3L183.5,256.3L183.5,256.2L184.0,256.2L184.0,256.1L184.5,256.1L184.5,256.2L185.0,256.2L185.0,256.0L185.5,256.0L185.5,255.8L186.0,255.8L186.0,255.5L186.5,255.5L186.5,255.7L187.0,255.7L187.0,255.4L187.5,255.4L187.5,255.3L188.0,255.3L188.0,254.7L188.5,254.7L188.5,254.5L189.0,254.5L189.0,254.7L189.5,254.7L189.5,253.4L190.0,253.4L190.0,253.0L190.5,253.0L190.5,252.9L191.0,252.9L191.0,252.5L191.5,252.5L191.5,252.7L192.0,252.7L192.0,252.5L192.5,252.5L192.5,251.1L193.0,251.1L193.0,251.6L193.5,251.6L193.5,250.8L194.0,250.8L194.0,250.3L194.5,250.3L194.5,250.1L195.0,250.1L195.0,247.8L195.5,247.8L195.5,246.8L196.0,246.8L196.0,244.2L197.0,244.2L197.0,242.3L197.5,242.3L197.5,241.6L198.0,241.6L198.0,238.8L198.5,238.8L198.5,233.4L199.0,233.4L199.0,231.1L199.5,231.1L199.5,227.3L200.0,227.3L200.0,229.9L200.5,229.9L200.5,231.6L201.0,231.6L201.0,231.3L201.5,231.3L201.5,233.2L202.0,233.2L202.0,232.8L202.5,232.8L202.5,230.5L203.0,230.5L203.0,230.7L203.5,230.7L203.5,222.0L204.0,222.0L204.0,226.3L204.5,226.3L204.5,222.3L205.0,222.3L205.0,227.4L205.5,227.4L205.5,220.4L206.0,220.4L206.0,218.1L206.5,218.1L206.5,225.0L207.0,225.0L207.0,223.0L207.5,223.0L207.5,216.9L208.0,216.9L208.0,223.9L208.5,223.9L208.5,214.8L209.0,214.8L209.0,218.0L209.5,218.0L209.5,219.6L210.0,219.6L210.0,215.4L210.5,215.4L210.5,217.2L211.0,217.2L211.0,224.8L211.5,224.8L211.5,225.0L212.0,225.0L212.0,220.2L212.5,220.2L212.5,209.8L213.0,209.8L213.0,209.9L213.5,209.9L213.5,216.8L214.0,216.8L214.0,216.7L214.5,216.7L214.5,222.1L215.0,222.1L215.0,226.3L215.5,226.3L215.5,226.7L216.0,226.7L216.0,239.0L216.5,239.0L216.5,240.2L217.0,240.2L217.0,244.3L217.5,244.3L217.5,248.3L218.0,248.3L218.0,249.3L218.5,249.3L218.5,253.0L219.0,253.0L219.0,253.6L219.5,253.6L219.5,254.9L220.0,254.9L220.0,255.5L220.5,255.5L220.5,256.3L221.0,256.3L221.0,258.0Z" fill="#ff9e4a" stroke="#ff6200" stroke-width="0.6" stroke-linejoin="miter"/>
</g></svg>
<line x1="198.5" y1="209" x2="198.5" y2="258" stroke="#333" stroke-width="1.1"/>
<rect x="164.5" y="209.5" width="80" height="48" fill="none" stroke="#333" stroke-width="1.1"/>
<rect x="321" y="209" width="2" height="48" fill="#b8b8b8"/>
<line x1="320" y1="257.5" x2="323" y2="257.5" stroke="#666" stroke-width="0.7"/>
<line x1="320" y1="250.5" x2="323" y2="250.5" stroke="#666" stroke-width="0.7"/>
<line x1="320" y1="243.5" x2="323" y2="243.5" stroke="#666" stroke-width="0.7"/>
<line x1="320" y1="236.5" x2="323" y2="236.5" stroke="#666" stroke-width="0.7"/>
<line x1="320" y1="229.5" x2="323" y2="229.5" stroke="#666" stroke-width="0.7"/>
<line x1="320" y1="222.5" x2="323" y2="222.5" stroke="#666" stroke-width="0.7"/>
<line x1="320" y1="215.5" x2="323" y2="215.5" stroke="#666" stroke-width="0.7"/>
<line x1="323.40" y1="257" x2="323.40" y2="260.0" stroke="#333" stroke-width="0.75"/>
<line x1="326.85" y1="257" x2="326.85" y2="260.0" stroke="#333" stroke-width="0.75"/>
<line x1="330.69" y1="257" x2="330.69" y2="260.0" stroke="#333" stroke-width="0.75"/>
<line x1="333.73" y1="257" x2="333.73" y2="260.0" stroke="#333" stroke-width="0.75"/>
<line x1="335.86" y1="257" x2="335.86" y2="260.0" stroke="#333" stroke-width="0.75"/>
<line x1="338.39" y1="257" x2="338.39" y2="260.6" stroke="#333" stroke-width="0.75"/>
<line x1="344.42" y1="257" x2="344.42" y2="260.0" stroke="#333" stroke-width="0.75"/>
<line x1="347.95" y1="257" x2="347.95" y2="260.0" stroke="#333" stroke-width="0.75"/>
<line x1="350.46" y1="257" x2="350.46" y2="260.0" stroke="#333" stroke-width="0.75"/>
<line x1="352.40" y1="257" x2="352.40" y2="260.0" stroke="#333" stroke-width="0.75"/>
<line x1="353.99" y1="257" x2="353.99" y2="260.0" stroke="#333" stroke-width="0.75"/>
<line x1="355.33" y1="257" x2="355.33" y2="260.0" stroke="#333" stroke-width="0.75"/>
<line x1="356.49" y1="257" x2="356.49" y2="260.0" stroke="#333" stroke-width="0.75"/>
<line x1="357.51" y1="257" x2="357.51" y2="260.0" stroke="#333" stroke-width="0.75"/>
<line x1="358.94" y1="257" x2="358.94" y2="260.6" stroke="#333" stroke-width="0.75"/>
<line x1="364.97" y1="257" x2="364.97" y2="260.0" stroke="#333" stroke-width="0.75"/>
<line x1="368.50" y1="257" x2="368.50" y2="260.0" stroke="#333" stroke-width="0.75"/>
<line x1="371.01" y1="257" x2="371.01" y2="260.0" stroke="#333" stroke-width="0.75"/>
<line x1="372.95" y1="257" x2="372.95" y2="260.0" stroke="#333" stroke-width="0.75"/>
<line x1="374.54" y1="257" x2="374.54" y2="260.0" stroke="#333" stroke-width="0.75"/>
<line x1="375.88" y1="257" x2="375.88" y2="260.0" stroke="#333" stroke-width="0.75"/>
<line x1="377.04" y1="257" x2="377.04" y2="260.0" stroke="#333" stroke-width="0.75"/>
<line x1="378.07" y1="257" x2="378.07" y2="260.0" stroke="#333" stroke-width="0.75"/>
<line x1="378.68" y1="257" x2="378.68" y2="260.6" stroke="#333" stroke-width="0.75"/>
<line x1="384.71" y1="257" x2="384.71" y2="260.0" stroke="#333" stroke-width="0.75"/>
<line x1="388.24" y1="257" x2="388.24" y2="260.0" stroke="#333" stroke-width="0.75"/>
<line x1="390.75" y1="257" x2="390.75" y2="260.0" stroke="#333" stroke-width="0.75"/>
<line x1="392.69" y1="257" x2="392.69" y2="260.0" stroke="#333" stroke-width="0.75"/>
<line x1="394.28" y1="257" x2="394.28" y2="260.0" stroke="#333" stroke-width="0.75"/>
<line x1="395.62" y1="257" x2="395.62" y2="260.0" stroke="#333" stroke-width="0.75"/>
<line x1="396.78" y1="257" x2="396.78" y2="260.0" stroke="#333" stroke-width="0.75"/>
<line x1="397.81" y1="257" x2="397.81" y2="260.0" stroke="#333" stroke-width="0.75"/>
<line x1="398.42" y1="257" x2="398.42" y2="260.6" stroke="#333" stroke-width="0.75"/>
<line x1="404.45" y1="257" x2="404.45" y2="260.0" stroke="#333" stroke-width="0.75"/>
<line x1="404.49" y1="257" x2="404.49" y2="260.0" stroke="#333" stroke-width="0.75"/>
<svg x="0" y="0" width="520" height="644"><defs><clipPath id="cp32"><rect x="323" y="209" width="83" height="49"/></clipPath></defs><g clip-path="url(#cp32)">
<path d="M371.0,258.0L371.0,255.9L371.5,255.9L371.5,254.6L372.0,254.6L372.0,253.3L372.5,253.3L372.5,252.1L373.0,252.1L373.0,250.8L373.5,250.8L373.5,248.0L374.0,248.0L374.0,244.3L374.5,244.3L374.5,240.6L375.0,240.6L375.0,237.5L375.5,237.5L375.5,234.1L376.0,234.1L376.0,227.8L376.5,227.8L376.5,220.9L377.0,220.9L377.0,213.3L377.5,213.3L377.5,210.0L378.0,210.0L378.0,209.5L378.5,209.5L378.5,213.3L379.0,213.3L379.0,221.2L379.5,221.2L379.5,227.6L380.0,227.6L380.0,233.5L380.5,233.5L380.5,238.3L381.0,238.3L381.0,242.2L381.5,242.2L381.5,246.0L382.0,246.0L382.0,249.9L382.5,249.9L382.5,251.8L383.0,251.8L383.0,253.2L383.5,253.2L383.5,254.6L384.0,254.6L384.0,256.0L384.5,256.0L384.5,258.0Z" fill="#ff9e4a" stroke="#ff6200" stroke-width="0.8" stroke-linejoin="miter"/>
</g></svg>
<line x1="366.5" y1="209" x2="366.5" y2="258" stroke="#333" stroke-width="1.1"/>
<rect x="323.5" y="209.5" width="82" height="48" fill="none" stroke="#333" stroke-width="1.1"/>
<rect x="431" y="209" width="2" height="48" fill="#b8b8b8"/>
<line x1="430" y1="257.5" x2="433" y2="257.5" stroke="#666" stroke-width="0.7"/>
<line x1="430" y1="250.5" x2="433" y2="250.5" stroke="#666" stroke-width="0.7"/>
<line x1="430" y1="243.5" x2="433" y2="243.5" stroke="#666" stroke-width="0.7"/>
<line x1="430" y1="236.5" x2="433" y2="236.5" stroke="#666" stroke-width="0.7"/>
<line x1="430" y1="229.5" x2="433" y2="229.5" stroke="#666" stroke-width="0.7"/>
<line x1="430" y1="222.5" x2="433" y2="222.5" stroke="#666" stroke-width="0.7"/>
<line x1="430" y1="215.5" x2="433" y2="215.5" stroke="#666" stroke-width="0.7"/>
<line x1="433.40" y1="257" x2="433.40" y2="260.0" stroke="#333" stroke-width="0.75"/>
<line x1="436.75" y1="257" x2="436.75" y2="260.0" stroke="#333" stroke-width="0.75"/>
<line x1="440.51" y1="257" x2="440.51" y2="260.0" stroke="#333" stroke-width="0.75"/>
<line x1="443.47" y1="257" x2="443.47" y2="260.0" stroke="#333" stroke-width="0.75"/>
<line x1="445.54" y1="257" x2="445.54" y2="260.0" stroke="#333" stroke-width="0.75"/>
<line x1="448.01" y1="257" x2="448.01" y2="260.6" stroke="#333" stroke-width="0.75"/>
<line x1="453.90" y1="257" x2="453.90" y2="260.0" stroke="#333" stroke-width="0.75"/>
<line x1="457.34" y1="257" x2="457.34" y2="260.0" stroke="#333" stroke-width="0.75"/>
<line x1="459.79" y1="257" x2="459.79" y2="260.0" stroke="#333" stroke-width="0.75"/>
<line x1="461.68" y1="257" x2="461.68" y2="260.0" stroke="#333" stroke-width="0.75"/>
<line x1="463.23" y1="257" x2="463.23" y2="260.0" stroke="#333" stroke-width="0.75"/>
<line x1="464.54" y1="257" x2="464.54" y2="260.0" stroke="#333" stroke-width="0.75"/>
<line x1="465.67" y1="257" x2="465.67" y2="260.0" stroke="#333" stroke-width="0.75"/>
<line x1="466.67" y1="257" x2="466.67" y2="260.0" stroke="#333" stroke-width="0.75"/>
<line x1="468.06" y1="257" x2="468.06" y2="260.6" stroke="#333" stroke-width="0.75"/>
<line x1="473.95" y1="257" x2="473.95" y2="260.0" stroke="#333" stroke-width="0.75"/>
<line x1="477.39" y1="257" x2="477.39" y2="260.0" stroke="#333" stroke-width="0.75"/>
<line x1="479.84" y1="257" x2="479.84" y2="260.0" stroke="#333" stroke-width="0.75"/>
<line x1="481.73" y1="257" x2="481.73" y2="260.0" stroke="#333" stroke-width="0.75"/>
<line x1="483.28" y1="257" x2="483.28" y2="260.0" stroke="#333" stroke-width="0.75"/>
<line x1="484.59" y1="257" x2="484.59" y2="260.0" stroke="#333" stroke-width="0.75"/>
<line x1="485.72" y1="257" x2="485.72" y2="260.0" stroke="#333" stroke-width="0.75"/>
<line x1="486.72" y1="257" x2="486.72" y2="260.0" stroke="#333" stroke-width="0.75"/>
<line x1="487.32" y1="257" x2="487.32" y2="260.6" stroke="#333" stroke-width="0.75"/>
<line x1="493.21" y1="257" x2="493.21" y2="260.0" stroke="#333" stroke-width="0.75"/>
<line x1="496.65" y1="257" x2="496.65" y2="260.0" stroke="#333" stroke-width="0.75"/>
<line x1="499.09" y1="257" x2="499.09" y2="260.0" stroke="#333" stroke-width="0.75"/>
<line x1="500.99" y1="257" x2="500.99" y2="260.0" stroke="#333" stroke-width="0.75"/>
<line x1="502.54" y1="257" x2="502.54" y2="260.0" stroke="#333" stroke-width="0.75"/>
<line x1="503.85" y1="257" x2="503.85" y2="260.0" stroke="#333" stroke-width="0.75"/>
<line x1="504.98" y1="257" x2="504.98" y2="260.0" stroke="#333" stroke-width="0.75"/>
<line x1="505.98" y1="257" x2="505.98" y2="260.0" stroke="#333" stroke-width="0.75"/>
<line x1="506.58" y1="257" x2="506.58" y2="260.6" stroke="#333" stroke-width="0.75"/>
<line x1="512.47" y1="257" x2="512.47" y2="260.0" stroke="#333" stroke-width="0.75"/>
<line x1="512.51" y1="257" x2="512.51" y2="260.0" stroke="#333" stroke-width="0.75"/>
<svg x="0" y="0" width="520" height="644"><defs><clipPath id="cp33"><rect x="433" y="209" width="81" height="49"/></clipPath></defs><g clip-path="url(#cp33)">
<path d="M445.0,258.0L445.0,256.8L446.0,256.8L446.0,256.7L446.5,256.7L446.5,256.6L447.5,256.6L447.5,256.5L448.0,256.5L448.0,256.4L448.5,256.4L448.5,256.3L449.0,256.3L449.0,256.2L449.5,256.2L449.5,256.3L450.0,256.3L450.0,256.2L451.0,256.2L451.0,256.1L451.5,256.1L451.5,255.8L452.5,255.8L452.5,255.6L453.5,255.6L453.5,255.4L454.0,255.4L454.0,255.2L454.5,255.2L454.5,254.8L455.0,254.8L455.0,254.6L455.5,254.6L455.5,254.7L456.0,254.7L456.0,254.3L456.5,254.3L456.5,254.1L457.0,254.1L457.0,253.2L457.5,253.2L457.5,253.0L458.0,253.0L458.0,252.5L458.5,252.5L458.5,251.8L459.0,251.8L459.0,251.3L459.5,251.3L459.5,250.4L460.0,250.4L460.0,250.0L460.5,250.0L460.5,250.4L461.0,250.4L461.0,249.4L461.5,249.4L461.5,250.3L462.0,250.3L462.0,249.7L462.5,249.7L462.5,249.6L463.0,249.6L463.0,249.4L463.5,249.4L463.5,249.2L464.0,249.2L464.0,248.6L464.5,248.6L464.5,248.5L465.5,248.5L465.5,246.2L466.0,246.2L466.0,245.7L466.5,245.7L466.5,244.7L467.0,244.7L467.0,245.0L467.5,245.0L467.5,244.9L468.0,244.9L468.0,243.7L468.5,243.7L468.5,245.2L469.0,245.2L469.0,242.9L469.5,242.9L469.5,243.2L470.0,243.2L470.0,243.8L470.5,243.8L470.5,243.3L471.0,243.3L471.0,241.7L471.5,241.7L471.5,242.4L472.0,242.4L472.0,242.0L473.0,242.0L473.0,243.3L473.5,243.3L473.5,244.2L474.0,244.2L474.0,242.0L474.5,242.0L474.5,242.2L475.0,242.2L475.0,241.5L475.5,241.5L475.5,240.9L476.0,240.9L476.0,239.3L476.5,239.3L476.5,240.0L477.0,240.0L477.0,236.2L477.5,236.2L477.5,235.2L478.0,235.2L478.0,239.9L478.5,239.9L478.5,240.3L479.0,240.3L479.0,241.5L479.5,241.5L479.5,244.1L480.0,244.1L480.0,242.9L480.5,242.9L480.5,239.2L481.0,239.2L481.0,238.1L481.5,238.1L481.5,237.9L482.0,237.9L482.0,238.9L482.5,238.9L482.5,236.2L483.0,236.2L483.0,232.2L483.5,232.2L483.5,222.7L484.0,222.7L484.0,213.3L484.5,213.3L484.5,216.3L485.0,216.3L485.0,210.9L485.5,210.9L485.5,219.2L486.0,219.2L486.0,222.0L486.5,222.0L486.5,232.4L487.0,232.4L487.0,231.4L487.5,231.4L487.5,237.9L488.0,237.9L488.0,241.7L488.5,241.7L488.5,246.9L489.0,246.9L489.0,248.6L489.5,248.6L489.5,251.5L490.0,251.5L490.0,254.1L490.5,254.1L490.5,254.9L491.0,254.9L491.0,255.4L491.5,255.4L491.5,256.1L492.0,256.1L492.0,256.7L492.5,256.7L492.5,258.0Z" fill="#ff9e4a" stroke="#ff6200" stroke-width="0.8" stroke-linejoin="miter"/>
</g></svg>
<line x1="474.5" y1="209" x2="474.5" y2="258" stroke="#333" stroke-width="1.1"/>
<rect x="433.5" y="209.5" width="80" height="48" fill="none" stroke="#333" stroke-width="1.1"/>
<rect x="53" y="270" width="2" height="47" fill="#b8b8b8"/>
<line x1="52" y1="317.5" x2="55" y2="317.5" stroke="#666" stroke-width="0.7"/>
<line x1="52" y1="310.5" x2="55" y2="310.5" stroke="#666" stroke-width="0.7"/>
<line x1="52" y1="303.5" x2="55" y2="303.5" stroke="#666" stroke-width="0.7"/>
<line x1="52" y1="296.5" x2="55" y2="296.5" stroke="#666" stroke-width="0.7"/>
<line x1="52" y1="289.5" x2="55" y2="289.5" stroke="#666" stroke-width="0.7"/>
<line x1="52" y1="282.5" x2="55" y2="282.5" stroke="#666" stroke-width="0.7"/>
<line x1="52" y1="275.5" x2="55" y2="275.5" stroke="#666" stroke-width="0.7"/>
<line x1="55.40" y1="317" x2="55.40" y2="320.0" stroke="#333" stroke-width="0.75"/>
<line x1="58.80" y1="317" x2="58.80" y2="320.0" stroke="#333" stroke-width="0.75"/>
<line x1="62.60" y1="317" x2="62.60" y2="320.0" stroke="#333" stroke-width="0.75"/>
<line x1="65.60" y1="317" x2="65.60" y2="320.0" stroke="#333" stroke-width="0.75"/>
<line x1="67.70" y1="317" x2="67.70" y2="320.0" stroke="#333" stroke-width="0.75"/>
<line x1="70.20" y1="317" x2="70.20" y2="320.6" stroke="#333" stroke-width="0.75"/>
<line x1="76.16" y1="317" x2="76.16" y2="320.0" stroke="#333" stroke-width="0.75"/>
<line x1="79.65" y1="317" x2="79.65" y2="320.0" stroke="#333" stroke-width="0.75"/>
<line x1="82.12" y1="317" x2="82.12" y2="320.0" stroke="#333" stroke-width="0.75"/>
<line x1="84.04" y1="317" x2="84.04" y2="320.0" stroke="#333" stroke-width="0.75"/>
<line x1="85.61" y1="317" x2="85.61" y2="320.0" stroke="#333" stroke-width="0.75"/>
<line x1="86.93" y1="317" x2="86.93" y2="320.0" stroke="#333" stroke-width="0.75"/>
<line x1="88.08" y1="317" x2="88.08" y2="320.0" stroke="#333" stroke-width="0.75"/>
<line x1="89.09" y1="317" x2="89.09" y2="320.0" stroke="#333" stroke-width="0.75"/>
<line x1="90.50" y1="317" x2="90.50" y2="320.6" stroke="#333" stroke-width="0.75"/>
<line x1="96.46" y1="317" x2="96.46" y2="320.0" stroke="#333" stroke-width="0.75"/>
<line x1="99.95" y1="317" x2="99.95" y2="320.0" stroke="#333" stroke-width="0.75"/>
<line x1="102.42" y1="317" x2="102.42" y2="320.0" stroke="#333" stroke-width="0.75"/>
<line x1="104.34" y1="317" x2="104.34" y2="320.0" stroke="#333" stroke-width="0.75"/>
<line x1="105.91" y1="317" x2="105.91" y2="320.0" stroke="#333" stroke-width="0.75"/>
<line x1="107.23" y1="317" x2="107.23" y2="320.0" stroke="#333" stroke-width="0.75"/>
<line x1="108.38" y1="317" x2="108.38" y2="320.0" stroke="#333" stroke-width="0.75"/>
<line x1="109.39" y1="317" x2="109.39" y2="320.0" stroke="#333" stroke-width="0.75"/>
<line x1="110.00" y1="317" x2="110.00" y2="320.6" stroke="#333" stroke-width="0.75"/>
<line x1="115.96" y1="317" x2="115.96" y2="320.0" stroke="#333" stroke-width="0.75"/>
<line x1="119.45" y1="317" x2="119.45" y2="320.0" stroke="#333" stroke-width="0.75"/>
<line x1="121.92" y1="317" x2="121.92" y2="320.0" stroke="#333" stroke-width="0.75"/>
<line x1="123.84" y1="317" x2="123.84" y2="320.0" stroke="#333" stroke-width="0.75"/>
<line x1="125.41" y1="317" x2="125.41" y2="320.0" stroke="#333" stroke-width="0.75"/>
<line x1="126.73" y1="317" x2="126.73" y2="320.0" stroke="#333" stroke-width="0.75"/>
<line x1="127.88" y1="317" x2="127.88" y2="320.0" stroke="#333" stroke-width="0.75"/>
<line x1="128.89" y1="317" x2="128.89" y2="320.0" stroke="#333" stroke-width="0.75"/>
<line x1="129.50" y1="317" x2="129.50" y2="320.6" stroke="#333" stroke-width="0.75"/>
<line x1="135.46" y1="317" x2="135.46" y2="320.0" stroke="#333" stroke-width="0.75"/>
<line x1="135.50" y1="317" x2="135.50" y2="320.0" stroke="#333" stroke-width="0.75"/>
<svg x="0" y="0" width="520" height="644"><defs><clipPath id="cp40"><rect x="55" y="270" width="82" height="48"/></clipPath></defs><g clip-path="url(#cp40)">
<rect x="97.45" y="279.80" width="0.9" height="37.20" fill="#a2d4a2"/>
<rect x="97.85" y="284.45" width="0.9" height="32.55" fill="#a2d4a2"/>
<rect x="103.05" y="272.82" width="0.9" height="44.17" fill="#a2d4a2"/>
<rect x="105.55" y="270.50" width="0.9" height="46.50" fill="#a2d4a2"/>
<rect x="101.05" y="282.12" width="0.9" height="34.88" fill="#a2d4a2"/>
<path d="M91.0,318.0L91.0,316.3L91.5,316.3L91.5,315.9L92.0,315.9L92.0,314.6L92.5,314.6L92.5,314.7L93.0,314.7L93.0,314.6L93.5,314.6L93.5,315.8L94.0,315.8L94.0,315.6L94.5,315.6L94.5,312.5L95.0,312.5L95.0,308.7L95.5,308.7L95.5,304.7L96.0,304.7L96.0,305.3L96.5,305.3L96.5,302.3L97.0,302.3L97.0,295.8L97.5,295.8L97.5,293.3L98.0,293.3L98.0,292.5L98.5,292.5L98.5,293.9L99.0,293.9L99.0,288.9L99.5,288.9L99.5,290.8L100.0,290.8L100.0,291.8L100.5,291.8L100.5,295.8L101.0,295.8L101.0,287.0L101.5,287.0L101.5,285.8L102.0,285.8L102.0,284.4L102.5,284.4L102.5,279.5L103.0,279.5L103.0,280.1L103.5,280.1L103.5,286.7L104.0,286.7L104.0,281.7L104.5,281.7L104.5,285.6L105.0,285.6L105.0,283.2L105.5,283.2L105.5,279.4L106.0,279.4L106.0,287.6L106.5,287.6L106.5,294.4L107.0,294.4L107.0,294.3L107.5,294.3L107.5,296.9L108.0,296.9L108.0,303.4L108.5,303.4L108.5,304.7L109.0,304.7L109.0,311.2L109.5,311.2L109.5,313.5L110.0,313.5L110.0,314.6L110.5,314.6L110.5,315.1L111.0,315.1L111.0,316.4L111.5,316.4L111.5,318.0Z" fill="#4c9e4c" stroke="#106e10" stroke-width="0.6" stroke-linejoin="miter"/>
</g></svg>
<line x1="89.5" y1="270" x2="89.5" y2="318" stroke="#333" stroke-width="1.1"/>
<rect x="55.5" y="270.5" width="81" height="47" fill="none" stroke="#333" stroke-width="1.1"/>
<rect x="162" y="270" width="2" height="47" fill="#b8b8b8"/>
<line x1="161" y1="317.5" x2="164" y2="317.5" stroke="#666" stroke-width="0.7"/>
<line x1="161" y1="310.5" x2="164" y2="310.5" stroke="#666" stroke-width="0.7"/>
<line x1="161" y1="303.5" x2="164" y2="303.5" stroke="#666" stroke-width="0.7"/>
<line x1="161" y1="296.5" x2="164" y2="296.5" stroke="#666" stroke-width="0.7"/>
<line x1="161" y1="289.5" x2="164" y2="289.5" stroke="#666" stroke-width="0.7"/>
<line x1="161" y1="282.5" x2="164" y2="282.5" stroke="#666" stroke-width="0.7"/>
<line x1="161" y1="275.5" x2="164" y2="275.5" stroke="#666" stroke-width="0.7"/>
<line x1="164.40" y1="317" x2="164.40" y2="320.0" stroke="#333" stroke-width="0.75"/>
<line x1="167.75" y1="317" x2="167.75" y2="320.0" stroke="#333" stroke-width="0.75"/>
<line x1="171.51" y1="317" x2="171.51" y2="320.0" stroke="#333" stroke-width="0.75"/>
<line x1="174.47" y1="317" x2="174.47" y2="320.0" stroke="#333" stroke-width="0.75"/>
<line x1="176.54" y1="317" x2="176.54" y2="320.0" stroke="#333" stroke-width="0.75"/>
<line x1="179.01" y1="317" x2="179.01" y2="320.6" stroke="#333" stroke-width="0.75"/>
<line x1="184.90" y1="317" x2="184.90" y2="320.0" stroke="#333" stroke-width="0.75"/>
<line x1="188.34" y1="317" x2="188.34" y2="320.0" stroke="#333" stroke-width="0.75"/>
<line x1="190.79" y1="317" x2="190.79" y2="320.0" stroke="#333" stroke-width="0.75"/>
<line x1="192.68" y1="317" x2="192.68" y2="320.0" stroke="#333" stroke-width="0.75"/>
<line x1="194.23" y1="317" x2="194.23" y2="320.0" stroke="#333" stroke-width="0.75"/>
<line x1="195.54" y1="317" x2="195.54" y2="320.0" stroke="#333" stroke-width="0.75"/>
<line x1="196.67" y1="317" x2="196.67" y2="320.0" stroke="#333" stroke-width="0.75"/>
<line x1="197.67" y1="317" x2="197.67" y2="320.0" stroke="#333" stroke-width="0.75"/>
<line x1="199.06" y1="317" x2="199.06" y2="320.6" stroke="#333" stroke-width="0.75"/>
<line x1="204.95" y1="317" x2="204.95" y2="320.0" stroke="#333" stroke-width="0.75"/>
<line x1="208.39" y1="317" x2="208.39" y2="320.0" stroke="#333" stroke-width="0.75"/>
<line x1="210.84" y1="317" x2="210.84" y2="320.0" stroke="#333" stroke-width="0.75"/>
<line x1="212.73" y1="317" x2="212.73" y2="320.0" stroke="#333" stroke-width="0.75"/>
<line x1="214.28" y1="317" x2="214.28" y2="320.0" stroke="#333" stroke-width="0.75"/>
<line x1="215.59" y1="317" x2="215.59" y2="320.0" stroke="#333" stroke-width="0.75"/>
<line x1="216.72" y1="317" x2="216.72" y2="320.0" stroke="#333" stroke-width="0.75"/>
<line x1="217.72" y1="317" x2="217.72" y2="320.0" stroke="#333" stroke-width="0.75"/>
<line x1="218.32" y1="317" x2="218.32" y2="320.6" stroke="#333" stroke-width="0.75"/>
<line x1="224.21" y1="317" x2="224.21" y2="320.0" stroke="#333" stroke-width="0.75"/>
<line x1="227.65" y1="317" x2="227.65" y2="320.0" stroke="#333" stroke-width="0.75"/>
<line x1="230.09" y1="317" x2="230.09" y2="320.0" stroke="#333" stroke-width="0.75"/>
<line x1="231.99" y1="317" x2="231.99" y2="320.0" stroke="#333" stroke-width="0.75"/>
<line x1="233.54" y1="317" x2="233.54" y2="320.0" stroke="#333" stroke-width="0.75"/>
<line x1="234.85" y1="317" x2="234.85" y2="320.0" stroke="#333" stroke-width="0.75"/>
<line x1="235.98" y1="317" x2="235.98" y2="320.0" stroke="#333" stroke-width="0.75"/>
<line x1="236.98" y1="317" x2="236.98" y2="320.0" stroke="#333" stroke-width="0.75"/>
<line x1="237.58" y1="317" x2="237.58" y2="320.6" stroke="#333" stroke-width="0.75"/>
<line x1="243.47" y1="317" x2="243.47" y2="320.0" stroke="#333" stroke-width="0.75"/>
<line x1="243.51" y1="317" x2="243.51" y2="320.0" stroke="#333" stroke-width="0.75"/>
<svg x="0" y="0" width="520" height="644"><defs><clipPath id="cp41"><rect x="164" y="270" width="81" height="48"/></clipPath></defs><g clip-path="url(#cp41)">
<rect x="205.05" y="282.12" width="0.9" height="34.88" fill="#a2d4a2"/>
<rect x="208.15" y="274.22" width="0.9" height="42.78" fill="#a2d4a2"/>
<rect x="211.05" y="271.43" width="0.9" height="45.57" fill="#a2d4a2"/>
<rect x="212.55" y="277.48" width="0.9" height="39.52" fill="#a2d4a2"/>
<rect x="206.55" y="289.10" width="0.9" height="27.90" fill="#a2d4a2"/>
<path d="M186.0,318.0L186.0,315.4L186.5,315.4L186.5,314.6L187.0,314.6L187.0,314.3L187.5,314.3L187.5,315.0L188.0,315.0L188.0,314.1L189.0,314.1L189.0,314.0L189.5,314.0L189.5,314.9L190.0,314.9L190.0,315.1L190.5,315.1L190.5,314.7L191.0,314.7L191.0,314.2L191.5,314.2L191.5,315.0L192.0,315.0L192.0,314.3L192.5,314.3L192.5,314.2L193.0,314.2L193.0,312.8L193.5,312.8L193.5,312.0L194.0,312.0L194.0,312.9L194.5,312.9L194.5,310.8L195.0,310.8L195.0,313.3L195.5,313.3L195.5,311.4L196.0,311.4L196.0,311.6L196.5,311.6L196.5,313.8L197.0,313.8L197.0,312.8L197.5,312.8L197.5,311.1L198.0,311.1L198.0,307.0L198.5,307.0L198.5,308.7L199.0,308.7L199.0,305.7L199.5,305.7L199.5,303.7L200.0,303.7L200.0,305.5L200.5,305.5L200.5,307.8L201.0,307.8L201.0,309.1L201.5,309.1L201.5,300.3L202.0,300.3L202.0,301.3L202.5,301.3L202.5,295.8L203.0,295.8L203.0,304.6L203.5,304.6L203.5,298.9L204.0,298.9L204.0,297.0L204.5,297.0L204.5,287.9L205.0,287.9L205.0,295.9L205.5,295.9L205.5,290.1L206.0,290.1L206.0,298.2L206.5,298.2L206.5,290.0L207.0,290.0L207.0,294.9L207.5,294.9L207.5,285.2L208.0,285.2L208.0,290.1L208.5,290.1L208.5,276.4L209.0,276.4L209.0,270.5L209.5,270.5L209.5,289.2L210.0,289.2L210.0,289.6L210.5,289.6L210.5,284.9L211.0,284.9L211.0,287.4L211.5,287.4L211.5,286.7L212.0,286.7L212.0,287.3L212.5,287.3L212.5,281.3L213.0,281.3L213.0,295.5L213.5,295.5L213.5,289.2L214.0,289.2L214.0,288.4L214.5,288.4L214.5,286.9L215.0,286.9L215.0,295.0L215.5,295.0L215.5,292.8L216.0,292.8L216.0,297.2L216.5,297.2L216.5,306.5L217.0,306.5L217.0,309.3L217.5,309.3L217.5,310.2L218.0,310.2L218.0,314.2L218.5,314.2L218.5,316.5L219.0,316.5L219.0,318.0Z" fill="#4c9e4c" stroke="#106e10" stroke-width="0.6" stroke-linejoin="miter"/>
</g></svg>
<line x1="198.5" y1="270" x2="198.5" y2="318" stroke="#333" stroke-width="1.1"/>
<rect x="164.5" y="270.5" width="80" height="47" fill="none" stroke="#333" stroke-width="1.1"/>
<rect x="321" y="270" width="2" height="47" fill="#b8b8b8"/>
<line x1="320" y1="317.5" x2="323" y2="317.5" stroke="#666" stroke-width="0.7"/>
<line x1="320" y1="310.5" x2="323" y2="310.5" stroke="#666" stroke-width="0.7"/>
<line x1="320" y1="303.5" x2="323" y2="303.5" stroke="#666" stroke-width="0.7"/>
<line x1="320" y1="296.5" x2="323" y2="296.5" stroke="#666" stroke-width="0.7"/>
<line x1="320" y1="289.5" x2="323" y2="289.5" stroke="#666" stroke-width="0.7"/>
<line x1="320" y1="282.5" x2="323" y2="282.5" stroke="#666" stroke-width="0.7"/>
<line x1="320" y1="275.5" x2="323" y2="275.5" stroke="#666" stroke-width="0.7"/>
<line x1="323.40" y1="317" x2="323.40" y2="320.0" stroke="#333" stroke-width="0.75"/>
<line x1="326.85" y1="317" x2="326.85" y2="320.0" stroke="#333" stroke-width="0.75"/>
<line x1="330.69" y1="317" x2="330.69" y2="320.0" stroke="#333" stroke-width="0.75"/>
<line x1="333.73" y1="317" x2="333.73" y2="320.0" stroke="#333" stroke-width="0.75"/>
<line x1="335.86" y1="317" x2="335.86" y2="320.0" stroke="#333" stroke-width="0.75"/>
<line x1="338.39" y1="317" x2="338.39" y2="320.6" stroke="#333" stroke-width="0.75"/>
<line x1="344.42" y1="317" x2="344.42" y2="320.0" stroke="#333" stroke-width="0.75"/>
<line x1="347.95" y1="317" x2="347.95" y2="320.0" stroke="#333" stroke-width="0.75"/>
<line x1="350.46" y1="317" x2="350.46" y2="320.0" stroke="#333" stroke-width="0.75"/>
<line x1="352.40" y1="317" x2="352.40" y2="320.0" stroke="#333" stroke-width="0.75"/>
<line x1="353.99" y1="317" x2="353.99" y2="320.0" stroke="#333" stroke-width="0.75"/>
<line x1="355.33" y1="317" x2="355.33" y2="320.0" stroke="#333" stroke-width="0.75"/>
<line x1="356.49" y1="317" x2="356.49" y2="320.0" stroke="#333" stroke-width="0.75"/>
<line x1="357.51" y1="317" x2="357.51" y2="320.0" stroke="#333" stroke-width="0.75"/>
<line x1="358.94" y1="317" x2="358.94" y2="320.6" stroke="#333" stroke-width="0.75"/>
<line x1="364.97" y1="317" x2="364.97" y2="320.0" stroke="#333" stroke-width="0.75"/>
<line x1="368.50" y1="317" x2="368.50" y2="320.0" stroke="#333" stroke-width="0.75"/>
<line x1="371.01" y1="317" x2="371.01" y2="320.0" stroke="#333" stroke-width="0.75"/>
<line x1="372.95" y1="317" x2="372.95" y2="320.0" stroke="#333" stroke-width="0.75"/>
<line x1="374.54" y1="317" x2="374.54" y2="320.0" stroke="#333" stroke-width="0.75"/>
<line x1="375.88" y1="317" x2="375.88" y2="320.0" stroke="#333" stroke-width="0.75"/>
<line x1="377.04" y1="317" x2="377.04" y2="320.0" stroke="#333" stroke-width="0.75"/>
<line x1="378.07" y1="317" x2="378.07" y2="320.0" stroke="#333" stroke-width="0.75"/>
<line x1="378.68" y1="317" x2="378.68" y2="320.6" stroke="#333" stroke-width="0.75"/>
<line x1="384.71" y1="317" x2="384.71" y2="320.0" stroke="#333" stroke-width="0.75"/>
<line x1="388.24" y1="317" x2="388.24" y2="320.0" stroke="#333" stroke-width="0.75"/>
<line x1="390.75" y1="317" x2="390.75" y2="320.0" stroke="#333" stroke-width="0.75"/>
<line x1="392.69" y1="317" x2="392.69" y2="320.0" stroke="#333" stroke-width="0.75"/>
<line x1="394.28" y1="317" x2="394.28" y2="320.0" stroke="#333" stroke-width="0.75"/>
<line x1="395.62" y1="317" x2="395.62" y2="320.0" stroke="#333" stroke-width="0.75"/>
<line x1="396.78" y1="317" x2="396.78" y2="320.0" stroke="#333" stroke-width="0.75"/>
<line x1="397.81" y1="317" x2="397.81" y2="320.0" stroke="#333" stroke-width="0.75"/>
<line x1="398.42" y1="317" x2="398.42" y2="320.6" stroke="#333" stroke-width="0.75"/>
<line x1="404.45" y1="317" x2="404.45" y2="320.0" stroke="#333" stroke-width="0.75"/>
<line x1="404.49" y1="317" x2="404.49" y2="320.0" stroke="#333" stroke-width="0.75"/>
<svg x="0" y="0" width="520" height="644"><defs><clipPath id="cp42"><rect x="323" y="270" width="83" height="48"/></clipPath></defs><g clip-path="url(#cp42)">
<rect x="376.05" y="270.50" width="0.9" height="46.50" fill="#a2d4a2"/>
<rect x="377.05" y="270.50" width="0.9" height="46.50" fill="#a2d4a2"/>
<rect x="370.55" y="309.10" width="0.9" height="7.91" fill="#a2d4a2"/>
<rect x="371.55" y="309.10" width="0.9" height="7.91" fill="#a2d4a2"/>
<rect x="387.85" y="313.28" width="0.9" height="3.72" fill="#a2d4a2"/>
<rect x="383.05" y="309.10" width="0.9" height="7.91" fill="#a2d4a2"/>
<path d="M369.7,318.0L369.7,313.1L370.9,313.1L370.9,313.3L372.1,313.3L372.1,313.4L372.7,313.4L372.7,312.9L373.3,312.9L373.3,299.6L373.9,299.6L373.9,300.1L374.5,300.1L374.5,290.9L375.7,290.9L375.7,281.5L376.3,281.5L376.3,282.0L376.9,282.0L376.9,282.4L377.5,282.4L377.5,285.7L378.1,285.7L378.1,283.1L378.7,283.1L378.7,290.0L379.3,290.0L379.3,292.7L379.9,292.7L379.9,302.3L380.5,302.3L380.5,298.9L381.1,298.9L381.1,303.9L381.7,303.9L381.7,310.4L382.3,310.4L382.3,306.7L382.9,306.7L382.9,308.6L383.5,308.6L383.5,311.1L384.1,311.1L384.1,318.0Z" fill="#4c9e4c" stroke="#106e10" stroke-width="0.8" stroke-linejoin="miter"/>
</g></svg>
<line x1="366.5" y1="270" x2="366.5" y2="318" stroke="#333" stroke-width="1.1"/>
<rect x="323.5" y="270.5" width="82" height="47" fill="none" stroke="#333" stroke-width="1.1"/>
<rect x="431" y="270" width="2" height="47" fill="#b8b8b8"/>
<line x1="430" y1="317.5" x2="433" y2="317.5" stroke="#666" stroke-width="0.7"/>
<line x1="430" y1="310.5" x2="433" y2="310.5" stroke="#666" stroke-width="0.7"/>
<line x1="430" y1="303.5" x2="433" y2="303.5" stroke="#666" stroke-width="0.7"/>
<line x1="430" y1="296.5" x2="433" y2="296.5" stroke="#666" stroke-width="0.7"/>
<line x1="430" y1="289.5" x2="433" y2="289.5" stroke="#666" stroke-width="0.7"/>
<line x1="430" y1="282.5" x2="433" y2="282.5" stroke="#666" stroke-width="0.7"/>
<line x1="430" y1="275.5" x2="433" y2="275.5" stroke="#666" stroke-width="0.7"/>
<line x1="433.40" y1="317" x2="433.40" y2="320.0" stroke="#333" stroke-width="0.75"/>
<line x1="436.75" y1="317" x2="436.75" y2="320.0" stroke="#333" stroke-width="0.75"/>
<line x1="440.51" y1="317" x2="440.51" y2="320.0" stroke="#333" stroke-width="0.75"/>
<line x1="443.47" y1="317" x2="443.47" y2="320.0" stroke="#333" stroke-width="0.75"/>
<line x1="445.54" y1="317" x2="445.54" y2="320.0" stroke="#333" stroke-width="0.75"/>
<line x1="448.01" y1="317" x2="448.01" y2="320.6" stroke="#333" stroke-width="0.75"/>
<line x1="453.90" y1="317" x2="453.90" y2="320.0" stroke="#333" stroke-width="0.75"/>
<line x1="457.34" y1="317" x2="457.34" y2="320.0" stroke="#333" stroke-width="0.75"/>
<line x1="459.79" y1="317" x2="459.79" y2="320.0" stroke="#333" stroke-width="0.75"/>
<line x1="461.68" y1="317" x2="461.68" y2="320.0" stroke="#333" stroke-width="0.75"/>
<line x1="463.23" y1="317" x2="463.23" y2="320.0" stroke="#333" stroke-width="0.75"/>
<line x1="464.54" y1="317" x2="464.54" y2="320.0" stroke="#333" stroke-width="0.75"/>
<line x1="465.67" y1="317" x2="465.67" y2="320.0" stroke="#333" stroke-width="0.75"/>
<line x1="466.67" y1="317" x2="466.67" y2="320.0" stroke="#333" stroke-width="0.75"/>
<line x1="468.06" y1="317" x2="468.06" y2="320.6" stroke="#333" stroke-width="0.75"/>
<line x1="473.95" y1="317" x2="473.95" y2="320.0" stroke="#333" stroke-width="0.75"/>
<line x1="477.39" y1="317" x2="477.39" y2="320.0" stroke="#333" stroke-width="0.75"/>
<line x1="479.84" y1="317" x2="479.84" y2="320.0" stroke="#333" stroke-width="0.75"/>
<line x1="481.73" y1="317" x2="481.73" y2="320.0" stroke="#333" stroke-width="0.75"/>
<line x1="483.28" y1="317" x2="483.28" y2="320.0" stroke="#333" stroke-width="0.75"/>
<line x1="484.59" y1="317" x2="484.59" y2="320.0" stroke="#333" stroke-width="0.75"/>
<line x1="485.72" y1="317" x2="485.72" y2="320.0" stroke="#333" stroke-width="0.75"/>
<line x1="486.72" y1="317" x2="486.72" y2="320.0" stroke="#333" stroke-width="0.75"/>
<line x1="487.32" y1="317" x2="487.32" y2="320.6" stroke="#333" stroke-width="0.75"/>
<line x1="493.21" y1="317" x2="493.21" y2="320.0" stroke="#333" stroke-width="0.75"/>
<line x1="496.65" y1="317" x2="496.65" y2="320.0" stroke="#333" stroke-width="0.75"/>
<line x1="499.09" y1="317" x2="499.09" y2="320.0" stroke="#333" stroke-width="0.75"/>
<line x1="500.99" y1="317" x2="500.99" y2="320.0" stroke="#333" stroke-width="0.75"/>
<line x1="502.54" y1="317" x2="502.54" y2="320.0" stroke="#333" stroke-width="0.75"/>
<line x1="503.85" y1="317" x2="503.85" y2="320.0" stroke="#333" stroke-width="0.75"/>
<line x1="504.98" y1="317" x2="504.98" y2="320.0" stroke="#333" stroke-width="0.75"/>
<line x1="505.98" y1="317" x2="505.98" y2="320.0" stroke="#333" stroke-width="0.75"/>
<line x1="506.58" y1="317" x2="506.58" y2="320.6" stroke="#333" stroke-width="0.75"/>
<line x1="512.47" y1="317" x2="512.47" y2="320.0" stroke="#333" stroke-width="0.75"/>
<line x1="512.51" y1="317" x2="512.51" y2="320.0" stroke="#333" stroke-width="0.75"/>
<svg x="0" y="0" width="520" height="644"><defs><clipPath id="cp43"><rect x="433" y="270" width="81" height="48"/></clipPath></defs><g clip-path="url(#cp43)">
<rect x="458.55" y="311.42" width="0.9" height="5.58" fill="#a2d4a2"/>
<rect x="461.55" y="311.42" width="0.9" height="5.58" fill="#a2d4a2"/>
<rect x="464.55" y="300.73" width="0.9" height="16.27" fill="#a2d4a2"/>
<rect x="468.55" y="306.77" width="0.9" height="10.23" fill="#a2d4a2"/>
<rect x="470.55" y="298.40" width="0.9" height="18.60" fill="#a2d4a2"/>
<rect x="473.55" y="289.10" width="0.9" height="27.90" fill="#a2d4a2"/>
<rect x="475.55" y="303.05" width="0.9" height="13.95" fill="#a2d4a2"/>
<rect x="477.55" y="296.07" width="0.9" height="20.93" fill="#a2d4a2"/>
<rect x="479.55" y="291.43" width="0.9" height="25.58" fill="#a2d4a2"/>
<rect x="480.55" y="288.17" width="0.9" height="28.83" fill="#a2d4a2"/>
<rect x="481.95" y="270.50" width="0.9" height="46.50" fill="#a2d4a2"/>
<rect x="483.05" y="288.17" width="0.9" height="28.83" fill="#a2d4a2"/>
<rect x="484.55" y="291.43" width="0.9" height="25.58" fill="#a2d4a2"/>
<rect x="486.55" y="293.75" width="0.9" height="23.25" fill="#a2d4a2"/>
<rect x="488.55" y="296.07" width="0.9" height="20.93" fill="#a2d4a2"/>
<rect x="490.05" y="300.73" width="0.9" height="16.27" fill="#a2d4a2"/>
<rect x="492.55" y="307.70" width="0.9" height="9.30" fill="#a2d4a2"/>
<rect x="494.55" y="303.98" width="0.9" height="13.02" fill="#a2d4a2"/>
<rect x="497.05" y="310.02" width="0.9" height="6.97" fill="#a2d4a2"/>
<rect x="456" y="312.4" width="1" height="4.7" fill="#4c9e4c"/>
<rect x="457" y="312.4" width="1" height="4.7" fill="#4c9e4c"/>
<rect x="458" y="307.7" width="1" height="9.3" fill="#4c9e4c"/>
<rect x="459" y="303.1" width="1" height="13.9" fill="#106e10"/>
<rect x="460" y="303.1" width="1" height="13.9" fill="#106e10"/>
<rect x="461" y="307.7" width="1" height="9.3" fill="#4c9e4c"/>
<rect x="462" y="303.1" width="1" height="13.9" fill="#4c9e4c"/>
<rect x="463" y="303.1" width="1" height="13.9" fill="#106e10"/>
<rect x="464" y="312.4" width="1" height="4.7" fill="#4c9e4c"/>
<rect x="465" y="303.1" width="1" height="13.9" fill="#4c9e4c"/>
<rect x="466" y="312.4" width="1" height="4.7" fill="#106e10"/>
<rect x="467" y="312.4" width="1" height="4.7" fill="#106e10"/>
<rect x="468" y="298.4" width="1" height="18.6" fill="#4c9e4c"/>
<rect x="469" y="307.7" width="1" height="9.3" fill="#106e10"/>
<rect x="470" y="312.4" width="1" height="4.7" fill="#106e10"/>
<rect x="471" y="312.4" width="1" height="4.7" fill="#106e10"/>
<rect x="472" y="307.7" width="1" height="9.3" fill="#4c9e4c"/>
<rect x="473" y="293.8" width="1" height="23.2" fill="#106e10"/>
<rect x="474" y="312.4" width="1" height="4.7" fill="#4c9e4c"/>
<rect x="475" y="312.4" width="1" height="4.7" fill="#106e10"/>
<rect x="476" y="298.4" width="1" height="18.6" fill="#4c9e4c"/>
<rect x="477" y="307.7" width="1" height="9.3" fill="#4c9e4c"/>
<rect x="478" y="293.8" width="1" height="23.2" fill="#106e10"/>
<rect x="479" y="293.8" width="1" height="23.2" fill="#106e10"/>
<rect x="480" y="298.4" width="1" height="18.6" fill="#4c9e4c"/>
<rect x="481" y="293.8" width="1" height="23.2" fill="#4c9e4c"/>
<rect x="482" y="303.1" width="1" height="13.9" fill="#106e10"/>
<rect x="483" y="303.1" width="1" height="13.9" fill="#106e10"/>
<rect x="484" y="289.1" width="1" height="27.9" fill="#4c9e4c"/>
<rect x="485" y="298.4" width="1" height="18.6" fill="#4c9e4c"/>
<rect x="486" y="289.1" width="1" height="27.9" fill="#4c9e4c"/>
<rect x="487" y="293.8" width="1" height="23.2" fill="#4c9e4c"/>
<rect x="488" y="293.8" width="1" height="23.2" fill="#106e10"/>
<rect x="489" y="298.4" width="1" height="18.6" fill="#106e10"/>
<rect x="490" y="303.1" width="1" height="13.9" fill="#106e10"/>
<rect x="491" y="303.1" width="1" height="13.9" fill="#106e10"/>
<rect x="492" y="303.1" width="1" height="13.9" fill="#4c9e4c"/>
<rect x="493" y="293.8" width="1" height="23.2" fill="#4c9e4c"/>
<rect x="494" y="312.4" width="1" height="4.7" fill="#106e10"/>
<rect x="495" y="303.1" width="1" height="13.9" fill="#106e10"/>
<rect x="496" y="298.4" width="1" height="18.6" fill="#106e10"/>
<rect x="497" y="307.7" width="1" height="9.3" fill="#4c9e4c"/>
</g></svg>
<line x1="467.5" y1="270" x2="467.5" y2="318" stroke="#333" stroke-width="1.1"/>
<rect x="433.5" y="270.5" width="80" height="47" fill="none" stroke="#333" stroke-width="1.1"/>
<rect x="53" y="330" width="2" height="48" fill="#b8b8b8"/>
<line x1="52" y1="378.5" x2="55" y2="378.5" stroke="#666" stroke-width="0.7"/>
<line x1="52" y1="371.5" x2="55" y2="371.5" stroke="#666" stroke-width="0.7"/>
<line x1="52" y1="364.5" x2="55" y2="364.5" stroke="#666" stroke-width="0.7"/>
<line x1="52" y1="357.5" x2="55" y2="357.5" stroke="#666" stroke-width="0.7"/>
<line x1="52" y1="350.5" x2="55" y2="350.5" stroke="#666" stroke-width="0.7"/>
<line x1="52" y1="343.5" x2="55" y2="343.5" stroke="#666" stroke-width="0.7"/>
<line x1="52" y1="336.5" x2="55" y2="336.5" stroke="#666" stroke-width="0.7"/>
<line x1="55.40" y1="378" x2="55.40" y2="381.0" stroke="#333" stroke-width="0.75"/>
<line x1="58.80" y1="378" x2="58.80" y2="381.0" stroke="#333" stroke-width="0.75"/>
<line x1="62.60" y1="378" x2="62.60" y2="381.0" stroke="#333" stroke-width="0.75"/>
<line x1="65.60" y1="378" x2="65.60" y2="381.0" stroke="#333" stroke-width="0.75"/>
<line x1="67.70" y1="378" x2="67.70" y2="381.0" stroke="#333" stroke-width="0.75"/>
<line x1="70.20" y1="378" x2="70.20" y2="381.6" stroke="#333" stroke-width="0.75"/>
<line x1="76.16" y1="378" x2="76.16" y2="381.0" stroke="#333" stroke-width="0.75"/>
<line x1="79.65" y1="378" x2="79.65" y2="381.0" stroke="#333" stroke-width="0.75"/>
<line x1="82.12" y1="378" x2="82.12" y2="381.0" stroke="#333" stroke-width="0.75"/>
<line x1="84.04" y1="378" x2="84.04" y2="381.0" stroke="#333" stroke-width="0.75"/>
<line x1="85.61" y1="378" x2="85.61" y2="381.0" stroke="#333" stroke-width="0.75"/>
<line x1="86.93" y1="378" x2="86.93" y2="381.0" stroke="#333" stroke-width="0.75"/>
<line x1="88.08" y1="378" x2="88.08" y2="381.0" stroke="#333" stroke-width="0.75"/>
<line x1="89.09" y1="378" x2="89.09" y2="381.0" stroke="#333" stroke-width="0.75"/>
<line x1="90.50" y1="378" x2="90.50" y2="381.6" stroke="#333" stroke-width="0.75"/>
<line x1="96.46" y1="378" x2="96.46" y2="381.0" stroke="#333" stroke-width="0.75"/>
<line x1="99.95" y1="378" x2="99.95" y2="381.0" stroke="#333" stroke-width="0.75"/>
<line x1="102.42" y1="378" x2="102.42" y2="381.0" stroke="#333" stroke-width="0.75"/>
<line x1="104.34" y1="378" x2="104.34" y2="381.0" stroke="#333" stroke-width="0.75"/>
<line x1="105.91" y1="378" x2="105.91" y2="381.0" stroke="#333" stroke-width="0.75"/>
<line x1="107.23" y1="378" x2="107.23" y2="381.0" stroke="#333" stroke-width="0.75"/>
<line x1="108.38" y1="378" x2="108.38" y2="381.0" stroke="#333" stroke-width="0.75"/>
<line x1="109.39" y1="378" x2="109.39" y2="381.0" stroke="#333" stroke-width="0.75"/>
<line x1="110.00" y1="378" x2="110.00" y2="381.6" stroke="#333" stroke-width="0.75"/>
<line x1="115.96" y1="378" x2="115.96" y2="381.0" stroke="#333" stroke-width="0.75"/>
<line x1="119.45" y1="378" x2="119.45" y2="381.0" stroke="#333" stroke-width="0.75"/>
<line x1="121.92" y1="378" x2="121.92" y2="381.0" stroke="#333" stroke-width="0.75"/>
<line x1="123.84" y1="378" x2="123.84" y2="381.0" stroke="#333" stroke-width="0.75"/>
<line x1="125.41" y1="378" x2="125.41" y2="381.0" stroke="#333" stroke-width="0.75"/>
<line x1="126.73" y1="378" x2="126.73" y2="381.0" stroke="#333" stroke-width="0.75"/>
<line x1="127.88" y1="378" x2="127.88" y2="381.0" stroke="#333" stroke-width="0.75"/>
<line x1="128.89" y1="378" x2="128.89" y2="381.0" stroke="#333" stroke-width="0.75"/>
<line x1="129.50" y1="378" x2="129.50" y2="381.6" stroke="#333" stroke-width="0.75"/>
<line x1="135.46" y1="378" x2="135.46" y2="381.0" stroke="#333" stroke-width="0.75"/>
<line x1="135.50" y1="378" x2="135.50" y2="381.0" stroke="#333" stroke-width="0.75"/>
<svg x="0" y="0" width="520" height="644"><defs><clipPath id="cp50"><rect x="55" y="330" width="82" height="49"/></clipPath></defs><g clip-path="url(#cp50)">
<path d="M94.0,379.0L94.0,377.7L94.5,377.7L94.5,376.6L95.0,376.6L95.0,375.4L95.5,375.4L95.5,374.3L96.0,374.3L96.0,373.5L96.5,373.5L96.5,372.3L97.0,372.3L97.0,370.9L97.5,370.9L97.5,367.8L98.0,367.8L98.0,365.1L98.5,365.1L98.5,362.1L99.0,362.1L99.0,358.7L99.5,358.7L99.5,356.1L100.0,356.1L100.0,352.4L100.5,352.4L100.5,348.4L101.0,348.4L101.0,343.4L101.5,343.4L101.5,336.4L102.0,336.4L102.0,333.5L102.5,333.5L102.5,330.5L103.5,330.5L103.5,332.1L104.0,332.1L104.0,336.2L104.5,336.2L104.5,338.2L105.0,338.2L105.0,343.6L105.5,343.6L105.5,348.2L106.0,348.2L106.0,353.1L106.5,353.1L106.5,358.0L107.0,358.0L107.0,364.2L107.5,364.2L107.5,369.1L108.0,369.1L108.0,372.6L108.5,372.6L108.5,374.4L109.0,374.4L109.0,376.3L109.5,376.3L109.5,379.0Z" fill="#ff6e48" stroke="#e83410" stroke-width="0.8" stroke-linejoin="miter"/>
</g></svg>
<line x1="89.5" y1="330" x2="89.5" y2="379" stroke="#333" stroke-width="1.1"/>
<rect x="55.5" y="330.5" width="81" height="48" fill="none" stroke="#333" stroke-width="1.1"/>
<rect x="162" y="330" width="2" height="48" fill="#b8b8b8"/>
<line x1="161" y1="378.5" x2="164" y2="378.5" stroke="#666" stroke-width="0.7"/>
<line x1="161" y1="371.5" x2="164" y2="371.5" stroke="#666" stroke-width="0.7"/>
<line x1="161" y1="364.5" x2="164" y2="364.5" stroke="#666" stroke-width="0.7"/>
<line x1="161" y1="357.5" x2="164" y2="357.5" stroke="#666" stroke-width="0.7"/>
<line x1="161" y1="350.5" x2="164" y2="350.5" stroke="#666" stroke-width="0.7"/>
<line x1="161" y1="343.5" x2="164" y2="343.5" stroke="#666" stroke-width="0.7"/>
<line x1="161" y1="336.5" x2="164" y2="336.5" stroke="#666" stroke-width="0.7"/>
<line x1="164.40" y1="378" x2="164.40" y2="381.0" stroke="#333" stroke-width="0.75"/>
<line x1="167.75" y1="378" x2="167.75" y2="381.0" stroke="#333" stroke-width="0.75"/>
<line x1="171.51" y1="378" x2="171.51" y2="381.0" stroke="#333" stroke-width="0.75"/>
<line x1="174.47" y1="378" x2="174.47" y2="381.0" stroke="#333" stroke-width="0.75"/>
<line x1="176.54" y1="378" x2="176.54" y2="381.0" stroke="#333" stroke-width="0.75"/>
<line x1="179.01" y1="378" x2="179.01" y2="381.6" stroke="#333" stroke-width="0.75"/>
<line x1="184.90" y1="378" x2="184.90" y2="381.0" stroke="#333" stroke-width="0.75"/>
<line x1="188.34" y1="378" x2="188.34" y2="381.0" stroke="#333" stroke-width="0.75"/>
<line x1="190.79" y1="378" x2="190.79" y2="381.0" stroke="#333" stroke-width="0.75"/>
<line x1="192.68" y1="378" x2="192.68" y2="381.0" stroke="#333" stroke-width="0.75"/>
<line x1="194.23" y1="378" x2="194.23" y2="381.0" stroke="#333" stroke-width="0.75"/>
<line x1="195.54" y1="378" x2="195.54" y2="381.0" stroke="#333" stroke-width="0.75"/>
<line x1="196.67" y1="378" x2="196.67" y2="381.0" stroke="#333" stroke-width="0.75"/>
<line x1="197.67" y1="378" x2="197.67" y2="381.0" stroke="#333" stroke-width="0.75"/>
<line x1="199.06" y1="378" x2="199.06" y2="381.6" stroke="#333" stroke-width="0.75"/>
<line x1="204.95" y1="378" x2="204.95" y2="381.0" stroke="#333" stroke-width="0.75"/>
<line x1="208.39" y1="378" x2="208.39" y2="381.0" stroke="#333" stroke-width="0.75"/>
<line x1="210.84" y1="378" x2="210.84" y2="381.0" stroke="#333" stroke-width="0.75"/>
<line x1="212.73" y1="378" x2="212.73" y2="381.0" stroke="#333" stroke-width="0.75"/>
<line x1="214.28" y1="378" x2="214.28" y2="381.0" stroke="#333" stroke-width="0.75"/>
<line x1="215.59" y1="378" x2="215.59" y2="381.0" stroke="#333" stroke-width="0.75"/>
<line x1="216.72" y1="378" x2="216.72" y2="381.0" stroke="#333" stroke-width="0.75"/>
<line x1="217.72" y1="378" x2="217.72" y2="381.0" stroke="#333" stroke-width="0.75"/>
<line x1="218.32" y1="378" x2="218.32" y2="381.6" stroke="#333" stroke-width="0.75"/>
<line x1="224.21" y1="378" x2="224.21" y2="381.0" stroke="#333" stroke-width="0.75"/>
<line x1="227.65" y1="378" x2="227.65" y2="381.0" stroke="#333" stroke-width="0.75"/>
<line x1="230.09" y1="378" x2="230.09" y2="381.0" stroke="#333" stroke-width="0.75"/>
<line x1="231.99" y1="378" x2="231.99" y2="381.0" stroke="#333" stroke-width="0.75"/>
<line x1="233.54" y1="378" x2="233.54" y2="381.0" stroke="#333" stroke-width="0.75"/>
<line x1="234.85" y1="378" x2="234.85" y2="381.0" stroke="#333" stroke-width="0.75"/>
<line x1="235.98" y1="378" x2="235.98" y2="381.0" stroke="#333" stroke-width="0.75"/>
<line x1="236.98" y1="378" x2="236.98" y2="381.0" stroke="#333" stroke-width="0.75"/>
<line x1="237.58" y1="378" x2="237.58" y2="381.6" stroke="#333" stroke-width="0.75"/>
<line x1="243.47" y1="378" x2="243.47" y2="381.0" stroke="#333" stroke-width="0.75"/>
<line x1="243.51" y1="378" x2="243.51" y2="381.0" stroke="#333" stroke-width="0.75"/>
<svg x="0" y="0" width="520" height="644"><defs><clipPath id="cp51"><rect x="164" y="330" width="81" height="49"/></clipPath></defs><g clip-path="url(#cp51)">
<path d="M182.5,379.0L182.5,375.3L183.0,375.3L183.0,368.7L183.5,368.7L183.5,369.2L184.0,369.2L184.0,373.7L184.5,373.7L184.5,375.8L185.0,375.8L185.0,377.6L185.5,377.6L185.5,376.6L186.0,376.6L186.0,376.5L186.5,376.5L186.5,374.0L187.0,374.0L187.0,374.8L187.5,374.8L187.5,374.7L188.0,374.7L188.0,374.4L188.5,374.4L188.5,374.0L189.0,374.0L189.0,375.2L189.5,375.2L189.5,373.7L190.0,373.7L190.0,372.3L190.5,372.3L190.5,371.6L191.0,371.6L191.0,368.3L191.5,368.3L191.5,369.6L192.0,369.6L192.0,370.0L192.5,370.0L192.5,373.8L193.0,373.8L193.0,371.4L193.5,371.4L193.5,365.8L194.0,365.8L194.0,365.6L194.5,365.6L194.5,355.2L195.0,355.2L195.0,358.8L195.5,358.8L195.5,364.5L196.0,364.5L196.0,356.7L196.5,356.7L196.5,357.8L197.0,357.8L197.0,362.4L197.5,362.4L197.5,364.9L198.0,364.9L198.0,363.9L198.5,363.9L198.5,363.4L199.0,363.4L199.0,348.6L199.5,348.6L199.5,343.6L200.0,343.6L200.0,357.6L200.5,357.6L200.5,351.3L201.0,351.3L201.0,365.9L201.5,365.9L201.5,360.9L202.0,360.9L202.0,345.8L202.5,345.8L202.5,352.9L203.0,352.9L203.0,343.5L203.5,343.5L203.5,334.6L204.0,334.6L204.0,333.1L204.5,333.1L204.5,334.5L205.0,334.5L205.0,338.4L205.5,338.4L205.5,342.2L206.0,342.2L206.0,348.4L206.5,348.4L206.5,330.5L207.0,330.5L207.0,343.5L207.5,343.5L207.5,353.8L208.0,353.8L208.0,349.6L208.5,349.6L208.5,347.2L209.0,347.2L209.0,353.4L209.5,353.4L209.5,357.8L210.0,357.8L210.0,359.1L210.5,359.1L210.5,360.9L211.0,360.9L211.0,352.2L211.5,352.2L211.5,354.5L212.0,354.5L212.0,358.8L212.5,358.8L212.5,356.5L213.0,356.5L213.0,357.4L213.5,357.4L213.5,349.9L214.0,349.9L214.0,351.4L214.5,351.4L214.5,357.6L215.0,357.6L215.0,366.8L215.5,366.8L215.5,370.1L216.0,370.1L216.0,366.7L216.5,366.7L216.5,371.4L217.0,371.4L217.0,373.4L217.5,373.4L217.5,373.2L218.0,373.2L218.0,374.6L218.5,374.6L218.5,376.3L219.0,376.3L219.0,376.8L219.5,376.8L219.5,376.4L220.0,376.4L220.0,375.6L220.5,375.6L220.5,375.1L221.0,375.1L221.0,373.9L221.5,373.9L221.5,376.5L222.0,376.5L222.0,379.0Z" fill="#ff6e48" stroke="#e83410" stroke-width="0.6" stroke-linejoin="miter"/>
</g></svg>
<line x1="198.5" y1="330" x2="198.5" y2="379" stroke="#333" stroke-width="1.1"/>
<rect x="164.5" y="330.5" width="80" height="48" fill="none" stroke="#333" stroke-width="1.1"/>
<rect x="321" y="330" width="2" height="48" fill="#b8b8b8"/>
<line x1="320" y1="378.5" x2="323" y2="378.5" stroke="#666" stroke-width="0.7"/>
<line x1="320" y1="371.5" x2="323" y2="371.5" stroke="#666" stroke-width="0.7"/>
<line x1="320" y1="364.5" x2="323" y2="364.5" stroke="#666" stroke-width="0.7"/>
<line x1="320" y1="357.5" x2="323" y2="357.5" stroke="#666" stroke-width="0.7"/>
<line x1="320" y1="350.5" x2="323" y2="350.5" stroke="#666" stroke-width="0.7"/>
<line x1="320" y1="343.5" x2="323" y2="343.5" stroke="#666" stroke-width="0.7"/>
<line x1="320" y1="336.5" x2="323" y2="336.5" stroke="#666" stroke-width="0.7"/>
<line x1="323.40" y1="378" x2="323.40" y2="381.0" stroke="#333" stroke-width="0.75"/>
<line x1="326.85" y1="378" x2="326.85" y2="381.0" stroke="#333" stroke-width="0.75"/>
<line x1="330.69" y1="378" x2="330.69" y2="381.0" stroke="#333" stroke-width="0.75"/>
<line x1="333.73" y1="378" x2="333.73" y2="381.0" stroke="#333" stroke-width="0.75"/>
<line x1="335.86" y1="378" x2="335.86" y2="381.0" stroke="#333" stroke-width="0.75"/>
<line x1="338.39" y1="378" x2="338.39" y2="381.6" stroke="#333" stroke-width="0.75"/>
<line x1="344.42" y1="378" x2="344.42" y2="381.0" stroke="#333" stroke-width="0.75"/>
<line x1="347.95" y1="378" x2="347.95" y2="381.0" stroke="#333" stroke-width="0.75"/>
<line x1="350.46" y1="378" x2="350.46" y2="381.0" stroke="#333" stroke-width="0.75"/>
<line x1="352.40" y1="378" x2="352.40" y2="381.0" stroke="#333" stroke-width="0.75"/>
<line x1="353.99" y1="378" x2="353.99" y2="381.0" stroke="#333" stroke-width="0.75"/>
<line x1="355.33" y1="378" x2="355.33" y2="381.0" stroke="#333" stroke-width="0.75"/>
<line x1="356.49" y1="378" x2="356.49" y2="381.0" stroke="#333" stroke-width="0.75"/>
<line x1="357.51" y1="378" x2="357.51" y2="381.0" stroke="#333" stroke-width="0.75"/>
<line x1="358.94" y1="378" x2="358.94" y2="381.6" stroke="#333" stroke-width="0.75"/>
<line x1="364.97" y1="378" x2="364.97" y2="381.0" stroke="#333" stroke-width="0.75"/>
<line x1="368.50" y1="378" x2="368.50" y2="381.0" stroke="#333" stroke-width="0.75"/>
<line x1="371.01" y1="378" x2="371.01" y2="381.0" stroke="#333" stroke-width="0.75"/>
<line x1="372.95" y1="378" x2="372.95" y2="381.0" stroke="#333" stroke-width="0.75"/>
<line x1="374.54" y1="378" x2="374.54" y2="381.0" stroke="#333" stroke-width="0.75"/>
<line x1="375.88" y1="378" x2="375.88" y2="381.0" stroke="#333" stroke-width="0.75"/>
<line x1="377.04" y1="378" x2="377.04" y2="381.0" stroke="#333" stroke-width="0.75"/>
<line x1="378.07" y1="378" x2="378.07" y2="381.0" stroke="#333" stroke-width="0.75"/>
<line x1="378.68" y1="378" x2="378.68" y2="381.6" stroke="#333" stroke-width="0.75"/>
<line x1="384.71" y1="378" x2="384.71" y2="381.0" stroke="#333" stroke-width="0.75"/>
<line x1="388.24" y1="378" x2="388.24" y2="381.0" stroke="#333" stroke-width="0.75"/>
<line x1="390.75" y1="378" x2="390.75" y2="381.0" stroke="#333" stroke-width="0.75"/>
<line x1="392.69" y1="378" x2="392.69" y2="381.0" stroke="#333" stroke-width="0.75"/>
<line x1="394.28" y1="378" x2="394.28" y2="381.0" stroke="#333" stroke-width="0.75"/>
<line x1="395.62" y1="378" x2="395.62" y2="381.0" stroke="#333" stroke-width="0.75"/>
<line x1="396.78" y1="378" x2="396.78" y2="381.0" stroke="#333" stroke-width="0.75"/>
<line x1="397.81" y1="378" x2="397.81" y2="381.0" stroke="#333" stroke-width="0.75"/>
<line x1="398.42" y1="378" x2="398.42" y2="381.6" stroke="#333" stroke-width="0.75"/>
<line x1="404.45" y1="378" x2="404.45" y2="381.0" stroke="#333" stroke-width="0.75"/>
<line x1="404.49" y1="378" x2="404.49" y2="381.0" stroke="#333" stroke-width="0.75"/>
<svg x="0" y="0" width="520" height="644"><defs><clipPath id="cp52"><rect x="323" y="330" width="83" height="49"/></clipPath></defs><g clip-path="url(#cp52)">
<path d="M366.5,379.0L366.5,376.7L367.0,376.7L367.0,376.5L367.5,376.5L367.5,378.0L368.0,378.0L368.0,377.8L368.5,377.8L368.5,377.7L369.0,377.7L369.0,377.6L369.5,377.6L369.5,377.3L370.0,377.3L370.0,377.4L370.5,377.4L370.5,377.3L371.0,377.3L371.0,376.3L371.5,376.3L371.5,371.6L372.0,371.6L372.0,366.3L372.5,366.3L372.5,358.0L373.0,358.0L373.0,359.9L373.5,359.9L373.5,347.1L374.0,347.1L374.0,348.1L374.5,348.1L374.5,350.1L375.0,350.1L375.0,330.5L375.5,330.5L375.5,334.7L376.0,334.7L376.0,346.1L376.5,346.1L376.5,332.4L377.0,332.4L377.0,335.1L377.5,335.1L377.5,336.8L378.0,336.8L378.0,339.3L378.5,339.3L378.5,330.5L379.0,330.5L379.0,343.4L379.5,343.4L379.5,330.5L380.0,330.5L380.0,344.8L380.5,344.8L380.5,356.7L381.0,356.7L381.0,356.1L381.5,356.1L381.5,361.1L382.0,361.1L382.0,349.1L382.5,349.1L382.5,341.8L383.0,341.8L383.0,344.6L383.5,344.6L383.5,351.5L384.0,351.5L384.0,347.0L384.5,347.0L384.5,352.6L385.0,352.6L385.0,351.4L385.5,351.4L385.5,352.4L386.0,352.4L386.0,354.7L386.5,354.7L386.5,358.2L387.0,358.2L387.0,365.0L387.5,365.0L387.5,365.3L388.0,365.3L388.0,370.1L388.5,370.1L388.5,368.2L389.0,368.2L389.0,372.4L389.5,372.4L389.5,371.1L390.0,371.1L390.0,374.7L390.5,374.7L390.5,374.5L391.0,374.5L391.0,376.3L391.5,376.3L391.5,377.4L392.0,377.4L392.0,379.0Z" fill="#ff6e48" stroke="#e83410" stroke-width="0.6" stroke-linejoin="miter"/>
</g></svg>
<line x1="366.5" y1="330" x2="366.5" y2="379" stroke="#333" stroke-width="1.1"/>
<rect x="323.5" y="330.5" width="82" height="48" fill="none" stroke="#333" stroke-width="1.1"/>
<rect x="431" y="330" width="2" height="48" fill="#b8b8b8"/>
<line x1="430" y1="378.5" x2="433" y2="378.5" stroke="#666" stroke-width="0.7"/>
<line x1="430" y1="371.5" x2="433" y2="371.5" stroke="#666" stroke-width="0.7"/>
<line x1="430" y1="364.5" x2="433" y2="364.5" stroke="#666" stroke-width="0.7"/>
<line x1="430" y1="357.5" x2="433" y2="357.5" stroke="#666" stroke-width="0.7"/>
<line x1="430" y1="350.5" x2="433" y2="350.5" stroke="#666" stroke-width="0.7"/>
<line x1="430" y1="343.5" x2="433" y2="343.5" stroke="#666" stroke-width="0.7"/>
<line x1="430" y1="336.5" x2="433" y2="336.5" stroke="#666" stroke-width="0.7"/>
<line x1="433.40" y1="378" x2="433.40" y2="381.0" stroke="#333" stroke-width="0.75"/>
<line x1="436.75" y1="378" x2="436.75" y2="381.0" stroke="#333" stroke-width="0.75"/>
<line x1="440.51" y1="378" x2="440.51" y2="381.0" stroke="#333" stroke-width="0.75"/>
<line x1="443.47" y1="378" x2="443.47" y2="381.0" stroke="#333" stroke-width="0.75"/>
<line x1="445.54" y1="378" x2="445.54" y2="381.0" stroke="#333" stroke-width="0.75"/>
<line x1="448.01" y1="378" x2="448.01" y2="381.6" stroke="#333" stroke-width="0.75"/>
<line x1="453.90" y1="378" x2="453.90" y2="381.0" stroke="#333" stroke-width="0.75"/>
<line x1="457.34" y1="378" x2="457.34" y2="381.0" stroke="#333" stroke-width="0.75"/>
<line x1="459.79" y1="378" x2="459.79" y2="381.0" stroke="#333" stroke-width="0.75"/>
<line x1="461.68" y1="378" x2="461.68" y2="381.0" stroke="#333" stroke-width="0.75"/>
<line x1="463.23" y1="378" x2="463.23" y2="381.0" stroke="#333" stroke-width="0.75"/>
<line x1="464.54" y1="378" x2="464.54" y2="381.0" stroke="#333" stroke-width="0.75"/>
<line x1="465.67" y1="378" x2="465.67" y2="381.0" stroke="#333" stroke-width="0.75"/>
<line x1="466.67" y1="378" x2="466.67" y2="381.0" stroke="#333" stroke-width="0.75"/>
<line x1="468.06" y1="378" x2="468.06" y2="381.6" stroke="#333" stroke-width="0.75"/>
<line x1="473.95" y1="378" x2="473.95" y2="381.0" stroke="#333" stroke-width="0.75"/>
<line x1="477.39" y1="378" x2="477.39" y2="381.0" stroke="#333" stroke-width="0.75"/>
<line x1="479.84" y1="378" x2="479.84" y2="381.0" stroke="#333" stroke-width="0.75"/>
<line x1="481.73" y1="378" x2="481.73" y2="381.0" stroke="#333" stroke-width="0.75"/>
<line x1="483.28" y1="378" x2="483.28" y2="381.0" stroke="#333" stroke-width="0.75"/>
<line x1="484.59" y1="378" x2="484.59" y2="381.0" stroke="#333" stroke-width="0.75"/>
<line x1="485.72" y1="378" x2="485.72" y2="381.0" stroke="#333" stroke-width="0.75"/>
<line x1="486.72" y1="378" x2="486.72" y2="381.0" stroke="#333" stroke-width="0.75"/>
<line x1="487.32" y1="378" x2="487.32" y2="381.6" stroke="#333" stroke-width="0.75"/>
<line x1="493.21" y1="378" x2="493.21" y2="381.0" stroke="#333" stroke-width="0.75"/>
<line x1="496.65" y1="378" x2="496.65" y2="381.0" stroke="#333" stroke-width="0.75"/>
<line x1="499.09" y1="378" x2="499.09" y2="381.0" stroke="#333" stroke-width="0.75"/>
<line x1="500.99" y1="378" x2="500.99" y2="381.0" stroke="#333" stroke-width="0.75"/>
<line x1="502.54" y1="378" x2="502.54" y2="381.0" stroke="#333" stroke-width="0.75"/>
<line x1="503.85" y1="378" x2="503.85" y2="381.0" stroke="#333" stroke-width="0.75"/>
<line x1="504.98" y1="378" x2="504.98" y2="381.0" stroke="#333" stroke-width="0.75"/>
<line x1="505.98" y1="378" x2="505.98" y2="381.0" stroke="#333" stroke-width="0.75"/>
<line x1="506.58" y1="378" x2="506.58" y2="381.6" stroke="#333" stroke-width="0.75"/>
<line x1="512.47" y1="378" x2="512.47" y2="381.0" stroke="#333" stroke-width="0.75"/>
<line x1="512.51" y1="378" x2="512.51" y2="381.0" stroke="#333" stroke-width="0.75"/>
<svg x="0" y="0" width="520" height="644"><defs><clipPath id="cp53"><rect x="433" y="330" width="81" height="49"/></clipPath></defs><g clip-path="url(#cp53)">
<rect x="462.05" y="340.95" width="0.9" height="37.05" fill="#ffab95"/>
<rect x="464.05" y="340.95" width="0.9" height="37.05" fill="#ffab95"/>
<rect x="477.15" y="330.50" width="0.9" height="47.50" fill="#ffab95"/>
<rect x="488.75" y="340.95" width="0.9" height="37.05" fill="#ffab95"/>
<rect x="489.75" y="340.95" width="0.9" height="37.05" fill="#ffab95"/>
<rect x="490.85" y="330.50" width="0.9" height="47.50" fill="#ffab95"/>
<rect x="469.55" y="350.45" width="0.9" height="27.55" fill="#ffab95"/>
<rect x="457.55" y="359.95" width="0.9" height="18.05" fill="#ffab95"/>
<rect x="447" y="368.5" width="1" height="9.5" fill="#ff6e48"/>
<rect x="448" y="368.5" width="1" height="9.5" fill="#ff6e48"/>
<rect x="449" y="359.0" width="1" height="19.0" fill="#ff6e48"/>
<rect x="450" y="368.5" width="1" height="9.5" fill="#e83410"/>
<rect x="451" y="359.0" width="1" height="19.0" fill="#e83410"/>
<rect x="452" y="368.5" width="1" height="9.5" fill="#e83410"/>
<rect x="453" y="359.0" width="1" height="19.0" fill="#ff6e48"/>
<rect x="454" y="359.0" width="1" height="19.0" fill="#e83410"/>
<rect x="455" y="359.0" width="1" height="19.0" fill="#ff6e48"/>
<rect x="456" y="368.5" width="1" height="9.5" fill="#e83410"/>
<rect x="457" y="368.5" width="1" height="9.5" fill="#e83410"/>
<rect x="458" y="359.0" width="1" height="19.0" fill="#e83410"/>
<rect x="459" y="349.5" width="1" height="28.5" fill="#e83410"/>
<rect x="460" y="368.5" width="1" height="9.5" fill="#e83410"/>
<rect x="461" y="368.5" width="1" height="9.5" fill="#e83410"/>
<rect x="462" y="368.5" width="1" height="9.5" fill="#ff6e48"/>
<rect x="463" y="359.0" width="1" height="19.0" fill="#e83410"/>
<rect x="464" y="359.0" width="1" height="19.0" fill="#ff6e48"/>
<rect x="465" y="349.5" width="1" height="28.5" fill="#e83410"/>
<rect x="466" y="359.0" width="1" height="19.0" fill="#e83410"/>
<rect x="467" y="349.5" width="1" height="28.5" fill="#e83410"/>
<rect x="468" y="359.0" width="1" height="19.0" fill="#ff6e48"/>
<rect x="469" y="349.5" width="1" height="28.5" fill="#e83410"/>
<rect x="470" y="349.5" width="1" height="28.5" fill="#e83410"/>
<rect x="471" y="349.5" width="1" height="28.5" fill="#e83410"/>
<rect x="472" y="359.0" width="1" height="19.0" fill="#ff6e48"/>
<rect x="473" y="359.0" width="1" height="19.0" fill="#e83410"/>
<rect x="474" y="359.0" width="1" height="19.0" fill="#ff6e48"/>
<rect x="475" y="368.5" width="1" height="9.5" fill="#e83410"/>
<rect x="476" y="368.5" width="1" height="9.5" fill="#ff6e48"/>
<rect x="477" y="359.0" width="1" height="19.0" fill="#e83410"/>
<rect x="478" y="359.0" width="1" height="19.0" fill="#e83410"/>
<rect x="479" y="368.5" width="1" height="9.5" fill="#ff6e48"/>
<rect x="480" y="368.5" width="1" height="9.5" fill="#e83410"/>
<rect x="481" y="368.5" width="1" height="9.5" fill="#ff6e48"/>
<rect x="482" y="359.0" width="1" height="19.0" fill="#e83410"/>
<rect x="483" y="368.5" width="1" height="9.5" fill="#e83410"/>
<rect x="484" y="349.5" width="1" height="28.5" fill="#e83410"/>
<rect x="485" y="368.5" width="1" height="9.5" fill="#e83410"/>
<rect x="486" y="368.5" width="1" height="9.5" fill="#e83410"/>
<rect x="487" y="359.0" width="1" height="19.0" fill="#ff6e48"/>
<rect x="488" y="368.5" width="1" height="9.5" fill="#e83410"/>
<rect x="489" y="349.5" width="1" height="28.5" fill="#e83410"/>
<rect x="490" y="368.5" width="1" height="9.5" fill="#e83410"/>
<rect x="491" y="349.5" width="1" height="28.5" fill="#ff6e48"/>
<rect x="492" y="368.5" width="1" height="9.5" fill="#ff6e48"/>
<rect x="493" y="368.5" width="1" height="9.5" fill="#e83410"/>
<rect x="494" y="359.0" width="1" height="19.0" fill="#e83410"/>
<rect x="495" y="359.0" width="1" height="19.0" fill="#e83410"/>
<rect x="496" y="368.5" width="1" height="9.5" fill="#e83410"/>
<rect x="497" y="359.0" width="1" height="19.0" fill="#e83410"/>
<rect x="498" y="359.0" width="1" height="19.0" fill="#ff6e48"/>
<rect x="499" y="359.0" width="1" height="19.0" fill="#ff6e48"/>
<rect x="500" y="368.5" width="1" height="9.5" fill="#e83410"/>
<rect x="501" y="368.5" width="1" height="9.5" fill="#ff6e48"/>
<rect x="502" y="368.5" width="1" height="9.5" fill="#ff6e48"/>
</g></svg>
<line x1="474.5" y1="330" x2="474.5" y2="379" stroke="#333" stroke-width="1.1"/>
<rect x="433.5" y="330.5" width="80" height="48" fill="none" stroke="#333" stroke-width="1.1"/>
<rect x="53" y="390" width="2" height="48" fill="#b8b8b8"/>
<line x1="52" y1="438.5" x2="55" y2="438.5" stroke="#666" stroke-width="0.7"/>
<line x1="52" y1="431.5" x2="55" y2="431.5" stroke="#666" stroke-width="0.7"/>
<line x1="52" y1="424.5" x2="55" y2="424.5" stroke="#666" stroke-width="0.7"/>
<line x1="52" y1="417.5" x2="55" y2="417.5" stroke="#666" stroke-width="0.7"/>
<line x1="52" y1="410.5" x2="55" y2="410.5" stroke="#666" stroke-width="0.7"/>
<line x1="52" y1="403.5" x2="55" y2="403.5" stroke="#666" stroke-width="0.7"/>
<line x1="52" y1="396.5" x2="55" y2="396.5" stroke="#666" stroke-width="0.7"/>
<line x1="55.40" y1="438" x2="55.40" y2="441.0" stroke="#333" stroke-width="0.75"/>
<line x1="58.80" y1="438" x2="58.80" y2="441.0" stroke="#333" stroke-width="0.75"/>
<line x1="62.60" y1="438" x2="62.60" y2="441.0" stroke="#333" stroke-width="0.75"/>
<line x1="65.60" y1="438" x2="65.60" y2="441.0" stroke="#333" stroke-width="0.75"/>
<line x1="67.70" y1="438" x2="67.70" y2="441.0" stroke="#333" stroke-width="0.75"/>
<line x1="70.20" y1="438" x2="70.20" y2="441.6" stroke="#333" stroke-width="0.75"/>
<line x1="76.16" y1="438" x2="76.16" y2="441.0" stroke="#333" stroke-width="0.75"/>
<line x1="79.65" y1="438" x2="79.65" y2="441.0" stroke="#333" stroke-width="0.75"/>
<line x1="82.12" y1="438" x2="82.12" y2="441.0" stroke="#333" stroke-width="0.75"/>
<line x1="84.04" y1="438" x2="84.04" y2="441.0" stroke="#333" stroke-width="0.75"/>
<line x1="85.61" y1="438" x2="85.61" y2="441.0" stroke="#333" stroke-width="0.75"/>
<line x1="86.93" y1="438" x2="86.93" y2="441.0" stroke="#333" stroke-width="0.75"/>
<line x1="88.08" y1="438" x2="88.08" y2="441.0" stroke="#333" stroke-width="0.75"/>
<line x1="89.09" y1="438" x2="89.09" y2="441.0" stroke="#333" stroke-width="0.75"/>
<line x1="90.50" y1="438" x2="90.50" y2="441.6" stroke="#333" stroke-width="0.75"/>
<line x1="96.46" y1="438" x2="96.46" y2="441.0" stroke="#333" stroke-width="0.75"/>
<line x1="99.95" y1="438" x2="99.95" y2="441.0" stroke="#333" stroke-width="0.75"/>
<line x1="102.42" y1="438" x2="102.42" y2="441.0" stroke="#333" stroke-width="0.75"/>
<line x1="104.34" y1="438" x2="104.34" y2="441.0" stroke="#333" stroke-width="0.75"/>
<line x1="105.91" y1="438" x2="105.91" y2="441.0" stroke="#333" stroke-width="0.75"/>
<line x1="107.23" y1="438" x2="107.23" y2="441.0" stroke="#333" stroke-width="0.75"/>
<line x1="108.38" y1="438" x2="108.38" y2="441.0" stroke="#333" stroke-width="0.75"/>
<line x1="109.39" y1="438" x2="109.39" y2="441.0" stroke="#333" stroke-width="0.75"/>
<line x1="110.00" y1="438" x2="110.00" y2="441.6" stroke="#333" stroke-width="0.75"/>
<line x1="115.96" y1="438" x2="115.96" y2="441.0" stroke="#333" stroke-width="0.75"/>
<line x1="119.45" y1="438" x2="119.45" y2="441.0" stroke="#333" stroke-width="0.75"/>
<line x1="121.92" y1="438" x2="121.92" y2="441.0" stroke="#333" stroke-width="0.75"/>
<line x1="123.84" y1="438" x2="123.84" y2="441.0" stroke="#333" stroke-width="0.75"/>
<line x1="125.41" y1="438" x2="125.41" y2="441.0" stroke="#333" stroke-width="0.75"/>
<line x1="126.73" y1="438" x2="126.73" y2="441.0" stroke="#333" stroke-width="0.75"/>
<line x1="127.88" y1="438" x2="127.88" y2="441.0" stroke="#333" stroke-width="0.75"/>
<line x1="128.89" y1="438" x2="128.89" y2="441.0" stroke="#333" stroke-width="0.75"/>
<line x1="129.50" y1="438" x2="129.50" y2="441.6" stroke="#333" stroke-width="0.75"/>
<line x1="135.46" y1="438" x2="135.46" y2="441.0" stroke="#333" stroke-width="0.75"/>
<line x1="135.50" y1="438" x2="135.50" y2="441.0" stroke="#333" stroke-width="0.75"/>
<svg x="0" y="0" width="520" height="644"><defs><clipPath id="cp60"><rect x="55" y="390" width="82" height="49"/></clipPath></defs><g clip-path="url(#cp60)">
<path d="M91.5,439.0L91.5,437.3L92.0,437.3L92.0,435.9L92.5,435.9L92.5,434.6L93.0,434.6L93.0,433.3L93.5,433.3L93.5,431.4L94.0,431.4L94.0,427.5L94.5,427.5L94.5,423.5L95.0,423.5L95.0,419.5L95.5,419.5L95.5,416.2L96.0,416.2L96.0,412.5L96.5,412.5L96.5,407.9L97.0,407.9L97.0,404.6L97.5,404.6L97.5,400.4L98.0,400.4L98.0,398.7L98.5,398.7L98.5,395.6L99.0,395.6L99.0,392.7L99.5,392.7L99.5,395.5L100.0,395.5L100.0,396.7L100.5,396.7L100.5,399.4L101.0,399.4L101.0,404.4L101.5,404.4L101.5,408.1L102.0,408.1L102.0,411.3L102.5,411.3L102.5,414.7L103.0,414.7L103.0,419.9L103.5,419.9L103.5,424.9L104.0,424.9L104.0,429.7L104.5,429.7L104.5,433.1L105.0,433.1L105.0,434.8L105.5,434.8L105.5,436.5L106.0,436.5L106.0,439.0Z" fill="#888888" stroke="#404040" stroke-width="0.8" stroke-linejoin="miter"/>
</g></svg>
<line x1="89.5" y1="390" x2="89.5" y2="439" stroke="#333" stroke-width="1.1"/>
<rect x="55.5" y="390.5" width="81" height="48" fill="none" stroke="#333" stroke-width="1.1"/>
<rect x="162" y="390" width="2" height="48" fill="#b8b8b8"/>
<line x1="161" y1="438.5" x2="164" y2="438.5" stroke="#666" stroke-width="0.7"/>
<line x1="161" y1="431.5" x2="164" y2="431.5" stroke="#666" stroke-width="0.7"/>
<line x1="161" y1="424.5" x2="164" y2="424.5" stroke="#666" stroke-width="0.7"/>
<line x1="161" y1="417.5" x2="164" y2="417.5" stroke="#666" stroke-width="0.7"/>
<line x1="161" y1="410.5" x2="164" y2="410.5" stroke="#666" stroke-width="0.7"/>
<line x1="161" y1="403.5" x2="164" y2="403.5" stroke="#666" stroke-width="0.7"/>
<line x1="161" y1="396.5" x2="164" y2="396.5" stroke="#666" stroke-width="0.7"/>
<line x1="164.40" y1="438" x2="164.40" y2="441.0" stroke="#333" stroke-width="0.75"/>
<line x1="167.75" y1="438" x2="167.75" y2="441.0" stroke="#333" stroke-width="0.75"/>
<line x1="171.51" y1="438" x2="171.51" y2="441.0" stroke="#333" stroke-width="0.75"/>
<line x1="174.47" y1="438" x2="174.47" y2="441.0" stroke="#333" stroke-width="0.75"/>
<line x1="176.54" y1="438" x2="176.54" y2="441.0" stroke="#333" stroke-width="0.75"/>
<line x1="179.01" y1="438" x2="179.01" y2="441.6" stroke="#333" stroke-width="0.75"/>
<line x1="184.90" y1="438" x2="184.90" y2="441.0" stroke="#333" stroke-width="0.75"/>
<line x1="188.34" y1="438" x2="188.34" y2="441.0" stroke="#333" stroke-width="0.75"/>
<line x1="190.79" y1="438" x2="190.79" y2="441.0" stroke="#333" stroke-width="0.75"/>
<line x1="192.68" y1="438" x2="192.68" y2="441.0" stroke="#333" stroke-width="0.75"/>
<line x1="194.23" y1="438" x2="194.23" y2="441.0" stroke="#333" stroke-width="0.75"/>
<line x1="195.54" y1="438" x2="195.54" y2="441.0" stroke="#333" stroke-width="0.75"/>
<line x1="196.67" y1="438" x2="196.67" y2="441.0" stroke="#333" stroke-width="0.75"/>
<line x1="197.67" y1="438" x2="197.67" y2="441.0" stroke="#333" stroke-width="0.75"/>
<line x1="199.06" y1="438" x2="199.06" y2="441.6" stroke="#333" stroke-width="0.75"/>
<line x1="204.95" y1="438" x2="204.95" y2="441.0" stroke="#333" stroke-width="0.75"/>
<line x1="208.39" y1="438" x2="208.39" y2="441.0" stroke="#333" stroke-width="0.75"/>
<line x1="210.84" y1="438" x2="210.84" y2="441.0" stroke="#333" stroke-width="0.75"/>
<line x1="212.73" y1="438" x2="212.73" y2="441.0" stroke="#333" stroke-width="0.75"/>
<line x1="214.28" y1="438" x2="214.28" y2="441.0" stroke="#333" stroke-width="0.75"/>
<line x1="215.59" y1="438" x2="215.59" y2="441.0" stroke="#333" stroke-width="0.75"/>
<line x1="216.72" y1="438" x2="216.72" y2="441.0" stroke="#333" stroke-width="0.75"/>
<line x1="217.72" y1="438" x2="217.72" y2="441.0" stroke="#333" stroke-width="0.75"/>
<line x1="218.32" y1="438" x2="218.32" y2="441.6" stroke="#333" stroke-width="0.75"/>
<line x1="224.21" y1="438" x2="224.21" y2="441.0" stroke="#333" stroke-width="0.75"/>
<line x1="227.65" y1="438" x2="227.65" y2="441.0" stroke="#333" stroke-width="0.75"/>
<line x1="230.09" y1="438" x2="230.09" y2="441.0" stroke="#333" stroke-width="0.75"/>
<line x1="231.99" y1="438" x2="231.99" y2="441.0" stroke="#333" stroke-width="0.75"/>
<line x1="233.54" y1="438" x2="233.54" y2="441.0" stroke="#333" stroke-width="0.75"/>
<line x1="234.85" y1="438" x2="234.85" y2="441.0" stroke="#333" stroke-width="0.75"/>
<line x1="235.98" y1="438" x2="235.98" y2="441.0" stroke="#333" stroke-width="0.75"/>
<line x1="236.98" y1="438" x2="236.98" y2="441.0" stroke="#333" stroke-width="0.75"/>
<line x1="237.58" y1="438" x2="237.58" y2="441.6" stroke="#333" stroke-width="0.75"/>
<line x1="243.47" y1="438" x2="243.47" y2="441.0" stroke="#333" stroke-width="0.75"/>
<line x1="243.51" y1="438" x2="243.51" y2="441.0" stroke="#333" stroke-width="0.75"/>
<svg x="0" y="0" width="520" height="644"><defs><clipPath id="cp61"><rect x="164" y="390" width="81" height="49"/></clipPath></defs><g clip-path="url(#cp61)">
<rect x="192.75" y="392.88" width="0.9" height="45.12" fill="#c4c4c4"/>
<path d="M181.5,439.0L181.5,437.7L182.0,437.7L182.0,437.5L182.5,437.5L182.5,437.3L183.0,437.3L183.0,437.1L183.5,437.1L183.5,436.8L184.0,436.8L184.0,436.7L184.5,436.7L184.5,436.2L185.0,436.2L185.0,435.5L185.5,435.5L185.5,434.7L186.0,434.7L186.0,434.3L186.5,434.3L186.5,433.3L187.0,433.3L187.0,432.2L187.5,432.2L187.5,431.3L188.0,431.3L188.0,429.5L188.5,429.5L188.5,428.3L189.0,428.3L189.0,426.4L189.5,426.4L189.5,423.0L190.0,423.0L190.0,422.1L190.5,422.1L190.5,419.9L191.0,419.9L191.0,415.1L191.5,415.1L191.5,413.6L192.0,413.6L192.0,411.4L192.5,411.4L192.5,407.0L193.0,407.0L193.0,403.0L193.5,403.0L193.5,401.1L194.0,401.1L194.0,404.7L194.5,404.7L194.5,403.6L195.0,403.6L195.0,399.3L195.5,399.3L195.5,396.5L196.0,396.5L196.0,390.6L196.5,390.6L196.5,390.5L197.0,390.5L197.0,394.4L197.5,394.4L197.5,399.0L198.0,399.0L198.0,403.7L198.5,403.7L198.5,410.5L199.0,410.5L199.0,414.8L199.5,414.8L199.5,414.1L200.0,414.1L200.0,415.5L200.5,415.5L200.5,417.9L201.0,417.9L201.0,420.7L202.0,420.7L202.0,422.0L202.5,422.0L202.5,424.2L203.0,424.2L203.0,425.1L203.5,425.1L203.5,427.3L204.0,427.3L204.0,429.2L204.5,429.2L204.5,430.5L205.0,430.5L205.0,431.3L205.5,431.3L205.5,431.7L206.0,431.7L206.0,432.0L206.5,432.0L206.5,432.3L207.0,432.3L207.0,432.7L207.5,432.7L207.5,433.4L208.0,433.4L208.0,434.2L208.5,434.2L208.5,435.1L209.0,435.1L209.0,436.1L209.5,436.1L209.5,436.7L210.0,436.7L210.0,436.8L210.5,436.8L210.5,437.1L211.0,437.1L211.0,437.3L211.5,437.3L211.5,437.5L212.0,437.5L212.0,437.7L212.5,437.7L212.5,439.0Z" fill="#888888" stroke="#404040" stroke-width="0.8" stroke-linejoin="miter"/>
</g></svg>
<line x1="198.5" y1="390" x2="198.5" y2="439" stroke="#333" stroke-width="1.1"/>
<rect x="164.5" y="390.5" width="80" height="48" fill="none" stroke="#333" stroke-width="1.1"/>
<rect x="321" y="390" width="2" height="48" fill="#b8b8b8"/>
<line x1="320" y1="438.5" x2="323" y2="438.5" stroke="#666" stroke-width="0.7"/>
<line x1="320" y1="431.5" x2="323" y2="431.5" stroke="#666" stroke-width="0.7"/>
<line x1="320" y1="424.5" x2="323" y2="424.5" stroke="#666" stroke-width="0.7"/>
<line x1="320" y1="417.5" x2="323" y2="417.5" stroke="#666" stroke-width="0.7"/>
<line x1="320" y1="410.5" x2="323" y2="410.5" stroke="#666" stroke-width="0.7"/>
<line x1="320" y1="403.5" x2="323" y2="403.5" stroke="#666" stroke-width="0.7"/>
<line x1="320" y1="396.5" x2="323" y2="396.5" stroke="#666" stroke-width="0.7"/>
<line x1="323.40" y1="438" x2="323.40" y2="441.0" stroke="#333" stroke-width="0.75"/>
<line x1="326.85" y1="438" x2="326.85" y2="441.0" stroke="#333" stroke-width="0.75"/>
<line x1="330.69" y1="438" x2="330.69" y2="441.0" stroke="#333" stroke-width="0.75"/>
<line x1="333.73" y1="438" x2="333.73" y2="441.0" stroke="#333" stroke-width="0.75"/>
<line x1="335.86" y1="438" x2="335.86" y2="441.0" stroke="#333" stroke-width="0.75"/>
<line x1="338.39" y1="438" x2="338.39" y2="441.6" stroke="#333" stroke-width="0.75"/>
<line x1="344.42" y1="438" x2="344.42" y2="441.0" stroke="#333" stroke-width="0.75"/>
<line x1="347.95" y1="438" x2="347.95" y2="441.0" stroke="#333" stroke-width="0.75"/>
<line x1="350.46" y1="438" x2="350.46" y2="441.0" stroke="#333" stroke-width="0.75"/>
<line x1="352.40" y1="438" x2="352.40" y2="441.0" stroke="#333" stroke-width="0.75"/>
<line x1="353.99" y1="438" x2="353.99" y2="441.0" stroke="#333" stroke-width="0.75"/>
<line x1="355.33" y1="438" x2="355.33" y2="441.0" stroke="#333" stroke-width="0.75"/>
<line x1="356.49" y1="438" x2="356.49" y2="441.0" stroke="#333" stroke-width="0.75"/>
<line x1="357.51" y1="438" x2="357.51" y2="441.0" stroke="#333" stroke-width="0.75"/>
<line x1="358.94" y1="438" x2="358.94" y2="441.6" stroke="#333" stroke-width="0.75"/>
<line x1="364.97" y1="438" x2="364.97" y2="441.0" stroke="#333" stroke-width="0.75"/>
<line x1="368.50" y1="438" x2="368.50" y2="441.0" stroke="#333" stroke-width="0.75"/>
<line x1="371.01" y1="438" x2="371.01" y2="441.0" stroke="#333" stroke-width="0.75"/>
<line x1="372.95" y1="438" x2="372.95" y2="441.0" stroke="#333" stroke-width="0.75"/>
<line x1="374.54" y1="438" x2="374.54" y2="441.0" stroke="#333" stroke-width="0.75"/>
<line x1="375.88" y1="438" x2="375.88" y2="441.0" stroke="#333" stroke-width="0.75"/>
<line x1="377.04" y1="438" x2="377.04" y2="441.0" stroke="#333" stroke-width="0.75"/>
<line x1="378.07" y1="438" x2="378.07" y2="441.0" stroke="#333" stroke-width="0.75"/>
<line x1="378.68" y1="438" x2="378.68" y2="441.6" stroke="#333" stroke-width="0.75"/>
<line x1="384.71" y1="438" x2="384.71" y2="441.0" stroke="#333" stroke-width="0.75"/>
<line x1="388.24" y1="438" x2="388.24" y2="441.0" stroke="#333" stroke-width="0.75"/>
<line x1="390.75" y1="438" x2="390.75" y2="441.0" stroke="#333" stroke-width="0.75"/>
<line x1="392.69" y1="438" x2="392.69" y2="441.0" stroke="#333" stroke-width="0.75"/>
<line x1="394.28" y1="438" x2="394.28" y2="441.0" stroke="#333" stroke-width="0.75"/>
<line x1="395.62" y1="438" x2="395.62" y2="441.0" stroke="#333" stroke-width="0.75"/>
<line x1="396.78" y1="438" x2="396.78" y2="441.0" stroke="#333" stroke-width="0.75"/>
<line x1="397.81" y1="438" x2="397.81" y2="441.0" stroke="#333" stroke-width="0.75"/>
<line x1="398.42" y1="438" x2="398.42" y2="441.6" stroke="#333" stroke-width="0.75"/>
<line x1="404.45" y1="438" x2="404.45" y2="441.0" stroke="#333" stroke-width="0.75"/>
<line x1="404.49" y1="438" x2="404.49" y2="441.0" stroke="#333" stroke-width="0.75"/>
<svg x="0" y="0" width="520" height="644"><defs><clipPath id="cp62"><rect x="323" y="390" width="83" height="49"/></clipPath></defs><g clip-path="url(#cp62)">
<path d="M368.5,439.0L368.5,436.5L369.0,436.5L369.0,435.1L369.5,435.1L369.5,433.7L370.0,433.7L370.0,432.5L370.5,432.5L370.5,430.2L371.0,430.2L371.0,426.0L371.5,426.0L371.5,422.0L372.0,422.0L372.0,419.1L372.5,419.1L372.5,414.5L373.0,414.5L373.0,409.7L373.5,409.7L373.5,404.3L374.0,404.3L374.0,397.2L374.5,397.2L374.5,393.7L375.0,393.7L375.0,390.5L376.0,390.5L376.0,391.2L376.5,391.2L376.5,395.6L377.0,395.6L377.0,400.2L377.5,400.2L377.5,404.5L378.0,404.5L378.0,410.4L378.5,410.4L378.5,414.3L379.0,414.3L379.0,419.6L379.5,419.6L379.5,425.5L380.0,425.5L380.0,430.7L380.5,430.7L380.5,433.0L381.0,433.0L381.0,435.1L381.5,435.1L381.5,437.0L382.0,437.0L382.0,439.0Z" fill="#888888" stroke="#404040" stroke-width="0.8" stroke-linejoin="miter"/>
</g></svg>
<line x1="366.5" y1="390" x2="366.5" y2="439" stroke="#333" stroke-width="1.1"/>
<rect x="323.5" y="390.5" width="82" height="48" fill="none" stroke="#333" stroke-width="1.1"/>
<rect x="431" y="390" width="2" height="48" fill="#b8b8b8"/>
<line x1="430" y1="438.5" x2="433" y2="438.5" stroke="#666" stroke-width="0.7"/>
<line x1="430" y1="431.5" x2="433" y2="431.5" stroke="#666" stroke-width="0.7"/>
<line x1="430" y1="424.5" x2="433" y2="424.5" stroke="#666" stroke-width="0.7"/>
<line x1="430" y1="417.5" x2="433" y2="417.5" stroke="#666" stroke-width="0.7"/>
<line x1="430" y1="410.5" x2="433" y2="410.5" stroke="#666" stroke-width="0.7"/>
<line x1="430" y1="403.5" x2="433" y2="403.5" stroke="#666" stroke-width="0.7"/>
<line x1="430" y1="396.5" x2="433" y2="396.5" stroke="#666" stroke-width="0.7"/>
<line x1="433.40" y1="438" x2="433.40" y2="441.0" stroke="#333" stroke-width="0.75"/>
<line x1="436.75" y1="438" x2="436.75" y2="441.0" stroke="#333" stroke-width="0.75"/>
<line x1="440.51" y1="438" x2="440.51" y2="441.0" stroke="#333" stroke-width="0.75"/>
<line x1="443.47" y1="438" x2="443.47" y2="441.0" stroke="#333" stroke-width="0.75"/>
<line x1="445.54" y1="438" x2="445.54" y2="441.0" stroke="#333" stroke-width="0.75"/>
<line x1="448.01" y1="438" x2="448.01" y2="441.6" stroke="#333" stroke-width="0.75"/>
<line x1="453.90" y1="438" x2="453.90" y2="441.0" stroke="#333" stroke-width="0.75"/>
<line x1="457.34" y1="438" x2="457.34" y2="441.0" stroke="#333" stroke-width="0.75"/>
<line x1="459.79" y1="438" x2="459.79" y2="441.0" stroke="#333" stroke-width="0.75"/>
<line x1="461.68" y1="438" x2="461.68" y2="441.0" stroke="#333" stroke-width="0.75"/>
<line x1="463.23" y1="438" x2="463.23" y2="441.0" stroke="#333" stroke-width="0.75"/>
<line x1="464.54" y1="438" x2="464.54" y2="441.0" stroke="#333" stroke-width="0.75"/>
<line x1="465.67" y1="438" x2="465.67" y2="441.0" stroke="#333" stroke-width="0.75"/>
<line x1="466.67" y1="438" x2="466.67" y2="441.0" stroke="#333" stroke-width="0.75"/>
<line x1="468.06" y1="438" x2="468.06" y2="441.6" stroke="#333" stroke-width="0.75"/>
<line x1="473.95" y1="438" x2="473.95" y2="441.0" stroke="#333" stroke-width="0.75"/>
<line x1="477.39" y1="438" x2="477.39" y2="441.0" stroke="#333" stroke-width="0.75"/>
<line x1="479.84" y1="438" x2="479.84" y2="441.0" stroke="#333" stroke-width="0.75"/>
<line x1="481.73" y1="438" x2="481.73" y2="441.0" stroke="#333" stroke-width="0.75"/>
<line x1="483.28" y1="438" x2="483.28" y2="441.0" stroke="#333" stroke-width="0.75"/>
<line x1="484.59" y1="438" x2="484.59" y2="441.0" stroke="#333" stroke-width="0.75"/>
<line x1="485.72" y1="438" x2="485.72" y2="441.0" stroke="#333" stroke-width="0.75"/>
<line x1="486.72" y1="438" x2="486.72" y2="441.0" stroke="#333" stroke-width="0.75"/>
<line x1="487.32" y1="438" x2="487.32" y2="441.6" stroke="#333" stroke-width="0.75"/>
<line x1="493.21" y1="438" x2="493.21" y2="441.0" stroke="#333" stroke-width="0.75"/>
<line x1="496.65" y1="438" x2="496.65" y2="441.0" stroke="#333" stroke-width="0.75"/>
<line x1="499.09" y1="438" x2="499.09" y2="441.0" stroke="#333" stroke-width="0.75"/>
<line x1="500.99" y1="438" x2="500.99" y2="441.0" stroke="#333" stroke-width="0.75"/>
<line x1="502.54" y1="438" x2="502.54" y2="441.0" stroke="#333" stroke-width="0.75"/>
<line x1="503.85" y1="438" x2="503.85" y2="441.0" stroke="#333" stroke-width="0.75"/>
<line x1="504.98" y1="438" x2="504.98" y2="441.0" stroke="#333" stroke-width="0.75"/>
<line x1="505.98" y1="438" x2="505.98" y2="441.0" stroke="#333" stroke-width="0.75"/>
<line x1="506.58" y1="438" x2="506.58" y2="441.6" stroke="#333" stroke-width="0.75"/>
<line x1="512.47" y1="438" x2="512.47" y2="441.0" stroke="#333" stroke-width="0.75"/>
<line x1="512.51" y1="438" x2="512.51" y2="441.0" stroke="#333" stroke-width="0.75"/>
<svg x="0" y="0" width="520" height="644"><defs><clipPath id="cp63"><rect x="433" y="390" width="81" height="49"/></clipPath></defs><g clip-path="url(#cp63)">
<path d="M438.0,439.0L438.0,437.6L438.5,437.6L438.5,437.3L439.0,437.3L439.0,437.0L439.5,437.0L439.5,436.7L440.0,436.7L440.0,436.4L441.0,436.4L441.0,435.8L441.5,435.8L441.5,435.6L442.0,435.6L442.0,435.1L442.5,435.1L442.5,434.7L443.0,434.7L443.0,434.2L443.5,434.2L443.5,434.3L444.0,434.3L444.0,433.1L444.5,433.1L444.5,431.4L445.0,431.4L445.0,430.4L445.5,430.4L445.5,428.3L446.0,428.3L446.0,427.1L446.5,427.1L446.5,423.2L447.0,423.2L447.0,424.3L447.5,424.3L447.5,421.4L448.0,421.4L448.0,422.6L448.5,422.6L448.5,423.8L449.0,423.8L449.0,421.2L449.5,421.2L449.5,422.6L450.0,422.6L450.0,419.9L450.5,419.9L450.5,417.5L451.0,417.5L451.0,416.4L451.5,416.4L451.5,413.6L452.0,413.6L452.0,411.4L452.5,411.4L452.5,402.6L453.0,402.6L453.0,407.5L453.5,407.5L453.5,407.3L454.0,407.3L454.0,408.5L454.5,408.5L454.5,402.5L455.0,402.5L455.0,401.0L455.5,401.0L455.5,393.5L456.0,393.5L456.0,390.5L456.5,390.5L456.5,396.0L457.0,396.0L457.0,399.0L457.5,399.0L457.5,401.9L458.0,401.9L458.0,406.4L458.5,406.4L458.5,407.5L459.0,407.5L459.0,403.8L459.5,403.8L459.5,405.7L460.0,405.7L460.0,404.4L460.5,404.4L460.5,409.4L461.0,409.4L461.0,415.7L461.5,415.7L461.5,421.3L462.0,421.3L462.0,426.1L462.5,426.1L462.5,431.2L463.0,431.2L463.0,431.9L463.5,431.9L463.5,432.3L464.0,432.3L464.0,433.8L464.5,433.8L464.5,434.1L465.0,434.1L465.0,434.7L466.0,434.7L466.0,435.2L466.5,435.2L466.5,434.9L467.0,434.9L467.0,434.7L467.5,434.7L467.5,435.1L468.0,435.1L468.0,434.4L468.5,434.4L468.5,434.7L469.0,434.7L469.0,434.0L469.5,434.0L469.5,435.0L470.0,435.0L470.0,435.3L470.5,435.3L470.5,435.2L471.5,435.2L471.5,435.1L472.0,435.1L472.0,434.1L472.5,434.1L472.5,433.1L473.0,433.1L473.0,435.3L473.5,435.3L473.5,437.7L474.0,437.7L474.0,439.0Z" fill="#888888" stroke="#404040" stroke-width="0.8" stroke-linejoin="miter"/>
</g></svg>
<line x1="474.5" y1="390" x2="474.5" y2="439" stroke="#333" stroke-width="1.1"/>
<rect x="433.5" y="390.5" width="80" height="48" fill="none" stroke="#333" stroke-width="1.1"/>
<rect x="53" y="451" width="2" height="48" fill="#b8b8b8"/>
<line x1="52" y1="499.5" x2="55" y2="499.5" stroke="#666" stroke-width="0.7"/>
<line x1="52" y1="492.5" x2="55" y2="492.5" stroke="#666" stroke-width="0.7"/>
<line x1="52" y1="485.5" x2="55" y2="485.5" stroke="#666" stroke-width="0.7"/>
<line x1="52" y1="478.5" x2="55" y2="478.5" stroke="#666" stroke-width="0.7"/>
<line x1="52" y1="471.5" x2="55" y2="471.5" stroke="#666" stroke-width="0.7"/>
<line x1="52" y1="464.5" x2="55" y2="464.5" stroke="#666" stroke-width="0.7"/>
<line x1="52" y1="457.5" x2="55" y2="457.5" stroke="#666" stroke-width="0.7"/>
<line x1="55.40" y1="499" x2="55.40" y2="502.0" stroke="#333" stroke-width="0.75"/>
<line x1="58.80" y1="499" x2="58.80" y2="502.0" stroke="#333" stroke-width="0.75"/>
<line x1="62.60" y1="499" x2="62.60" y2="502.0" stroke="#333" stroke-width="0.75"/>
<line x1="65.60" y1="499" x2="65.60" y2="502.0" stroke="#333" stroke-width="0.75"/>
<line x1="67.70" y1="499" x2="67.70" y2="502.0" stroke="#333" stroke-width="0.75"/>
<line x1="70.20" y1="499" x2="70.20" y2="502.6" stroke="#333" stroke-width="0.75"/>
<line x1="76.16" y1="499" x2="76.16" y2="502.0" stroke="#333" stroke-width="0.75"/>
<line x1="79.65" y1="499" x2="79.65" y2="502.0" stroke="#333" stroke-width="0.75"/>
<line x1="82.12" y1="499" x2="82.12" y2="502.0" stroke="#333" stroke-width="0.75"/>
<line x1="84.04" y1="499" x2="84.04" y2="502.0" stroke="#333" stroke-width="0.75"/>
<line x1="85.61" y1="499" x2="85.61" y2="502.0" stroke="#333" stroke-width="0.75"/>
<line x1="86.93" y1="499" x2="86.93" y2="502.0" stroke="#333" stroke-width="0.75"/>
<line x1="88.08" y1="499" x2="88.08" y2="502.0" stroke="#333" stroke-width="0.75"/>
<line x1="89.09" y1="499" x2="89.09" y2="502.0" stroke="#333" stroke-width="0.75"/>
<line x1="90.50" y1="499" x2="90.50" y2="502.6" stroke="#333" stroke-width="0.75"/>
<line x1="96.46" y1="499" x2="96.46" y2="502.0" stroke="#333" stroke-width="0.75"/>
<line x1="99.95" y1="499" x2="99.95" y2="502.0" stroke="#333" stroke-width="0.75"/>
<line x1="102.42" y1="499" x2="102.42" y2="502.0" stroke="#333" stroke-width="0.75"/>
<line x1="104.34" y1="499" x2="104.34" y2="502.0" stroke="#333" stroke-width="0.75"/>
<line x1="105.91" y1="499" x2="105.91" y2="502.0" stroke="#333" stroke-width="0.75"/>
<line x1="107.23" y1="499" x2="107.23" y2="502.0" stroke="#333" stroke-width="0.75"/>
<line x1="108.38" y1="499" x2="108.38" y2="502.0" stroke="#333" stroke-width="0.75"/>
<line x1="109.39" y1="499" x2="109.39" y2="502.0" stroke="#333" stroke-width="0.75"/>
<line x1="110.00" y1="499" x2="110.00" y2="502.6" stroke="#333" stroke-width="0.75"/>
<line x1="115.96" y1="499" x2="115.96" y2="502.0" stroke="#333" stroke-width="0.75"/>
<line x1="119.45" y1="499" x2="119.45" y2="502.0" stroke="#333" stroke-width="0.75"/>
<line x1="121.92" y1="499" x2="121.92" y2="502.0" stroke="#333" stroke-width="0.75"/>
<line x1="123.84" y1="499" x2="123.84" y2="502.0" stroke="#333" stroke-width="0.75"/>
<line x1="125.41" y1="499" x2="125.41" y2="502.0" stroke="#333" stroke-width="0.75"/>
<line x1="126.73" y1="499" x2="126.73" y2="502.0" stroke="#333" stroke-width="0.75"/>
<line x1="127.88" y1="499" x2="127.88" y2="502.0" stroke="#333" stroke-width="0.75"/>
<line x1="128.89" y1="499" x2="128.89" y2="502.0" stroke="#333" stroke-width="0.75"/>
<line x1="129.50" y1="499" x2="129.50" y2="502.6" stroke="#333" stroke-width="0.75"/>
<line x1="135.46" y1="499" x2="135.46" y2="502.0" stroke="#333" stroke-width="0.75"/>
<line x1="135.50" y1="499" x2="135.50" y2="502.0" stroke="#333" stroke-width="0.75"/>
<svg x="0" y="0" width="520" height="644"><defs><clipPath id="cp70"><rect x="55" y="451" width="82" height="49"/></clipPath></defs><g clip-path="url(#cp70)">
<rect x="98.75" y="451.50" width="0.90" height="47.50" fill="#8cc4ff"/>
<rect x="77.50" y="491.40" width="1.00" height="7.60" fill="#4ba8ff" stroke="#0a5cff" stroke-width="0.5"/>
<rect x="94.50" y="489.50" width="1.00" height="9.50" fill="#4ba8ff" stroke="#0a5cff" stroke-width="0.5"/>
<rect x="95.50" y="489.50" width="1.00" height="9.50" fill="#4ba8ff" stroke="#0a5cff" stroke-width="0.5"/>
<rect x="96.50" y="484.75" width="1.00" height="14.25" fill="#4ba8ff" stroke="#0a5cff" stroke-width="0.5"/>
<rect x="97.50" y="477.62" width="1.00" height="21.38" fill="#4ba8ff" stroke="#0a5cff" stroke-width="0.5"/>
<rect x="99.80" y="470.50" width="1.00" height="28.50" fill="#4ba8ff" stroke="#0a5cff" stroke-width="0.5"/>
<rect x="100.80" y="482.38" width="1.00" height="16.62" fill="#4ba8ff" stroke="#0a5cff" stroke-width="0.5"/>
<rect x="101.80" y="489.50" width="1.00" height="9.50" fill="#4ba8ff" stroke="#0a5cff" stroke-width="0.5"/>
<rect x="102.80" y="484.75" width="1.00" height="14.25" fill="#4ba8ff" stroke="#0a5cff" stroke-width="0.5"/>
<rect x="103.90" y="477.62" width="1.00" height="21.38" fill="#4ba8ff" stroke="#0a5cff" stroke-width="0.5"/>
<rect x="104.70" y="484.75" width="1.00" height="14.25" fill="#4ba8ff" stroke="#0a5cff" stroke-width="0.5"/>
<rect x="113.00" y="491.88" width="1.00" height="7.12" fill="#8cc4ff"/>
</g></svg>
<line x1="89.5" y1="451" x2="89.5" y2="500" stroke="#333" stroke-width="1.1"/>
<rect x="55.5" y="451.5" width="81" height="48" fill="none" stroke="#333" stroke-width="1.1"/>
<rect x="162" y="451" width="2" height="48" fill="#b8b8b8"/>
<line x1="161" y1="499.5" x2="164" y2="499.5" stroke="#666" stroke-width="0.7"/>
<line x1="161" y1="492.5" x2="164" y2="492.5" stroke="#666" stroke-width="0.7"/>
<line x1="161" y1="485.5" x2="164" y2="485.5" stroke="#666" stroke-width="0.7"/>
<line x1="161" y1="478.5" x2="164" y2="478.5" stroke="#666" stroke-width="0.7"/>
<line x1="161" y1="471.5" x2="164" y2="471.5" stroke="#666" stroke-width="0.7"/>
<line x1="161" y1="464.5" x2="164" y2="464.5" stroke="#666" stroke-width="0.7"/>
<line x1="161" y1="457.5" x2="164" y2="457.5" stroke="#666" stroke-width="0.7"/>
<line x1="164.40" y1="499" x2="164.40" y2="502.0" stroke="#333" stroke-width="0.75"/>
<line x1="167.75" y1="499" x2="167.75" y2="502.0" stroke="#333" stroke-width="0.75"/>
<line x1="171.51" y1="499" x2="171.51" y2="502.0" stroke="#333" stroke-width="0.75"/>
<line x1="174.47" y1="499" x2="174.47" y2="502.0" stroke="#333" stroke-width="0.75"/>
<line x1="176.54" y1="499" x2="176.54" y2="502.0" stroke="#333" stroke-width="0.75"/>
<line x1="179.01" y1="499" x2="179.01" y2="502.6" stroke="#333" stroke-width="0.75"/>
<line x1="184.90" y1="499" x2="184.90" y2="502.0" stroke="#333" stroke-width="0.75"/>
<line x1="188.34" y1="499" x2="188.34" y2="502.0" stroke="#333" stroke-width="0.75"/>
<line x1="190.79" y1="499" x2="190.79" y2="502.0" stroke="#333" stroke-width="0.75"/>
<line x1="192.68" y1="499" x2="192.68" y2="502.0" stroke="#333" stroke-width="0.75"/>
<line x1="194.23" y1="499" x2="194.23" y2="502.0" stroke="#333" stroke-width="0.75"/>
<line x1="195.54" y1="499" x2="195.54" y2="502.0" stroke="#333" stroke-width="0.75"/>
<line x1="196.67" y1="499" x2="196.67" y2="502.0" stroke="#333" stroke-width="0.75"/>
<line x1="197.67" y1="499" x2="197.67" y2="502.0" stroke="#333" stroke-width="0.75"/>
<line x1="199.06" y1="499" x2="199.06" y2="502.6" stroke="#333" stroke-width="0.75"/>
<line x1="204.95" y1="499" x2="204.95" y2="502.0" stroke="#333" stroke-width="0.75"/>
<line x1="208.39" y1="499" x2="208.39" y2="502.0" stroke="#333" stroke-width="0.75"/>
<line x1="210.84" y1="499" x2="210.84" y2="502.0" stroke="#333" stroke-width="0.75"/>
<line x1="212.73" y1="499" x2="212.73" y2="502.0" stroke="#333" stroke-width="0.75"/>
<line x1="214.28" y1="499" x2="214.28" y2="502.0" stroke="#333" stroke-width="0.75"/>
<line x1="215.59" y1="499" x2="215.59" y2="502.0" stroke="#333" stroke-width="0.75"/>
<line x1="216.72" y1="499" x2="216.72" y2="502.0" stroke="#333" stroke-width="0.75"/>
<line x1="217.72" y1="499" x2="217.72" y2="502.0" stroke="#333" stroke-width="0.75"/>
<line x1="218.32" y1="499" x2="218.32" y2="502.6" stroke="#333" stroke-width="0.75"/>
<line x1="224.21" y1="499" x2="224.21" y2="502.0" stroke="#333" stroke-width="0.75"/>
<line x1="227.65" y1="499" x2="227.65" y2="502.0" stroke="#333" stroke-width="0.75"/>
<line x1="230.09" y1="499" x2="230.09" y2="502.0" stroke="#333" stroke-width="0.75"/>
<line x1="231.99" y1="499" x2="231.99" y2="502.0" stroke="#333" stroke-width="0.75"/>
<line x1="233.54" y1="499" x2="233.54" y2="502.0" stroke="#333" stroke-width="0.75"/>
<line x1="234.85" y1="499" x2="234.85" y2="502.0" stroke="#333" stroke-width="0.75"/>
<line x1="235.98" y1="499" x2="235.98" y2="502.0" stroke="#333" stroke-width="0.75"/>
<line x1="236.98" y1="499" x2="236.98" y2="502.0" stroke="#333" stroke-width="0.75"/>
<line x1="237.58" y1="499" x2="237.58" y2="502.6" stroke="#333" stroke-width="0.75"/>
<line x1="243.47" y1="499" x2="243.47" y2="502.0" stroke="#333" stroke-width="0.75"/>
<line x1="243.51" y1="499" x2="243.51" y2="502.0" stroke="#333" stroke-width="0.75"/>
<svg x="0" y="0" width="520" height="644"><defs><clipPath id="cp71"><rect x="164" y="451" width="81" height="49"/></clipPath></defs><g clip-path="url(#cp71)">
<rect x="200.10" y="451.50" width="1.00" height="47.50" fill="#9ccdff"/>
<rect x="203.10" y="451.50" width="1.00" height="47.50" fill="#9ccdff"/>
<rect x="195.40" y="475.25" width="1.20" height="23.75" fill="#4ba8ff" stroke="#0a5cff" stroke-width="0.5"/>
<rect x="196.50" y="487.12" width="1.40" height="11.88" fill="#4ba8ff" stroke="#0a5cff" stroke-width="0.5"/>
<rect x="199.00" y="475.25" width="1.60" height="23.75" fill="#4ba8ff" stroke="#0a5cff" stroke-width="0.5"/>
<rect x="201.20" y="475.25" width="1.60" height="23.75" fill="#4ba8ff" stroke="#0a5cff" stroke-width="0.5"/>
<rect x="204.20" y="487.12" width="1.60" height="11.88" fill="#4ba8ff" stroke="#0a5cff" stroke-width="0.5"/>
<rect x="209.00" y="475.25" width="1.00" height="23.75" fill="#4ba8ff" stroke="#0a5cff" stroke-width="0.5"/>
<rect x="214.30" y="475.25" width="1.00" height="23.75" fill="#4ba8ff" stroke="#0a5cff" stroke-width="0.5"/>
<rect x="217.80" y="475.25" width="1.00" height="23.75" fill="#4ba8ff" stroke="#0a5cff" stroke-width="0.5"/>
</g></svg>
<line x1="198.5" y1="451" x2="198.5" y2="500" stroke="#333" stroke-width="1.1"/>
<rect x="164.5" y="451.5" width="80" height="48" fill="none" stroke="#333" stroke-width="1.1"/>
<rect x="321" y="451" width="2" height="48" fill="#b8b8b8"/>
<line x1="320" y1="499.5" x2="323" y2="499.5" stroke="#666" stroke-width="0.7"/>
<line x1="320" y1="492.5" x2="323" y2="492.5" stroke="#666" stroke-width="0.7"/>
<line x1="320" y1="485.5" x2="323" y2="485.5" stroke="#666" stroke-width="0.7"/>
<line x1="320" y1="478.5" x2="323" y2="478.5" stroke="#666" stroke-width="0.7"/>
<line x1="320" y1="471.5" x2="323" y2="471.5" stroke="#666" stroke-width="0.7"/>
<line x1="320" y1="464.5" x2="323" y2="464.5" stroke="#666" stroke-width="0.7"/>
<line x1="320" y1="457.5" x2="323" y2="457.5" stroke="#666" stroke-width="0.7"/>
<line x1="323.40" y1="499" x2="323.40" y2="502.0" stroke="#333" stroke-width="0.75"/>
<line x1="326.85" y1="499" x2="326.85" y2="502.0" stroke="#333" stroke-width="0.75"/>
<line x1="330.69" y1="499" x2="330.69" y2="502.0" stroke="#333" stroke-width="0.75"/>
<line x1="333.73" y1="499" x2="333.73" y2="502.0" stroke="#333" stroke-width="0.75"/>
<line x1="335.86" y1="499" x2="335.86" y2="502.0" stroke="#333" stroke-width="0.75"/>
<line x1="338.39" y1="499" x2="338.39" y2="502.6" stroke="#333" stroke-width="0.75"/>
<line x1="344.42" y1="499" x2="344.42" y2="502.0" stroke="#333" stroke-width="0.75"/>
<line x1="347.95" y1="499" x2="347.95" y2="502.0" stroke="#333" stroke-width="0.75"/>
<line x1="350.46" y1="499" x2="350.46" y2="502.0" stroke="#333" stroke-width="0.75"/>
<line x1="352.40" y1="499" x2="352.40" y2="502.0" stroke="#333" stroke-width="0.75"/>
<line x1="353.99" y1="499" x2="353.99" y2="502.0" stroke="#333" stroke-width="0.75"/>
<line x1="355.33" y1="499" x2="355.33" y2="502.0" stroke="#333" stroke-width="0.75"/>
<line x1="356.49" y1="499" x2="356.49" y2="502.0" stroke="#333" stroke-width="0.75"/>
<line x1="357.51" y1="499" x2="357.51" y2="502.0" stroke="#333" stroke-width="0.75"/>
<line x1="358.94" y1="499" x2="358.94" y2="502.6" stroke="#333" stroke-width="0.75"/>
<line x1="364.97" y1="499" x2="364.97" y2="502.0" stroke="#333" stroke-width="0.75"/>
<line x1="368.50" y1="499" x2="368.50" y2="502.0" stroke="#333" stroke-width="0.75"/>
<line x1="371.01" y1="499" x2="371.01" y2="502.0" stroke="#333" stroke-width="0.75"/>
<line x1="372.95" y1="499" x2="372.95" y2="502.0" stroke="#333" stroke-width="0.75"/>
<line x1="374.54" y1="499" x2="374.54" y2="502.0" stroke="#333" stroke-width="0.75"/>
<line x1="375.88" y1="499" x2="375.88" y2="502.0" stroke="#333" stroke-width="0.75"/>
<line x1="377.04" y1="499" x2="377.04" y2="502.0" stroke="#333" stroke-width="0.75"/>
<line x1="378.07" y1="499" x2="378.07" y2="502.0" stroke="#333" stroke-width="0.75"/>
<line x1="378.68" y1="499" x2="378.68" y2="502.6" stroke="#333" stroke-width="0.75"/>
<line x1="384.71" y1="499" x2="384.71" y2="502.0" stroke="#333" stroke-width="0.75"/>
<line x1="388.24" y1="499" x2="388.24" y2="502.0" stroke="#333" stroke-width="0.75"/>
<line x1="390.75" y1="499" x2="390.75" y2="502.0" stroke="#333" stroke-width="0.75"/>
<line x1="392.69" y1="499" x2="392.69" y2="502.0" stroke="#333" stroke-width="0.75"/>
<line x1="394.28" y1="499" x2="394.28" y2="502.0" stroke="#333" stroke-width="0.75"/>
<line x1="395.62" y1="499" x2="395.62" y2="502.0" stroke="#333" stroke-width="0.75"/>
<line x1="396.78" y1="499" x2="396.78" y2="502.0" stroke="#333" stroke-width="0.75"/>
<line x1="397.81" y1="499" x2="397.81" y2="502.0" stroke="#333" stroke-width="0.75"/>
<line x1="398.42" y1="499" x2="398.42" y2="502.6" stroke="#333" stroke-width="0.75"/>
<line x1="404.45" y1="499" x2="404.45" y2="502.0" stroke="#333" stroke-width="0.75"/>
<line x1="404.49" y1="499" x2="404.49" y2="502.0" stroke="#333" stroke-width="0.75"/>
<svg x="0" y="0" width="520" height="644"><defs><clipPath id="cp72"><rect x="323" y="451" width="83" height="49"/></clipPath></defs><g clip-path="url(#cp72)">
<rect x="372.55" y="475.25" width="0.9" height="23.75" fill="#a3d1ff"/>
<rect x="377.25" y="451.50" width="0.9" height="47.50" fill="#a3d1ff"/>
<rect x="375.05" y="458.62" width="0.9" height="40.38" fill="#a3d1ff"/>
<rect x="380.55" y="458.62" width="0.9" height="40.38" fill="#a3d1ff"/>
<rect x="383.05" y="461.95" width="0.9" height="37.05" fill="#a3d1ff"/>
<rect x="385.55" y="475.25" width="0.9" height="23.75" fill="#a3d1ff"/>
<path d="M366.5,500.0L366.5,498.8L367.0,498.8L367.0,498.3L368.0,498.3L368.0,497.8L368.5,497.8L368.5,497.3L369.0,497.3L369.0,497.0L370.0,497.0L370.0,496.6L370.5,496.6L370.5,495.2L371.0,495.2L371.0,492.5L371.5,492.5L371.5,491.6L372.0,491.6L372.0,487.0L372.5,487.0L372.5,484.9L373.0,484.9L373.0,482.7L373.5,482.7L373.5,477.2L374.0,477.2L374.0,468.4L374.5,468.4L374.5,466.7L375.0,466.7L375.0,456.4L375.5,456.4L375.5,455.4L376.0,455.4L376.0,456.6L376.5,456.6L376.5,466.9L377.0,466.9L377.0,463.8L377.5,463.8L377.5,456.6L378.5,456.6L378.5,454.3L379.0,454.3L379.0,456.0L379.5,456.0L379.5,459.7L380.0,459.7L380.0,458.3L380.5,458.3L380.5,459.0L381.0,459.0L381.0,469.2L381.5,469.2L381.5,465.4L382.0,465.4L382.0,471.2L382.5,471.2L382.5,466.9L383.0,466.9L383.0,470.8L383.5,470.8L383.5,464.6L384.0,464.6L384.0,466.6L384.5,466.6L384.5,479.5L385.0,479.5L385.0,476.7L385.5,476.7L385.5,483.1L386.0,483.1L386.0,482.3L386.5,482.3L386.5,485.3L387.0,485.3L387.0,482.9L387.5,482.9L387.5,486.1L388.0,486.1L388.0,487.9L388.5,487.9L388.5,492.5L389.0,492.5L389.0,491.9L389.5,491.9L389.5,492.7L390.0,492.7L390.0,493.9L390.5,493.9L390.5,493.7L391.0,493.7L391.0,494.8L391.5,494.8L391.5,495.7L392.0,495.7L392.0,495.6L392.5,495.6L392.5,496.4L393.0,496.4L393.0,497.0L393.5,497.0L393.5,496.9L394.0,496.9L394.0,497.6L395.0,497.6L395.0,497.8L395.5,497.8L395.5,498.5L396.0,498.5L396.0,500.0Z" fill="#4ba8ff" stroke="#0a5cff" stroke-width="0.6" stroke-linejoin="miter"/>
</g></svg>
<line x1="366.5" y1="451" x2="366.5" y2="500" stroke="#333" stroke-width="1.1"/>
<rect x="323.5" y="451.5" width="82" height="48" fill="none" stroke="#333" stroke-width="1.1"/>
<rect x="431" y="451" width="2" height="48" fill="#b8b8b8"/>
<line x1="430" y1="499.5" x2="433" y2="499.5" stroke="#666" stroke-width="0.7"/>
<line x1="430" y1="492.5" x2="433" y2="492.5" stroke="#666" stroke-width="0.7"/>
<line x1="430" y1="485.5" x2="433" y2="485.5" stroke="#666" stroke-width="0.7"/>
<line x1="430" y1="478.5" x2="433" y2="478.5" stroke="#666" stroke-width="0.7"/>
<line x1="430" y1="471.5" x2="433" y2="471.5" stroke="#666" stroke-width="0.7"/>
<line x1="430" y1="464.5" x2="433" y2="464.5" stroke="#666" stroke-width="0.7"/>
<line x1="430" y1="457.5" x2="433" y2="457.5" stroke="#666" stroke-width="0.7"/>
<line x1="433.40" y1="499" x2="433.40" y2="502.0" stroke="#333" stroke-width="0.75"/>
<line x1="436.75" y1="499" x2="436.75" y2="502.0" stroke="#333" stroke-width="0.75"/>
<line x1="440.51" y1="499" x2="440.51" y2="502.0" stroke="#333" stroke-width="0.75"/>
<line x1="443.47" y1="499" x2="443.47" y2="502.0" stroke="#333" stroke-width="0.75"/>
<line x1="445.54" y1="499" x2="445.54" y2="502.0" stroke="#333" stroke-width="0.75"/>
<line x1="448.01" y1="499" x2="448.01" y2="502.6" stroke="#333" stroke-width="0.75"/>
<line x1="453.90" y1="499" x2="453.90" y2="502.0" stroke="#333" stroke-width="0.75"/>
<line x1="457.34" y1="499" x2="457.34" y2="502.0" stroke="#333" stroke-width="0.75"/>
<line x1="459.79" y1="499" x2="459.79" y2="502.0" stroke="#333" stroke-width="0.75"/>
<line x1="461.68" y1="499" x2="461.68" y2="502.0" stroke="#333" stroke-width="0.75"/>
<line x1="463.23" y1="499" x2="463.23" y2="502.0" stroke="#333" stroke-width="0.75"/>
<line x1="464.54" y1="499" x2="464.54" y2="502.0" stroke="#333" stroke-width="0.75"/>
<line x1="465.67" y1="499" x2="465.67" y2="502.0" stroke="#333" stroke-width="0.75"/>
<line x1="466.67" y1="499" x2="466.67" y2="502.0" stroke="#333" stroke-width="0.75"/>
<line x1="468.06" y1="499" x2="468.06" y2="502.6" stroke="#333" stroke-width="0.75"/>
<line x1="473.95" y1="499" x2="473.95" y2="502.0" stroke="#333" stroke-width="0.75"/>
<line x1="477.39" y1="499" x2="477.39" y2="502.0" stroke="#333" stroke-width="0.75"/>
<line x1="479.84" y1="499" x2="479.84" y2="502.0" stroke="#333" stroke-width="0.75"/>
<line x1="481.73" y1="499" x2="481.73" y2="502.0" stroke="#333" stroke-width="0.75"/>
<line x1="483.28" y1="499" x2="483.28" y2="502.0" stroke="#333" stroke-width="0.75"/>
<line x1="484.59" y1="499" x2="484.59" y2="502.0" stroke="#333" stroke-width="0.75"/>
<line x1="485.72" y1="499" x2="485.72" y2="502.0" stroke="#333" stroke-width="0.75"/>
<line x1="486.72" y1="499" x2="486.72" y2="502.0" stroke="#333" stroke-width="0.75"/>
<line x1="487.32" y1="499" x2="487.32" y2="502.6" stroke="#333" stroke-width="0.75"/>
<line x1="493.21" y1="499" x2="493.21" y2="502.0" stroke="#333" stroke-width="0.75"/>
<line x1="496.65" y1="499" x2="496.65" y2="502.0" stroke="#333" stroke-width="0.75"/>
<line x1="499.09" y1="499" x2="499.09" y2="502.0" stroke="#333" stroke-width="0.75"/>
<line x1="500.99" y1="499" x2="500.99" y2="502.0" stroke="#333" stroke-width="0.75"/>
<line x1="502.54" y1="499" x2="502.54" y2="502.0" stroke="#333" stroke-width="0.75"/>
<line x1="503.85" y1="499" x2="503.85" y2="502.0" stroke="#333" stroke-width="0.75"/>
<line x1="504.98" y1="499" x2="504.98" y2="502.0" stroke="#333" stroke-width="0.75"/>
<line x1="505.98" y1="499" x2="505.98" y2="502.0" stroke="#333" stroke-width="0.75"/>
<line x1="506.58" y1="499" x2="506.58" y2="502.6" stroke="#333" stroke-width="0.75"/>
<line x1="512.47" y1="499" x2="512.47" y2="502.0" stroke="#333" stroke-width="0.75"/>
<line x1="512.51" y1="499" x2="512.51" y2="502.0" stroke="#333" stroke-width="0.75"/>
<svg x="0" y="0" width="520" height="644"><defs><clipPath id="cp73"><rect x="433" y="451" width="81" height="49"/></clipPath></defs><g clip-path="url(#cp73)">
<rect x="479.95" y="463.38" width="0.9" height="35.62" fill="#a3d1ff"/>
<rect x="487.75" y="461.00" width="0.9" height="38.00" fill="#a3d1ff"/>
<rect x="484.85" y="451.50" width="0.9" height="47.50" fill="#a3d1ff"/>
<rect x="482.55" y="458.62" width="0.9" height="40.38" fill="#a3d1ff"/>
<path d="M439.0,500.0L439.0,495.6L439.5,495.6L439.5,499.0L445.5,499.0L445.5,495.6L446.0,495.6L446.0,499.0L446.5,499.0L446.5,495.6L447.5,495.6L447.5,488.8L448.0,488.8L448.0,495.6L449.0,495.6L449.0,492.2L450.5,492.2L450.5,495.6L451.0,495.6L451.0,499.0L451.5,499.0L451.5,495.6L452.0,495.6L452.0,499.0L452.5,499.0L452.5,495.6L453.0,495.6L453.0,499.0L454.0,499.0L454.0,492.2L454.5,492.2L454.5,499.0L455.0,499.0L455.0,495.6L456.0,495.6L456.0,499.0L456.5,499.0L456.5,492.2L457.0,492.2L457.0,499.0L457.5,499.0L457.5,495.6L458.0,495.6L458.0,492.2L458.5,492.2L458.5,495.6L460.0,495.6L460.0,492.2L460.5,492.2L460.5,499.0L462.5,499.0L462.5,492.2L463.0,492.2L463.0,499.0L463.5,499.0L463.5,488.8L464.0,488.8L464.0,492.2L464.5,492.2L464.5,488.8L465.0,488.8L465.0,492.2L465.5,492.2L465.5,499.0L466.0,499.0L466.0,495.6L466.5,495.6L466.5,499.0L467.0,499.0L467.0,495.6L468.0,495.6L468.0,485.4L468.5,485.4L468.5,495.6L469.0,495.6L469.0,488.8L469.5,488.8L469.5,482.0L470.0,482.0L470.0,499.0L470.5,499.0L470.5,492.2L471.0,492.2L471.0,495.6L471.5,495.6L471.5,492.2L472.0,492.2L472.0,488.8L472.5,488.8L472.5,485.4L473.0,485.4L473.0,488.8L474.0,488.8L474.0,482.0L474.5,482.0L474.5,495.6L475.5,495.6L475.5,482.0L476.5,482.0L476.5,488.8L477.0,488.8L477.0,475.2L477.5,475.2L477.5,478.6L478.0,478.6L478.0,468.5L478.5,468.5L478.5,478.6L479.0,478.6L479.0,475.2L479.5,475.2L479.5,458.3L480.0,458.3L480.0,471.9L480.5,471.9L480.5,478.6L481.0,478.6L481.0,471.9L481.5,471.9L481.5,482.0L482.0,482.0L482.0,468.5L482.5,468.5L482.5,475.2L483.0,475.2L483.0,468.5L483.5,468.5L483.5,458.3L484.0,458.3L484.0,451.5L485.0,451.5L485.0,458.3L485.5,458.3L485.5,471.9L486.0,471.9L486.0,468.5L486.5,468.5L486.5,475.2L487.0,475.2L487.0,471.9L487.5,471.9L487.5,475.2L488.0,475.2L488.0,468.5L488.5,468.5L488.5,471.9L490.0,471.9L490.0,468.5L490.5,468.5L490.5,478.6L491.5,478.6L491.5,482.0L492.0,482.0L492.0,492.2L492.5,492.2L492.5,485.4L493.0,485.4L493.0,482.0L493.5,482.0L493.5,485.4L494.0,485.4L494.0,482.0L494.5,482.0L494.5,488.8L495.0,488.8L495.0,492.2L495.5,492.2L495.5,488.8L496.0,488.8L496.0,492.2L496.5,492.2L496.5,488.8L497.0,488.8L497.0,499.0L498.5,499.0L498.5,495.6L499.0,495.6L499.0,499.0L501.5,499.0L501.5,492.2L502.0,492.2L502.0,500.0Z" fill="#4ba8ff" stroke="#0a5cff" stroke-width="0.6" stroke-linejoin="miter"/>
</g></svg>
<line x1="474.5" y1="451" x2="474.5" y2="500" stroke="#333" stroke-width="1.1"/>
<rect x="433.5" y="451.5" width="80" height="48" fill="none" stroke="#333" stroke-width="1.1"/>
<text x="6.8" y="14.6" font-size="10.5" font-weight="bold">A</text>
<text x="310.3" y="14.6" font-size="10.5" font-weight="bold">B</text>
<text x="137.6" y="13.5" font-size="9.2">Day 0</text>
<text x="393.7" y="13.5" font-size="9.2" textLength="45" lengthAdjust="spacingAndGlyphs">Day 3 MLC</text>
<text x="84" y="26.1" font-size="9.2" textLength="23.2" lengthAdjust="spacingAndGlyphs">+CsA</text>
<text x="193.2" y="26.1" font-size="9.2" textLength="22.4" lengthAdjust="spacingAndGlyphs">−CsA</text>
<text x="352.2" y="26.1" font-size="9.2" textLength="22.6" lengthAdjust="spacingAndGlyphs">+CsA</text>
<text x="462.2" y="26.1" font-size="9.2" textLength="22" lengthAdjust="spacingAndGlyphs">−CsA</text>
<text x="22.8" y="57" font-size="9.6" lengthAdjust="spacingAndGlyphs" textLength="21.4">Naïve</text>
<text x="29.9" y="116" font-size="9.6" lengthAdjust="spacingAndGlyphs" textLength="14.3">CM</text>
<text x="31.8" y="176" font-size="9.6" lengthAdjust="spacingAndGlyphs" textLength="12.4">EM</text>
<text x="14.3" y="236.7" font-size="9.6" lengthAdjust="spacingAndGlyphs" textLength="29.9">TEMRA</text>
<text x="23.9" y="418" font-size="9.6" lengthAdjust="spacingAndGlyphs" textLength="20.3">MAIT</text>
<text x="23.4" y="296" font-size="9.6" lengthAdjust="spacingAndGlyphs" textLength="20.8">T<tspan font-size="7" dy="2.3">SCM</tspan></text>
<text x="10" y="352" font-size="9.6" lengthAdjust="spacingAndGlyphs" textLength="31.6">CD161<tspan font-size="6.5" dy="-3.6">+</tspan></text>
<text x="7.1" y="363.2" font-size="9.6" lengthAdjust="spacingAndGlyphs" textLength="36.6">non-MAIT</text>
<text x="15.9" y="478.8" font-size="9.6" lengthAdjust="spacingAndGlyphs" textLength="27.9">CD25<tspan font-size="6.5" dy="-3.6">+</tspan></text>
<text x="7" y="526" font-size="10" font-weight="bold">C</text>
<line x1="40.5" y1="530.8" x2="40.5" y2="604.4" stroke="#222" stroke-width="1.15"/>
<line x1="39.9" y1="603.8" x2="160.5" y2="603.8" stroke="#222" stroke-width="1.15"/>
<line x1="37.1" y1="603.40" x2="40.5" y2="603.40" stroke="#222" stroke-width="1"/>
<text x="35.5" y="606.10" font-size="8" text-anchor="end">0</text>
<line x1="37.1" y1="589.70" x2="40.5" y2="589.70" stroke="#222" stroke-width="1"/>
<text x="35.5" y="592.40" font-size="8" text-anchor="end">20</text>
<line x1="37.1" y1="576.00" x2="40.5" y2="576.00" stroke="#222" stroke-width="1"/>
<text x="35.5" y="578.70" font-size="8" text-anchor="end">40</text>
<line x1="37.1" y1="562.30" x2="40.5" y2="562.30" stroke="#222" stroke-width="1"/>
<text x="35.5" y="565.00" font-size="8" text-anchor="end">60</text>
<line x1="37.1" y1="548.60" x2="40.5" y2="548.60" stroke="#222" stroke-width="1"/>
<text x="35.5" y="551.30" font-size="8" text-anchor="end">80</text>
<line x1="37.1" y1="534.90" x2="40.5" y2="534.90" stroke="#222" stroke-width="1"/>
<text x="35.5" y="537.60" font-size="8" text-anchor="end">100</text>
<text x="88.3" y="525.3" font-size="9.2">Day 0</text>
<text transform="translate(16.4,595.2) rotate(-90)" font-size="8.4" textLength="55" lengthAdjust="spacingAndGlyphs">% Rh-123 effluxing</text>
<line x1="48" y1="603.8" x2="48" y2="607" stroke="#222" stroke-width="1"/>
<text transform="translate(50.2,613.6) rotate(-45)" font-size="7.3" text-anchor="end">Naïve</text>
<line x1="63" y1="603.8" x2="63" y2="607" stroke="#222" stroke-width="1"/>
<text transform="translate(65.2,613.6) rotate(-45)" font-size="7.3" text-anchor="end">CM</text>
<line x1="78" y1="603.8" x2="78" y2="607" stroke="#222" stroke-width="1"/>
<text transform="translate(80.2,613.6) rotate(-45)" font-size="7.3" text-anchor="end">EM</text>
<line x1="93" y1="603.8" x2="93" y2="607" stroke="#222" stroke-width="1"/>
<text transform="translate(95.2,613.6) rotate(-45)" font-size="7.3" text-anchor="end">TEMRA</text>
<line x1="108" y1="603.8" x2="108" y2="607" stroke="#222" stroke-width="1"/>
<text transform="translate(110.2,613.6) rotate(-45)" font-size="7.3" text-anchor="end">T<tspan font-size="5.4" dy="2">scm</tspan></text>
<line x1="123" y1="603.8" x2="123" y2="607" stroke="#222" stroke-width="1"/>
<text transform="translate(125.2,613.6) rotate(-45)" font-size="7.3" text-anchor="end">Non-MAIT</text>
<line x1="138" y1="603.8" x2="138" y2="607" stroke="#222" stroke-width="1"/>
<text transform="translate(140.2,613.6) rotate(-45)" font-size="7.3" text-anchor="end">MAIT</text>
<line x1="153" y1="603.8" x2="153" y2="607" stroke="#222" stroke-width="1"/>
<text transform="translate(155.2,613.6) rotate(-45)" font-size="7.3" text-anchor="end">CD25<tspan font-size="5.4" dy="-2.8">+</tspan></text>
<line x1="48" y1="591.75" x2="48" y2="599.29" stroke="#222" stroke-width="0.9"/>
<line x1="45.8" y1="599.29" x2="50.2" y2="599.29" stroke="#222" stroke-width="0.9"/>
<line x1="45.8" y1="591.75" x2="50.2" y2="591.75" stroke="#222" stroke-width="0.9"/>
<line x1="43.7" y1="594.50" x2="52.3" y2="594.50" stroke="#111" stroke-width="1.3"/>
<line x1="63" y1="596.55" x2="63" y2="599.98" stroke="#222" stroke-width="0.9"/>
<line x1="60.8" y1="599.98" x2="65.2" y2="599.98" stroke="#222" stroke-width="0.9"/>
<line x1="60.8" y1="596.55" x2="65.2" y2="596.55" stroke="#222" stroke-width="0.9"/>
<line x1="58.7" y1="599.98" x2="67.3" y2="599.98" stroke="#111" stroke-width="1.3"/>
<line x1="78" y1="594.50" x2="78" y2="599.29" stroke="#222" stroke-width="0.9"/>
<line x1="75.8" y1="599.29" x2="80.2" y2="599.29" stroke="#222" stroke-width="0.9"/>
<line x1="75.8" y1="594.50" x2="80.2" y2="594.50" stroke="#222" stroke-width="0.9"/>
<line x1="73.7" y1="598.61" x2="82.3" y2="598.61" stroke="#111" stroke-width="1.3"/>
<line x1="93" y1="596.21" x2="93" y2="600.66" stroke="#222" stroke-width="0.9"/>
<line x1="90.8" y1="600.66" x2="95.2" y2="600.66" stroke="#222" stroke-width="0.9"/>
<line x1="90.8" y1="596.21" x2="95.2" y2="596.21" stroke="#222" stroke-width="0.9"/>
<line x1="88.7" y1="597.92" x2="97.3" y2="597.92" stroke="#111" stroke-width="1.3"/>
<line x1="108" y1="599.63" x2="108" y2="599.98" stroke="#222" stroke-width="0.9"/>
<line x1="105.8" y1="599.98" x2="110.2" y2="599.98" stroke="#222" stroke-width="0.9"/>
<line x1="105.8" y1="599.63" x2="110.2" y2="599.63" stroke="#222" stroke-width="0.9"/>
<line x1="103.7" y1="599.98" x2="112.3" y2="599.98" stroke="#111" stroke-width="1.3"/>
<line x1="123" y1="582.16" x2="123" y2="591.75" stroke="#222" stroke-width="0.9"/>
<line x1="120.8" y1="591.75" x2="125.2" y2="591.75" stroke="#222" stroke-width="0.9"/>
<line x1="120.8" y1="582.16" x2="125.2" y2="582.16" stroke="#222" stroke-width="0.9"/>
<line x1="118.7" y1="589.70" x2="127.3" y2="589.70" stroke="#111" stroke-width="1.3"/>
<line x1="138" y1="543.12" x2="138" y2="554.08" stroke="#222" stroke-width="0.9"/>
<line x1="135.8" y1="554.08" x2="140.2" y2="554.08" stroke="#222" stroke-width="0.9"/>
<line x1="135.8" y1="543.12" x2="140.2" y2="543.12" stroke="#222" stroke-width="0.9"/>
<line x1="133.7" y1="548.60" x2="142.3" y2="548.60" stroke="#111" stroke-width="1.3"/>
<line x1="153" y1="593.81" x2="153" y2="600.66" stroke="#222" stroke-width="0.9"/>
<line x1="150.8" y1="600.66" x2="155.2" y2="600.66" stroke="#222" stroke-width="0.9"/>
<line x1="150.8" y1="593.81" x2="155.2" y2="593.81" stroke="#222" stroke-width="0.9"/>
<line x1="148.7" y1="594.50" x2="157.3" y2="594.50" stroke="#111" stroke-width="1.3"/>
<circle cx="45.00" cy="592.10" r="1.75" fill="#f4609e"/>
<circle cx="51.75" cy="594.15" r="1.75" fill="#f4609e"/>
<circle cx="48.00" cy="599.29" r="1.75" fill="#f4609e"/>
<circle cx="60.00" cy="599.98" r="1.75" fill="#8a8416"/>
<circle cx="66.00" cy="599.98" r="1.75" fill="#8a8416"/>
<circle cx="63.00" cy="596.55" r="1.75" fill="#8a8416"/>
<circle cx="75.00" cy="598.95" r="1.75" fill="#8a1aa0"/>
<circle cx="81.00" cy="598.26" r="1.75" fill="#8a1aa0"/>
<circle cx="78.00" cy="594.50" r="1.75" fill="#8a1aa0"/>
<circle cx="90.00" cy="600.66" r="1.75" fill="#ff8a1a"/>
<circle cx="96.00" cy="598.61" r="1.75" fill="#ff8a1a"/>
<circle cx="90.00" cy="596.21" r="1.75" fill="#ff8a1a"/>
<circle cx="93.00" cy="597.58" r="1.75" fill="#ff8a1a"/>
<circle cx="104.25" cy="599.98" r="1.75" fill="#1a8c28"/>
<circle cx="108.00" cy="599.63" r="1.75" fill="#1a8c28"/>
<circle cx="111.75" cy="599.98" r="1.75" fill="#1a8c28"/>
<circle cx="120.00" cy="591.41" r="1.75" fill="#ff5a14"/>
<circle cx="126.00" cy="590.04" r="1.75" fill="#ff5a14"/>
<circle cx="123.00" cy="582.16" r="1.75" fill="#ff5a14"/>
<circle cx="138.00" cy="554.08" r="1.75" fill="#8a8a8a"/>
<circle cx="138.00" cy="543.12" r="1.75" fill="#8a8a8a"/>
<circle cx="150.00" cy="593.81" r="1.75" fill="#3a9cff"/>
<circle cx="156.00" cy="594.15" r="1.75" fill="#3a9cff"/>
<circle cx="153.00" cy="600.66" r="1.75" fill="#3a9cff"/>
<line x1="214.6" y1="530.8" x2="214.6" y2="604.4" stroke="#222" stroke-width="1.15"/>
<line x1="214.0" y1="603.8" x2="335.5" y2="603.8" stroke="#222" stroke-width="1.15"/>
<line x1="211.2" y1="603.40" x2="214.6" y2="603.40" stroke="#222" stroke-width="1"/>
<text x="209.6" y="606.10" font-size="8" text-anchor="end">0</text>
<line x1="211.2" y1="589.70" x2="214.6" y2="589.70" stroke="#222" stroke-width="1"/>
<text x="209.6" y="592.40" font-size="8" text-anchor="end">20</text>
<line x1="211.2" y1="576.00" x2="214.6" y2="576.00" stroke="#222" stroke-width="1"/>
<text x="209.6" y="578.70" font-size="8" text-anchor="end">40</text>
<line x1="211.2" y1="562.30" x2="214.6" y2="562.30" stroke="#222" stroke-width="1"/>
<text x="209.6" y="565.00" font-size="8" text-anchor="end">60</text>
<line x1="211.2" y1="548.60" x2="214.6" y2="548.60" stroke="#222" stroke-width="1"/>
<text x="209.6" y="551.30" font-size="8" text-anchor="end">80</text>
<line x1="211.2" y1="534.90" x2="214.6" y2="534.90" stroke="#222" stroke-width="1"/>
<text x="209.6" y="537.60" font-size="8" text-anchor="end">100</text>
<text x="263.6" y="524.6" font-size="9.2">Day 3</text>
<text transform="translate(190.6,595.2) rotate(-90)" font-size="8.4" textLength="55" lengthAdjust="spacingAndGlyphs">% Rh-123 effluxing</text>
<line x1="222.3" y1="603.8" x2="222.3" y2="607" stroke="#222" stroke-width="1"/>
<text transform="translate(224.5,613.6) rotate(-45)" font-size="7.3" text-anchor="end">Naïve</text>
<line x1="237.3" y1="603.8" x2="237.3" y2="607" stroke="#222" stroke-width="1"/>
<text transform="translate(239.5,613.6) rotate(-45)" font-size="7.3" text-anchor="end">CM</text>
<line x1="252.5" y1="603.8" x2="252.5" y2="607" stroke="#222" stroke-width="1"/>
<text transform="translate(254.7,613.6) rotate(-45)" font-size="7.3" text-anchor="end">EM</text>
<line x1="267.6" y1="603.8" x2="267.6" y2="607" stroke="#222" stroke-width="1"/>
<text transform="translate(269.8,613.6) rotate(-45)" font-size="7.3" text-anchor="end">TEMRA</text>
<line x1="282.8" y1="603.8" x2="282.8" y2="607" stroke="#222" stroke-width="1"/>
<text transform="translate(285.0,613.6) rotate(-45)" font-size="7.3" text-anchor="end">T<tspan font-size="5.4" dy="2">scm</tspan></text>
<line x1="298" y1="603.8" x2="298" y2="607" stroke="#222" stroke-width="1"/>
<text transform="translate(300.2,613.6) rotate(-45)" font-size="7.3" text-anchor="end">Non-MAIT</text>
<line x1="313" y1="603.8" x2="313" y2="607" stroke="#222" stroke-width="1"/>
<text transform="translate(315.2,613.6) rotate(-45)" font-size="7.3" text-anchor="end">MAIT</text>
<line x1="328.2" y1="603.8" x2="328.2" y2="607" stroke="#222" stroke-width="1"/>
<text transform="translate(330.4,613.6) rotate(-45)" font-size="7.3" text-anchor="end">CD25<tspan font-size="5.4" dy="-2.8">+</tspan></text>
<line x1="222.3" y1="548.60" x2="222.3" y2="560.25" stroke="#222" stroke-width="0.9"/>
<line x1="220.10000000000002" y1="560.25" x2="224.5" y2="560.25" stroke="#222" stroke-width="0.9"/>
<line x1="220.10000000000002" y1="548.60" x2="224.5" y2="548.60" stroke="#222" stroke-width="0.9"/>
<rect x="218.0" y="549.97" width="8.6" height="9.59" fill="#f9b2d0"/>
<line x1="218.0" y1="555.11" x2="226.60000000000002" y2="555.11" stroke="#111" stroke-width="1.3"/>
<line x1="237.3" y1="576.00" x2="237.3" y2="589.01" stroke="#222" stroke-width="0.9"/>
<line x1="235.10000000000002" y1="589.01" x2="239.5" y2="589.01" stroke="#222" stroke-width="0.9"/>
<line x1="235.10000000000002" y1="576.00" x2="239.5" y2="576.00" stroke="#222" stroke-width="0.9"/>
<rect x="233.0" y="579.42" width="8.6" height="8.90" fill="#c9c68a"/>
<line x1="233.0" y1="586.96" x2="241.60000000000002" y2="586.96" stroke="#111" stroke-width="1.3"/>
<line x1="252.5" y1="576.00" x2="252.5" y2="588.33" stroke="#222" stroke-width="0.9"/>
<line x1="250.3" y1="588.33" x2="254.7" y2="588.33" stroke="#222" stroke-width="0.9"/>
<line x1="250.3" y1="576.00" x2="254.7" y2="576.00" stroke="#222" stroke-width="0.9"/>
<rect x="248.2" y="578.05" width="8.6" height="8.22" fill="#cc95da"/>
<line x1="248.2" y1="583.53" x2="256.8" y2="583.53" stroke="#111" stroke-width="1.3"/>
<line x1="267.6" y1="551.34" x2="267.6" y2="583.53" stroke="#222" stroke-width="0.9"/>
<line x1="265.40000000000003" y1="583.53" x2="269.8" y2="583.53" stroke="#222" stroke-width="0.9"/>
<line x1="265.40000000000003" y1="551.34" x2="269.8" y2="551.34" stroke="#222" stroke-width="0.9"/>
<rect x="263.3" y="551.34" width="8.6" height="31.51" fill="#ffc28e"/>
<line x1="263.3" y1="578.74" x2="271.90000000000003" y2="578.74" stroke="#111" stroke-width="1.3"/>
<line x1="282.8" y1="563.67" x2="282.8" y2="590.04" stroke="#222" stroke-width="0.9"/>
<line x1="280.6" y1="590.04" x2="285.0" y2="590.04" stroke="#222" stroke-width="0.9"/>
<line x1="280.6" y1="563.67" x2="285.0" y2="563.67" stroke="#222" stroke-width="0.9"/>
<rect x="278.5" y="567.78" width="8.6" height="19.18" fill="#8ccc8c"/>
<line x1="278.5" y1="573.60" x2="287.1" y2="573.60" stroke="#111" stroke-width="1.3"/>
<line x1="298" y1="551.34" x2="298" y2="580.11" stroke="#222" stroke-width="0.9"/>
<line x1="295.8" y1="580.11" x2="300.2" y2="580.11" stroke="#222" stroke-width="0.9"/>
<line x1="295.8" y1="551.34" x2="300.2" y2="551.34" stroke="#222" stroke-width="0.9"/>
<rect x="293.7" y="554.08" width="8.6" height="21.92" fill="#ffae86"/>
<line x1="293.7" y1="565.73" x2="302.3" y2="565.73" stroke="#111" stroke-width="1.3"/>
<line x1="328.2" y1="584.22" x2="328.2" y2="597.24" stroke="#222" stroke-width="0.9"/>
<line x1="326.0" y1="597.24" x2="330.4" y2="597.24" stroke="#222" stroke-width="0.9"/>
<line x1="326.0" y1="584.22" x2="330.4" y2="584.22" stroke="#222" stroke-width="0.9"/>
<rect x="323.9" y="586.27" width="8.6" height="4.79" fill="#a6d2ff"/>
<line x1="323.9" y1="589.01" x2="332.5" y2="589.01" stroke="#111" stroke-width="1.3"/>
<circle cx="219.30" cy="559.56" r="1.75" fill="#f4609e"/>
<circle cx="225.30" cy="558.19" r="1.75" fill="#f4609e"/>
<circle cx="219.30" cy="555.45" r="1.75" fill="#f4609e"/>
<circle cx="225.30" cy="554.08" r="1.75" fill="#f4609e"/>
<circle cx="220.05" cy="550.65" r="1.75" fill="#f4609e"/>
<circle cx="225.30" cy="549.97" r="1.75" fill="#f4609e"/>
<circle cx="234.30" cy="589.01" r="1.75" fill="#8a8416"/>
<circle cx="240.30" cy="589.01" r="1.75" fill="#8a8416"/>
<circle cx="237.30" cy="586.96" r="1.75" fill="#8a8416"/>
<circle cx="234.30" cy="586.27" r="1.75" fill="#8a8416"/>
<circle cx="240.30" cy="579.42" r="1.75" fill="#8a8416"/>
<circle cx="237.30" cy="576.00" r="1.75" fill="#8a8416"/>
<circle cx="249.50" cy="586.96" r="1.75" fill="#8a1aa0"/>
<circle cx="255.50" cy="586.27" r="1.75" fill="#8a1aa0"/>
<circle cx="249.50" cy="582.85" r="1.75" fill="#8a1aa0"/>
<circle cx="255.50" cy="582.16" r="1.75" fill="#8a1aa0"/>
<circle cx="252.50" cy="578.74" r="1.75" fill="#8a1aa0"/>
<circle cx="255.50" cy="576.68" r="1.75" fill="#8a1aa0"/>
<circle cx="249.50" cy="578.05" r="1.75" fill="#8a1aa0"/>
<circle cx="264.60" cy="583.53" r="1.75" fill="#ff8a1a"/>
<circle cx="270.60" cy="582.16" r="1.75" fill="#ff8a1a"/>
<circle cx="264.60" cy="578.74" r="1.75" fill="#ff8a1a"/>
<circle cx="270.60" cy="578.05" r="1.75" fill="#ff8a1a"/>
<circle cx="264.60" cy="551.34" r="1.75" fill="#ff8a1a"/>
<circle cx="270.60" cy="551.34" r="1.75" fill="#ff8a1a"/>
<circle cx="279.80" cy="589.70" r="1.75" fill="#1a8c28"/>
<circle cx="285.80" cy="588.33" r="1.75" fill="#1a8c28"/>
<circle cx="279.80" cy="576.00" r="1.75" fill="#1a8c28"/>
<circle cx="285.80" cy="573.94" r="1.75" fill="#1a8c28"/>
<circle cx="282.80" cy="567.78" r="1.75" fill="#1a8c28"/>
<circle cx="282.80" cy="563.67" r="1.75" fill="#1a8c28"/>
<circle cx="295.00" cy="580.79" r="1.75" fill="#ff5a14"/>
<circle cx="295.00" cy="573.26" r="1.75" fill="#ff5a14"/>
<circle cx="301.00" cy="571.89" r="1.75" fill="#ff5a14"/>
<circle cx="295.00" cy="558.19" r="1.75" fill="#ff5a14"/>
<circle cx="301.00" cy="555.45" r="1.75" fill="#ff5a14"/>
<circle cx="301.00" cy="551.34" r="1.75" fill="#ff5a14"/>
<circle cx="310.00" cy="536.95" r="1.75" fill="#8a8a8a"/>
<circle cx="313.00" cy="536.27" r="1.75" fill="#8a8a8a"/>
<circle cx="316.00" cy="536.61" r="1.75" fill="#8a8a8a"/>
<circle cx="325.20" cy="589.70" r="1.75" fill="#3a9cff"/>
<circle cx="331.20" cy="588.33" r="1.75" fill="#3a9cff"/>
<circle cx="325.20" cy="586.96" r="1.75" fill="#3a9cff"/>
<circle cx="331.20" cy="584.90" r="1.75" fill="#3a9cff"/>
<circle cx="328.20" cy="597.24" r="1.75" fill="#3a9cff"/>
<circle cx="331.20" cy="583.53" r="1.75" fill="#3a9cff"/>
<line x1="393.9" y1="530.8" x2="393.9" y2="604.4" stroke="#222" stroke-width="1.15"/>
<line x1="393.29999999999995" y1="603.8" x2="513" y2="603.8" stroke="#222" stroke-width="1.15"/>
<line x1="390.5" y1="603.40" x2="393.9" y2="603.40" stroke="#222" stroke-width="1"/>
<text x="388.9" y="606.10" font-size="8" text-anchor="end">0</text>
<line x1="390.5" y1="589.70" x2="393.9" y2="589.70" stroke="#222" stroke-width="1"/>
<text x="388.9" y="592.40" font-size="8" text-anchor="end">20</text>
<line x1="390.5" y1="576.00" x2="393.9" y2="576.00" stroke="#222" stroke-width="1"/>
<text x="388.9" y="578.70" font-size="8" text-anchor="end">40</text>
<line x1="390.5" y1="562.30" x2="393.9" y2="562.30" stroke="#222" stroke-width="1"/>
<text x="388.9" y="565.00" font-size="8" text-anchor="end">60</text>
<line x1="390.5" y1="548.60" x2="393.9" y2="548.60" stroke="#222" stroke-width="1"/>
<text x="388.9" y="551.30" font-size="8" text-anchor="end">80</text>
<line x1="390.5" y1="534.90" x2="393.9" y2="534.90" stroke="#222" stroke-width="1"/>
<text x="388.9" y="537.60" font-size="8" text-anchor="end">100</text>
<text x="442.6" y="524.8" font-size="9.2">Day 7</text>
<text transform="translate(370.2,595.2) rotate(-90)" font-size="8.4" textLength="55" lengthAdjust="spacingAndGlyphs">% Rh-123 effluxing</text>
<line x1="401.6" y1="603.8" x2="401.6" y2="607" stroke="#222" stroke-width="1"/>
<text transform="translate(403.8,613.6) rotate(-45)" font-size="7.3" text-anchor="end">Naïve</text>
<line x1="416.5" y1="603.8" x2="416.5" y2="607" stroke="#222" stroke-width="1"/>
<text transform="translate(418.7,613.6) rotate(-45)" font-size="7.3" text-anchor="end">CM</text>
<line x1="431.5" y1="603.8" x2="431.5" y2="607" stroke="#222" stroke-width="1"/>
<text transform="translate(433.7,613.6) rotate(-45)" font-size="7.3" text-anchor="end">EM</text>
<line x1="446" y1="603.8" x2="446" y2="607" stroke="#222" stroke-width="1"/>
<text transform="translate(448.2,613.6) rotate(-45)" font-size="7.3" text-anchor="end">TEMRA</text>
<line x1="461" y1="603.8" x2="461" y2="607" stroke="#222" stroke-width="1"/>
<text transform="translate(463.2,613.6) rotate(-45)" font-size="7.3" text-anchor="end">T<tspan font-size="5.4" dy="2">scm</tspan></text>
<line x1="476.3" y1="603.8" x2="476.3" y2="607" stroke="#222" stroke-width="1"/>
<text transform="translate(478.5,613.6) rotate(-45)" font-size="7.3" text-anchor="end">Non-MAIT</text>
<line x1="491.8" y1="603.8" x2="491.8" y2="607" stroke="#222" stroke-width="1"/>
<text transform="translate(494.0,613.6) rotate(-45)" font-size="7.3" text-anchor="end">MAIT</text>
<line x1="506.6" y1="603.8" x2="506.6" y2="607" stroke="#222" stroke-width="1"/>
<text transform="translate(508.8,613.6) rotate(-45)" font-size="7.3" text-anchor="end">CD25<tspan font-size="5.4" dy="-2.8">+</tspan></text>
<line x1="401.6" y1="544.49" x2="401.6" y2="570.52" stroke="#222" stroke-width="0.9"/>
<line x1="399.40000000000003" y1="570.52" x2="403.8" y2="570.52" stroke="#222" stroke-width="0.9"/>
<line x1="399.40000000000003" y1="544.49" x2="403.8" y2="544.49" stroke="#222" stroke-width="0.9"/>
<rect x="397.3" y="547.23" width="8.6" height="16.44" fill="#f9b2d0"/>
<line x1="397.3" y1="554.08" x2="405.90000000000003" y2="554.08" stroke="#111" stroke-width="1.3"/>
<line x1="416.5" y1="586.96" x2="416.5" y2="599.29" stroke="#222" stroke-width="0.9"/>
<line x1="414.3" y1="599.29" x2="418.7" y2="599.29" stroke="#222" stroke-width="0.9"/>
<line x1="414.3" y1="586.96" x2="418.7" y2="586.96" stroke="#222" stroke-width="0.9"/>
<rect x="412.2" y="591.07" width="8.6" height="6.85" fill="#c9c68a"/>
<line x1="412.2" y1="595.18" x2="420.8" y2="595.18" stroke="#111" stroke-width="1.3"/>
<line x1="431.5" y1="573.26" x2="431.5" y2="597.24" stroke="#222" stroke-width="0.9"/>
<line x1="429.3" y1="597.24" x2="433.7" y2="597.24" stroke="#222" stroke-width="0.9"/>
<line x1="429.3" y1="573.26" x2="433.7" y2="573.26" stroke="#222" stroke-width="0.9"/>
<rect x="427.2" y="579.42" width="8.6" height="15.07" fill="#cc95da"/>
<line x1="427.2" y1="584.90" x2="435.8" y2="584.90" stroke="#111" stroke-width="1.3"/>
<line x1="446" y1="552.71" x2="446" y2="589.70" stroke="#222" stroke-width="0.9"/>
<line x1="443.8" y1="589.70" x2="448.2" y2="589.70" stroke="#222" stroke-width="0.9"/>
<line x1="443.8" y1="552.71" x2="448.2" y2="552.71" stroke="#222" stroke-width="0.9"/>
<rect x="441.7" y="561.27" width="8.6" height="19.80" fill="#ffc28e"/>
<line x1="441.7" y1="575.59" x2="450.3" y2="575.59" stroke="#111" stroke-width="1.3"/>
<line x1="461" y1="584.22" x2="461" y2="599.98" stroke="#222" stroke-width="0.9"/>
<line x1="458.8" y1="599.98" x2="463.2" y2="599.98" stroke="#222" stroke-width="0.9"/>
<line x1="458.8" y1="584.22" x2="463.2" y2="584.22" stroke="#222" stroke-width="0.9"/>
<rect x="456.7" y="584.22" width="8.6" height="13.01" fill="#8ccc8c"/>
<line x1="456.7" y1="591.75" x2="465.3" y2="591.75" stroke="#111" stroke-width="1.3"/>
<line x1="476.3" y1="565.04" x2="476.3" y2="602.03" stroke="#222" stroke-width="0.9"/>
<line x1="474.1" y1="602.03" x2="478.5" y2="602.03" stroke="#222" stroke-width="0.9"/>
<line x1="474.1" y1="565.04" x2="478.5" y2="565.04" stroke="#222" stroke-width="0.9"/>
<rect x="472.0" y="565.73" width="8.6" height="28.77" fill="#ffae86"/>
<line x1="472.0" y1="582.85" x2="480.6" y2="582.85" stroke="#111" stroke-width="1.3"/>
<line x1="506.6" y1="589.70" x2="506.6" y2="602.03" stroke="#222" stroke-width="0.9"/>
<line x1="504.40000000000003" y1="602.03" x2="508.8" y2="602.03" stroke="#222" stroke-width="0.9"/>
<line x1="504.40000000000003" y1="589.70" x2="508.8" y2="589.70" stroke="#222" stroke-width="0.9"/>
<rect x="502.3" y="591.07" width="8.6" height="8.22" fill="#a6d2ff"/>
<line x1="502.3" y1="594.50" x2="510.90000000000003" y2="594.50" stroke="#111" stroke-width="1.3"/>
<circle cx="401.60" cy="570.52" r="1.75" fill="#f4609e"/>
<circle cx="398.60" cy="560.25" r="1.75" fill="#f4609e"/>
<circle cx="404.60" cy="556.82" r="1.75" fill="#f4609e"/>
<circle cx="401.60" cy="552.71" r="1.75" fill="#f4609e"/>
<circle cx="404.60" cy="549.28" r="1.75" fill="#f4609e"/>
<circle cx="401.60" cy="544.49" r="1.75" fill="#f4609e"/>
<circle cx="413.50" cy="598.61" r="1.75" fill="#8a8416"/>
<circle cx="419.50" cy="597.92" r="1.75" fill="#8a8416"/>
<circle cx="416.50" cy="595.18" r="1.75" fill="#8a8416"/>
<circle cx="419.50" cy="593.81" r="1.75" fill="#8a8416"/>
<circle cx="413.50" cy="591.75" r="1.75" fill="#8a8416"/>
<circle cx="416.50" cy="586.96" r="1.75" fill="#8a8416"/>
<circle cx="431.50" cy="596.55" r="1.75" fill="#8a1aa0"/>
<circle cx="428.50" cy="591.75" r="1.75" fill="#8a1aa0"/>
<circle cx="434.50" cy="588.33" r="1.75" fill="#8a1aa0"/>
<circle cx="431.50" cy="584.22" r="1.75" fill="#8a1aa0"/>
<circle cx="428.50" cy="579.42" r="1.75" fill="#8a1aa0"/>
<circle cx="431.50" cy="573.26" r="1.75" fill="#8a1aa0"/>
<circle cx="446.00" cy="589.70" r="1.75" fill="#ff8a1a"/>
<circle cx="443.00" cy="576.00" r="1.75" fill="#ff8a1a"/>
<circle cx="449.00" cy="575.31" r="1.75" fill="#ff8a1a"/>
<circle cx="446.00" cy="570.52" r="1.75" fill="#ff8a1a"/>
<circle cx="449.00" cy="563.67" r="1.75" fill="#ff8a1a"/>
<circle cx="446.00" cy="552.71" r="1.75" fill="#ff8a1a"/>
<circle cx="461.00" cy="599.29" r="1.75" fill="#1a8c28"/>
<circle cx="458.00" cy="595.18" r="1.75" fill="#1a8c28"/>
<circle cx="464.00" cy="591.75" r="1.75" fill="#1a8c28"/>
<circle cx="458.00" cy="590.38" r="1.75" fill="#1a8c28"/>
<circle cx="464.00" cy="584.90" r="1.75" fill="#1a8c28"/>
<circle cx="461.00" cy="584.22" r="1.75" fill="#1a8c28"/>
<circle cx="476.30" cy="602.03" r="1.75" fill="#ff5a14"/>
<circle cx="473.30" cy="593.81" r="1.75" fill="#ff5a14"/>
<circle cx="479.30" cy="582.85" r="1.75" fill="#ff5a14"/>
<circle cx="473.30" cy="565.73" r="1.75" fill="#ff5a14"/>
<circle cx="479.30" cy="565.04" r="1.75" fill="#ff5a14"/>
<circle cx="476.30" cy="579.42" r="1.75" fill="#ff5a14"/>
<circle cx="489.55" cy="539.69" r="1.75" fill="#8a8a8a"/>
<circle cx="491.80" cy="537.64" r="1.75" fill="#8a8a8a"/>
<circle cx="494.05" cy="538.32" r="1.75" fill="#8a8a8a"/>
<circle cx="492.55" cy="541.06" r="1.75" fill="#8a8a8a"/>
<circle cx="491.05" cy="536.95" r="1.75" fill="#8a8a8a"/>
<circle cx="494.05" cy="540.38" r="1.75" fill="#8a8a8a"/>
<circle cx="503.60" cy="600.66" r="1.75" fill="#3a9cff"/>
<circle cx="509.60" cy="597.24" r="1.75" fill="#3a9cff"/>
<circle cx="506.60" cy="594.50" r="1.75" fill="#3a9cff"/>
<circle cx="503.60" cy="592.44" r="1.75" fill="#3a9cff"/>
<circle cx="509.60" cy="590.38" r="1.75" fill="#3a9cff"/>
<circle cx="506.60" cy="602.03" r="1.75" fill="#3a9cff"/>
<rect x="0.5" y="0.5" width="519" height="643" fill="none" stroke="#000" stroke-width="1"/>
</svg></body></html>
